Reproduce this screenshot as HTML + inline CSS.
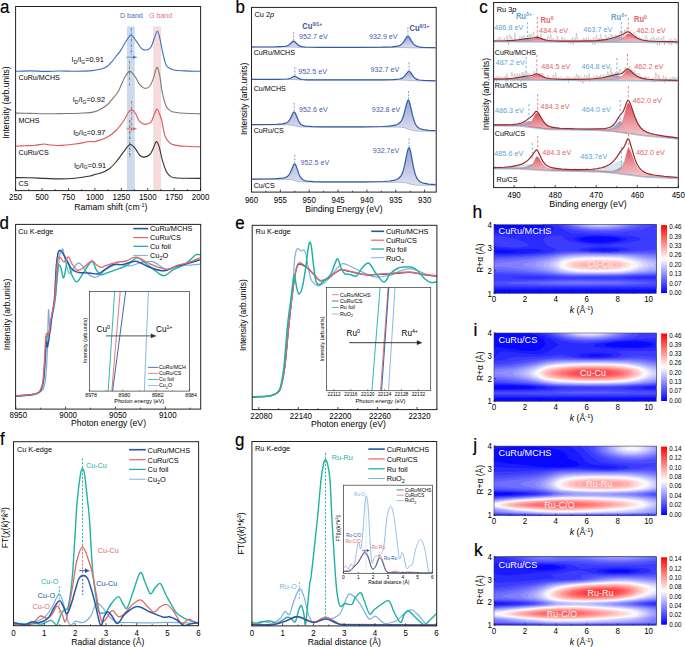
<!DOCTYPE html>
<html><head><meta charset="utf-8"><style>html,body{margin:0;padding:0;background:#fff;overflow:hidden;}svg{display:block;}text{font-family:"Liberation Sans",sans-serif;}</style></head><body><svg width="685" height="647" viewBox="0 0 685 647" font-family='"Liberation Sans", sans-serif'><defs><linearGradient id="gb" x1="0" y1="0" x2="0" y2="1"><stop offset="0" stop-color="#8f95cf"/><stop offset="1" stop-color="#dcdef0"/></linearGradient><linearGradient id="gr0" x1="0" y1="0" x2="0" y2="1"><stop offset="0" stop-color="#dc4854"/><stop offset="1" stop-color="#f7cdd0"/></linearGradient><linearGradient id="gbd" x1="0" y1="0" x2="0" y2="1"><stop offset="0" stop-color="#8a98bc"/><stop offset="1" stop-color="#c9cfe2"/></linearGradient><clipPath id="cd"><rect x="15.6" y="224.4" width="185.1" height="184.70000000000002"/></clipPath><clipPath id="ce"><rect x="252.2" y="225.3" width="184.7" height="184.3"/></clipPath><clipPath id="cf"><rect x="13.5" y="441.7" width="185.1" height="184.00000000000006"/></clipPath><clipPath id="cg"><rect x="251.9" y="441.5" width="184.79999999999998" height="184.39999999999998"/></clipPath><clipPath id="cgi"><rect x="343.4" y="485.2" width="89.0" height="88.09999999999997"/></clipPath><clipPath id="cliph"><rect x="494" y="224.6" width="162.3" height="69"/></clipPath><linearGradient id="cbh" x1="0" y1="1" x2="0" y2="0"><stop offset="0" stop-color="#0000ff"/><stop offset="0.5" stop-color="#ffffff"/><stop offset="1" stop-color="#ff0000"/></linearGradient><clipPath id="clipi"><rect x="494" y="333" width="162.3" height="68.5"/></clipPath><linearGradient id="cbi" x1="0" y1="1" x2="0" y2="0"><stop offset="0" stop-color="#0000ff"/><stop offset="0.5" stop-color="#ffffff"/><stop offset="1" stop-color="#ff0000"/></linearGradient><clipPath id="clipj"><rect x="494" y="446.1" width="162.3" height="69.4"/></clipPath><linearGradient id="cbj" x1="0" y1="1" x2="0" y2="0"><stop offset="0" stop-color="#0000ff"/><stop offset="0.5" stop-color="#ffffff"/><stop offset="1" stop-color="#ff0000"/></linearGradient><clipPath id="clipk"><rect x="494" y="556.8" width="162.3" height="68.4"/></clipPath><linearGradient id="cbk" x1="0" y1="1" x2="0" y2="0"><stop offset="0" stop-color="#0000ff"/><stop offset="0.5" stop-color="#ffffff"/><stop offset="1" stop-color="#ff0000"/></linearGradient></defs><rect width="685" height="647" fill="#fff"/><rect x="126.9" y="26.4" width="7.9" height="164.2" fill="#cbdbec"/>
<rect x="153.2" y="26.4" width="7.8" height="164.2" fill="#f7dadc"/>
<text x="0" y="0" font-size="7.6" fill="#3d74bd" text-anchor="middle" transform="translate(131.4 18.4) scale(0.93 1)">D band</text>
<text x="0" y="0" font-size="7.6" fill="#e27476" text-anchor="middle" transform="translate(160.6 18.4) scale(0.93 1)">G band</text>
<path d="M15.6,71.3C18,71.23 25.1,70.88 30,70.9C34.9,70.92 40,71.38 45,71.4C50,71.42 55,71.02 60,71C65,70.98 69.62,71.37 75,71.3C80.38,71.23 88.13,70.93 92.3,70.6C96.47,70.27 97.6,69.95 100,69.3C102.4,68.65 104.62,68.12 106.7,66.7C108.78,65.28 110.87,62.65 112.5,60.8C114.13,58.95 115.25,57.17 116.5,55.6C117.75,54.03 118.2,54.12 120,51.4C121.8,48.68 125.42,42 127.3,39.3C129.18,36.6 129.72,34.77 131.3,35.2C132.88,35.63 135.15,39.75 136.8,41.9C138.45,44.05 139.98,46.77 141.2,48.1C142.42,49.43 142.88,49.7 144.1,49.9C145.32,50.1 147.28,49.9 148.5,49.3C149.72,48.7 150.43,48.15 151.4,46.3C152.37,44.45 153.3,40.7 154.3,38.2C155.3,35.7 156.48,31.3 157.4,31.3C158.32,31.3 158.98,34.97 159.8,38.2C160.62,41.43 161.52,47.07 162.3,50.7C163.08,54.33 163.83,57.53 164.5,60C165.17,62.47 165.38,64.08 166.3,65.5C167.22,66.92 168.55,67.72 170,68.5C171.45,69.28 172.5,69.8 175,70.2C177.5,70.6 180.73,70.72 185,70.9C189.27,71.08 198,71.23 200.6,71.3" stroke="#3a72bd" stroke-width="1.1" fill="none" stroke-linejoin="round" stroke-linecap="round"/>
<path d="M15.6,113.1C18,113.15 25.1,113.28 30,113.4C34.9,113.52 40,113.77 45,113.8C50,113.83 54.17,113.7 60,113.6C65.83,113.5 74.17,113.53 80,113.2C85.83,112.87 90.55,112.93 95,111.6C99.45,110.27 103.78,107.33 106.7,105.2C109.62,103.07 110.55,101.13 112.5,98.8C114.45,96.47 116.45,94.6 118.4,91.2C120.35,87.8 122.35,81.7 124.2,78.4C126.05,75.1 127.75,71.8 129.5,71.4C131.25,71 133.05,73.87 134.7,76C136.35,78.13 137.75,82.15 139.4,84.2C141.05,86.25 142.85,88 144.6,88.3C146.35,88.6 148.43,87.65 149.9,86C151.37,84.35 152.23,81.52 153.4,78.4C154.57,75.28 155.83,67.7 156.9,67.3C157.97,66.9 158.92,71.82 159.8,76C160.68,80.18 161.12,87.33 162.2,92.4C163.28,97.47 164.85,103.28 166.3,106.4C167.75,109.52 169.45,110.13 170.9,111.1C172.35,112.07 172.65,111.83 175,112.2C177.35,112.57 180.73,113.02 185,113.3C189.27,113.58 198,113.8 200.6,113.9" stroke="#7a7a7a" stroke-width="1.1" fill="none" stroke-linejoin="round" stroke-linecap="round"/>
<path d="M15.6,146.2C17.17,146.12 21.77,145.85 25,145.7C28.23,145.55 31.82,145.58 35,145.3C38.18,145.02 41.6,144.05 44.1,144C46.6,143.95 47.28,144.77 50,145C52.72,145.23 56.23,145.57 60.4,145.4C64.57,145.23 70.07,144.65 75,144C79.93,143.35 86.67,141.9 90,141.5C93.33,141.1 92.22,142.27 95,141.6C97.78,140.93 103.2,139.35 106.7,137.5C110.2,135.65 113.08,133.42 116,130.5C118.92,127.58 122.2,122.92 124.2,120C126.2,117.08 126.73,114.68 128,113C129.27,111.32 130.55,109.82 131.8,109.9C133.05,109.98 134.23,111.62 135.5,113.5C136.77,115.38 137.78,119.38 139.4,121.2C141.02,123.02 143.25,124.3 145.2,124.4C147.15,124.5 149.63,123.37 151.1,121.8C152.57,120.23 153.03,117.13 154,115C154.97,112.87 155.98,109.17 156.9,109C157.82,108.83 158.72,112.17 159.5,114C160.28,115.83 160.67,116.27 161.6,120C162.53,123.73 163.73,132.6 165.1,136.4C166.47,140.2 168.15,141.35 169.8,142.8C171.45,144.25 172.47,144.52 175,145.1C177.53,145.68 180.73,146 185,146.3C189.27,146.6 198,146.8 200.6,146.9" stroke="#e25656" stroke-width="1.1" fill="none" stroke-linejoin="round" stroke-linecap="round"/>
<path d="M15.6,177.6C18,177.63 25.1,177.67 30,177.8C34.9,177.93 39.93,178.22 45,178.4C50.07,178.58 55.4,178.93 60.4,178.9C65.4,178.87 70.07,178.68 75,178.2C79.93,177.72 86.67,176.65 90,176C93.33,175.35 93.2,174.78 95,174.3C96.8,173.82 98.47,173.98 100.8,173.1C103.13,172.22 106.47,170.85 109,169C111.53,167.15 113.67,164.72 116,162C118.33,159.28 120.67,155.62 123,152.7C125.33,149.78 127.95,145.18 130,144.5C132.05,143.82 133.73,146.85 135.3,148.6C136.87,150.35 137.93,153.58 139.4,155C140.87,156.42 142.35,157.18 144.1,157.1C145.85,157.02 148.35,156.02 149.9,154.5C151.45,152.98 152.33,150.15 153.4,148C154.47,145.85 155.33,141.78 156.3,141.6C157.27,141.42 158.22,143.88 159.2,146.9C160.18,149.92 161.02,155.62 162.2,159.7C163.38,163.78 164.85,168.58 166.3,171.4C167.75,174.22 169.45,175.53 170.9,176.6C172.35,177.67 172.65,177.52 175,177.8C177.35,178.08 180.73,178.2 185,178.3C189.27,178.4 198,178.38 200.6,178.4" stroke="#333333" stroke-width="1.1" fill="none" stroke-linejoin="round" stroke-linecap="round"/>
<line x1="131.3" y1="28" x2="131.3" y2="54.5" stroke="#3a72bd" stroke-width="0.9" stroke-dasharray="2.5,1.2,0.6,1.2"/>
<line x1="129.5" y1="61" x2="129.5" y2="86" stroke="#7a7a7a" stroke-width="0.9" stroke-dasharray="2.5,1.2,0.6,1.2"/>
<line x1="131.6" y1="101" x2="131.6" y2="132" stroke="#e25656" stroke-width="0.9" stroke-dasharray="2.5,1.2,0.6,1.2"/>
<line x1="129.8" y1="120" x2="129.8" y2="157.4" stroke="#555" stroke-width="0.9" stroke-dasharray="2.5,1.2,0.6,1.2"/>
<line x1="126.3" y1="57.2" x2="134.5" y2="57.2" stroke="#3a72bd" stroke-width="0.7"/>
<path d="M133,55.9L137.2,57.2L133,58.5Z" stroke="#3a72bd" stroke-width="0.2" fill="#3a72bd"/>
<line x1="126.3" y1="128.8" x2="134.3" y2="128.8" stroke="#e25656" stroke-width="0.7"/>
<path d="M133,127.5L136.8,128.8L133,130.1Z" stroke="#e25656" stroke-width="0.2" fill="#e25656"/>
<text x="0" y="0" font-size="7.92" fill="#000" transform="translate(71.6 62.3) scale(0.93 1)">I<tspan font-size="5.35" dy="1.6">D</tspan><tspan dy="-1.6">/I</tspan><tspan font-size="5.35" dy="1.6">G</tspan><tspan dy="-1.6">=0.91</tspan></text>
<text x="0" y="0" font-size="7.92" fill="#000" transform="translate(72.8 102.2) scale(0.93 1)">I<tspan font-size="5.35" dy="1.6">D</tspan><tspan dy="-1.6">/I</tspan><tspan font-size="5.35" dy="1.6">G</tspan><tspan dy="-1.6">=0.92</tspan></text>
<text x="0" y="0" font-size="7.92" fill="#000" transform="translate(73.2 134.6) scale(0.93 1)">I<tspan font-size="5.35" dy="1.6">D</tspan><tspan dy="-1.6">/I</tspan><tspan font-size="5.35" dy="1.6">G</tspan><tspan dy="-1.6">=0.97</tspan></text>
<text x="0" y="0" font-size="7.92" fill="#000" transform="translate(74 167.8) scale(0.93 1)">I<tspan font-size="5.35" dy="1.6">D</tspan><tspan dy="-1.6">/I</tspan><tspan font-size="5.35" dy="1.6">G</tspan><tspan dy="-1.6">=0.91</tspan></text>
<text x="0" y="0" font-size="7.7" fill="#000" transform="translate(18.5 79.8) scale(0.93 1)">CuRu/MCHS</text>
<text x="0" y="0" font-size="7.7" fill="#000" transform="translate(18.5 122.8) scale(0.93 1)">MCHS</text>
<text x="0" y="0" font-size="7.7" fill="#000" transform="translate(18.5 155.3) scale(0.93 1)">CuRu/CS</text>
<text x="0" y="0" font-size="7.7" fill="#000" transform="translate(18.5 185.8) scale(0.93 1)">CS</text>
<rect x="15.6" y="6.5" width="185" height="184.1" fill="none" stroke="#222" stroke-width="1"/>
<line x1="15.6" y1="190.6" x2="15.6" y2="188" stroke="#222" stroke-width="0.8"/>
<text x="0" y="0" font-size="8.56" fill="#000" text-anchor="middle" transform="translate(15.6 200.4) scale(0.93 1)">250</text>
<line x1="28.81" y1="190.6" x2="28.81" y2="189.2" stroke="#222" stroke-width="0.8"/>
<line x1="42.03" y1="190.6" x2="42.03" y2="188" stroke="#222" stroke-width="0.8"/>
<text x="0" y="0" font-size="8.56" fill="#000" text-anchor="middle" transform="translate(42.03 200.4) scale(0.93 1)">500</text>
<line x1="55.24" y1="190.6" x2="55.24" y2="189.2" stroke="#222" stroke-width="0.8"/>
<line x1="68.46" y1="190.6" x2="68.46" y2="188" stroke="#222" stroke-width="0.8"/>
<text x="0" y="0" font-size="8.56" fill="#000" text-anchor="middle" transform="translate(68.46 200.4) scale(0.93 1)">750</text>
<line x1="81.67" y1="190.6" x2="81.67" y2="189.2" stroke="#222" stroke-width="0.8"/>
<line x1="94.89" y1="190.6" x2="94.89" y2="188" stroke="#222" stroke-width="0.8"/>
<text x="0" y="0" font-size="8.56" fill="#000" text-anchor="middle" transform="translate(94.89 200.4) scale(0.93 1)">1000</text>
<line x1="108.1" y1="190.6" x2="108.1" y2="189.2" stroke="#222" stroke-width="0.8"/>
<line x1="121.31" y1="190.6" x2="121.31" y2="188" stroke="#222" stroke-width="0.8"/>
<text x="0" y="0" font-size="8.56" fill="#000" text-anchor="middle" transform="translate(121.31 200.4) scale(0.93 1)">1250</text>
<line x1="134.53" y1="190.6" x2="134.53" y2="189.2" stroke="#222" stroke-width="0.8"/>
<line x1="147.74" y1="190.6" x2="147.74" y2="188" stroke="#222" stroke-width="0.8"/>
<text x="0" y="0" font-size="8.56" fill="#000" text-anchor="middle" transform="translate(147.74 200.4) scale(0.93 1)">1500</text>
<line x1="160.96" y1="190.6" x2="160.96" y2="189.2" stroke="#222" stroke-width="0.8"/>
<line x1="174.17" y1="190.6" x2="174.17" y2="188" stroke="#222" stroke-width="0.8"/>
<text x="0" y="0" font-size="8.56" fill="#000" text-anchor="middle" transform="translate(174.17 200.4) scale(0.93 1)">1750</text>
<line x1="187.39" y1="190.6" x2="187.39" y2="189.2" stroke="#222" stroke-width="0.8"/>
<line x1="200.6" y1="190.6" x2="200.6" y2="188" stroke="#222" stroke-width="0.8"/>
<text x="0" y="0" font-size="8.56" fill="#000" text-anchor="middle" transform="translate(200.6 200.4) scale(0.93 1)">2000</text>
<text x="0" y="0" font-size="9.31" fill="#000" text-anchor="middle" transform="translate(110.8 209.9) scale(0.93 1)">Ramam shift (cm<tspan font-size="5.89" dy="-3">-1</tspan><tspan dy="3">)</tspan></text>
<text x="0" y="0" font-size="9.15" fill="#000" text-anchor="middle" transform="translate(9.1 102.5) rotate(-90) scale(0.93 1)">Intensity (arb.units)</text>
<text x="0" y="0" font-size="18.19" fill="#000" stroke="#000" stroke-width="0.2" transform="translate(0 12.9) scale(0.93 1)">a</text>
<path d="M257.5,47L277.5,46.8 285.5,46.3 288.5,45.2 289.5,44.5 292.5,41.6 293.5,41.1 294.5,41.4 297.5,44.5 299.5,45.9 301.5,46.6 305.5,47 319.5,47.3 359.5,47.3 381.5,47.2 392.5,46.8 397.5,46.2 400.5,45.1 402.5,43.4 406.5,37.2 407.5,36.3 408.5,36.4 409.5,37.6 411.5,41.1 413.5,43.9 414.5,44.9 416.5,46.1 418.5,46.8 422.5,47.3 435.5,47.7 435.5,47.9 414.5,47.9 398.5,47.4 303.5,47.4 286.5,47 257.5,47Z" fill="url(#gb)" stroke="none" opacity="0.9"/>
<path d="M251.5,47L286.5,47 303.5,47.4 398.5,47.4 414.5,47.9 435.5,47.9" stroke="#8088a8" stroke-width="0.5" fill="none"/>
<path d="M251.5,47L275.5,46.8 284.5,46.4 286.5,46 288.5,45.2 289.5,44.5 292.5,41.6 293.5,41.1 294.5,41.4 297.5,44.5 299.5,45.9 301.5,46.6 305.5,47 319.5,47.3 359.5,47.3 381.5,47.2 392.5,46.8 397.5,46.2 399.5,45.6 400.5,45.1 402.5,43.4 403.5,42.1 406.5,37.2 407.5,36.3 408.5,36.4 409.5,37.6 411.5,41.1 413.5,43.9 414.5,44.9 416.5,46.1 418.5,46.8 422.5,47.3 435.5,47.7" stroke="#2f5ca6" stroke-width="1.2" fill="none" stroke-linejoin="round"/>
<line x1="293.63" y1="32.1" x2="293.63" y2="40.1" stroke="#5a70b8" stroke-width="0.7" stroke-dasharray="2,1.3"/>
<line x1="407.92" y1="27.2" x2="407.92" y2="35.2" stroke="#5a70b8" stroke-width="0.7" stroke-dasharray="2,1.3"/>
<path d="M269.5,79.4L282.5,79.2 287.5,78.9 290.5,78.2 293.5,76.5 294.5,76.2 295.5,76.4 298.5,78.3 300.5,79.1 302.5,79.5 306.5,79.8 368.5,79.9 394.5,79.6 399.5,79 402.5,77.9 404.5,76.2 407.5,72.3 408.5,71.4 409.5,71.4 410.5,72.4 412.5,75.4 414.5,77.8 415.5,78.6 417.5,79.6 419.5,80 423.5,80.4 435.5,80.8 435.5,80.9 415.5,80.8 405.5,80.2 399.5,80 304.5,80 288.5,79.4 269.5,79.4Z" fill="url(#gb)" stroke="none" opacity="0.9"/>
<path d="M251.5,79.4L287.5,79.4 304.5,80 399.5,80 405.5,80.2 415.5,80.8 435.5,80.9" stroke="#8088a8" stroke-width="0.5" fill="none"/>
<path d="M251.5,79.4L277.5,79.3 286.5,79 288.5,78.8 290.5,78.2 293.5,76.5 294.5,76.2 295.5,76.4 298.5,78.3 300.5,79.1 302.5,79.5 306.5,79.8 365.5,79.9 383.5,79.8 393.5,79.6 399.5,79 401.5,78.4 402.5,77.9 404.5,76.2 407.5,72.3 408.5,71.4 409.5,71.4 410.5,72.4 412.5,75.4 414.5,77.8 415.5,78.6 417.5,79.6 419.5,80 423.5,80.4 435.5,80.8" stroke="#2f5ca6" stroke-width="1.2" fill="none" stroke-linejoin="round"/>
<line x1="294.79" y1="67.2" x2="294.79" y2="75.2" stroke="#5a70b8" stroke-width="0.7" stroke-dasharray="2,1.3"/>
<line x1="409.07" y1="62.3" x2="409.07" y2="70.3" stroke="#5a70b8" stroke-width="0.7" stroke-dasharray="2,1.3"/>
<path d="M251.5,124.6L276.5,124.3 282.5,123.9 285.5,123.2 287.5,122.3 288.5,121.4 290.5,118.4 292.5,113.9 293.5,112.2 294.5,112 295.5,113.6 298.5,121 300.5,123.9 302.5,125.2 306.5,126.2 312.5,126.6 321.5,126.8 361.5,126.8 382.5,126.5 392.5,125.7 396.5,124.8 398.5,123.8 400.5,122 401.5,120.6 403.5,115.8 407.5,101 408.5,100 409.5,101.8 412.5,115.2 414.5,122 415.5,124.3 417.5,127.1 419.5,128.5 423.5,129.7 428.5,130.3 435.5,130.7 435.5,131.2 420.5,131.2 414.5,130.9 411.5,130.2 404.5,127.7 398.5,127.1 304.5,127 298.5,126.6 290.5,125.1 286.5,124.8 251.5,124.7Z" fill="url(#gb)" stroke="none" opacity="0.9"/>
<path d="M251.5,124.7L286.5,124.8 290.5,125.1 298.5,126.6 304.5,127 398.5,127.1 401.5,127.2 404.5,127.7 411.5,130.2 414.5,130.9 420.5,131.2 435.5,131.2" stroke="#8088a8" stroke-width="0.5" fill="none"/>
<path d="M251.5,124.6L276.5,124.3 282.5,123.9 285.5,123.2 287.5,122.3 288.5,121.4 289.5,120.1 290.5,118.4 292.5,113.9 293.5,112.2 294.5,112 295.5,113.6 298.5,121 299.5,122.7 300.5,123.9 302.5,125.2 304.5,125.9 306.5,126.2 312.5,126.6 321.5,126.8 361.5,126.8 382.5,126.5 388.5,126.1 392.5,125.7 396.5,124.8 398.5,123.8 400.5,122 401.5,120.6 402.5,118.5 403.5,115.8 406.5,104.2 407.5,101 408.5,100 409.5,101.8 412.5,115.2 414.5,122 415.5,124.3 416.5,125.9 417.5,127.1 419.5,128.5 421.5,129.2 423.5,129.7 428.5,130.3 435.5,130.7" stroke="#2f5ca6" stroke-width="1.2" fill="none" stroke-linejoin="round"/>
<line x1="294.21" y1="102.9" x2="294.21" y2="110.9" stroke="#5a70b8" stroke-width="0.7" stroke-dasharray="2,1.3"/>
<line x1="408.5" y1="91" x2="408.5" y2="99" stroke="#5a70b8" stroke-width="0.7" stroke-dasharray="2,1.3"/>
<path d="M251.5,179.1L276.5,178.7 282.5,178.2 285.5,177.5 287.5,176.4 289.5,174.1 290.5,172.3 293.5,165 294.5,163.8 295.5,164.5 298.5,172.9 300.5,177.2 301.5,178.5 303.5,180 305.5,180.8 307.5,181.2 313.5,181.7 322.5,181.9 363.5,181.9 383.5,181.5 389.5,181 393.5,180.4 396.5,179.5 398.5,178.5 400.5,176.5 401.5,174.9 403.5,169.6 404.5,165.7 407.5,151 408.5,147.9 409.5,147.9 410.5,151.2 413.5,167.3 414.5,171.6 415.5,174.9 417.5,179.2 419.5,181.4 421.5,182.5 423.5,183.2 428.5,184.1 435.5,184.6 435.5,185.3 415.5,185.1 411.5,184.4 405.5,182.8 400.5,182.3 304.5,182.1 298.5,181.6 291.5,179.8 287.5,179.4 251.5,179.2Z" fill="url(#gb)" stroke="none" opacity="0.9"/>
<path d="M251.5,179.2L287.5,179.4 291.5,179.8 298.5,181.6 304.5,182.1 400.5,182.3 405.5,182.8 411.5,184.4 415.5,185.1 420.5,185.3 435.5,185.3" stroke="#8088a8" stroke-width="0.5" fill="none"/>
<path d="M251.5,179.1L267.5,179 276.5,178.7 282.5,178.2 285.5,177.5 287.5,176.4 288.5,175.5 289.5,174.1 290.5,172.3 293.5,165 294.5,163.8 295.5,164.5 296.5,166.9 298.5,172.9 299.5,175.4 300.5,177.2 301.5,178.5 303.5,180 305.5,180.8 307.5,181.2 313.5,181.7 322.5,181.9 363.5,181.9 383.5,181.5 389.5,181 393.5,180.4 396.5,179.5 398.5,178.5 400.5,176.5 401.5,174.9 402.5,172.6 403.5,169.6 404.5,165.7 407.5,151 408.5,147.9 409.5,147.9 410.5,151.2 413.5,167.3 414.5,171.6 415.5,174.9 416.5,177.4 417.5,179.2 418.5,180.5 419.5,181.4 421.5,182.5 423.5,183.2 428.5,184.1 435.5,184.6" stroke="#2f5ca6" stroke-width="1.2" fill="none" stroke-linejoin="round"/>
<line x1="294.79" y1="154.8" x2="294.79" y2="162.8" stroke="#5a70b8" stroke-width="0.7" stroke-dasharray="2,1.3"/>
<line x1="409.07" y1="138.5" x2="409.07" y2="146.5" stroke="#5a70b8" stroke-width="0.7" stroke-dasharray="2,1.3"/>
<text x="0" y="0" font-size="8.13" fill="#3b4f9e" font-weight="bold" transform="translate(302.3 28.6) scale(0.93 1)">Cu<tspan font-size="5.35" dy="-2.8">0/1+</tspan></text>
<text x="0" y="0" font-size="8.13" fill="#3b4f9e" font-weight="bold" transform="translate(409.5 30.8) scale(0.93 1)">Cu<tspan font-size="5.35" dy="-2.8">0/1+</tspan></text>
<text x="0" y="0" font-size="7.7" fill="#4a5daa" transform="translate(299.1 39) scale(0.93 1)">952.7 eV</text>
<text x="0" y="0" font-size="7.7" fill="#4a5daa" transform="translate(369 39) scale(0.93 1)">932.9 eV</text>
<text x="0" y="0" font-size="7.7" fill="#4a5daa" transform="translate(298.3 73.6) scale(0.93 1)">952.5 eV</text>
<text x="0" y="0" font-size="7.7" fill="#4a5daa" transform="translate(370.6 71.9) scale(0.93 1)">932.7 eV</text>
<text x="0" y="0" font-size="7.7" fill="#4a5daa" transform="translate(299.1 111.6) scale(0.93 1)">952.6 eV</text>
<text x="0" y="0" font-size="7.7" fill="#4a5daa" transform="translate(371.7 111.6) scale(0.93 1)">932.8 eV</text>
<text x="0" y="0" font-size="7.7" fill="#4a5daa" transform="translate(300.6 164.5) scale(0.93 1)">952.5 eV</text>
<text x="0" y="0" font-size="7.7" fill="#4a5daa" transform="translate(372.7 152.7) scale(0.93 1)">932.7eV</text>
<text x="0" y="0" font-size="7.7" fill="#000" transform="translate(253.7 54.6) scale(0.93 1)">CuRu/MCHS</text>
<text x="0" y="0" font-size="7.7" fill="#000" transform="translate(253.7 91.2) scale(0.93 1)">Cu/MCHS</text>
<text x="0" y="0" font-size="7.7" fill="#000" transform="translate(253.7 132.5) scale(0.93 1)">CuRu/CS</text>
<text x="0" y="0" font-size="7.7" fill="#000" transform="translate(253.7 187.6) scale(0.93 1)">Cu/CS</text>
<text x="0" y="0" font-size="7.92" transform="translate(254.5 17.2) scale(0.93 1)">Cu 2<tspan font-style="italic">p</tspan></text>
<rect x="251.5" y="7.4" width="184.7" height="184.7" fill="none" stroke="#222" stroke-width="1"/>
<line x1="424.66" y1="192.1" x2="424.66" y2="189.5" stroke="#222" stroke-width="0.8"/>
<text x="0" y="0" font-size="8.56" fill="#000" text-anchor="middle" transform="translate(424.66 202.5) scale(0.93 1)">930</text>
<line x1="410.23" y1="192.1" x2="410.23" y2="190.7" stroke="#222" stroke-width="0.8"/>
<line x1="395.8" y1="192.1" x2="395.8" y2="189.5" stroke="#222" stroke-width="0.8"/>
<text x="0" y="0" font-size="8.56" fill="#000" text-anchor="middle" transform="translate(395.8 202.5) scale(0.93 1)">935</text>
<line x1="381.37" y1="192.1" x2="381.37" y2="190.7" stroke="#222" stroke-width="0.8"/>
<line x1="366.94" y1="192.1" x2="366.94" y2="189.5" stroke="#222" stroke-width="0.8"/>
<text x="0" y="0" font-size="8.56" fill="#000" text-anchor="middle" transform="translate(366.94 202.5) scale(0.93 1)">940</text>
<line x1="352.51" y1="192.1" x2="352.51" y2="190.7" stroke="#222" stroke-width="0.8"/>
<line x1="338.08" y1="192.1" x2="338.08" y2="189.5" stroke="#222" stroke-width="0.8"/>
<text x="0" y="0" font-size="8.56" fill="#000" text-anchor="middle" transform="translate(338.08 202.5) scale(0.93 1)">945</text>
<line x1="323.65" y1="192.1" x2="323.65" y2="190.7" stroke="#222" stroke-width="0.8"/>
<line x1="309.22" y1="192.1" x2="309.22" y2="189.5" stroke="#222" stroke-width="0.8"/>
<text x="0" y="0" font-size="8.56" fill="#000" text-anchor="middle" transform="translate(309.22 202.5) scale(0.93 1)">950</text>
<line x1="294.79" y1="192.1" x2="294.79" y2="190.7" stroke="#222" stroke-width="0.8"/>
<line x1="280.36" y1="192.1" x2="280.36" y2="189.5" stroke="#222" stroke-width="0.8"/>
<text x="0" y="0" font-size="8.56" fill="#000" text-anchor="middle" transform="translate(280.36 202.5) scale(0.93 1)">955</text>
<line x1="265.93" y1="192.1" x2="265.93" y2="190.7" stroke="#222" stroke-width="0.8"/>
<line x1="251.5" y1="192.1" x2="251.5" y2="189.5" stroke="#222" stroke-width="0.8"/>
<text x="0" y="0" font-size="8.56" fill="#000" text-anchor="middle" transform="translate(251.5 202.5) scale(0.93 1)">960</text>
<text x="0" y="0" font-size="9.31" fill="#000" text-anchor="middle" transform="translate(344 211.8) scale(0.93 1)">Binding Energy (eV)</text>
<text x="0" y="0" font-size="9.15" fill="#000" text-anchor="middle" transform="translate(247.2 98.9) rotate(-90) scale(0.93 1)">Intensity (arb.units)</text>
<text x="0" y="0" font-size="18.19" fill="#000" stroke="#000" stroke-width="0.2" transform="translate(235.5 12.5) scale(0.93 1)">b</text>
<path d="M493.6,41.1L511.6,40.7 527.6,39.1 529.6,39.3 536.6,40.6 541.6,41 568.6,41.4 568.6,41.5 493.6,41.2Z" fill="url(#gbd)" stroke="#7ea2c8" stroke-width="0.4" opacity="0.93"/>
<path d="M511.6,41.2L567.6,41.3 591.6,41 603.6,40.1 608.6,39.4 617.6,37.5 621.6,37.2 623.6,37.8 629.6,40.3 634.6,41.2 645.6,41.7 672.6,42 672.6,42.1 511.6,41.3Z" fill="url(#gbd)" stroke="#7ea2c8" stroke-width="0.4" opacity="0.93"/>
<path d="M500.6,41.2L518.6,41.1 526.6,40.8 530.6,40.2 535.6,38.4 537.6,38.1 539.6,38.5 544.6,40.1 549.6,40.9 559.6,41.3 580.6,41.5 580.6,41.5 500.6,41.2Z" fill="url(#gr0)" stroke="#d25a64" stroke-width="0.4" opacity="0.93"/>
<path d="M576.6,41.5L605.6,41.4 616.6,40.9 619.6,40.3 621.6,39.4 623.6,37.9 626.6,34.7 627.6,34 628.6,33.8 630.6,34.4 635.6,37.7 637.6,38.8 640.6,39.9 643.6,40.6 648.6,41.1 654.6,41.5 677.6,42 677.6,42.1 576.6,41.5Z" fill="url(#gr0)" stroke="#d25a64" stroke-width="0.4" opacity="0.93"/>
<path d="M493.6,41.9L677.6,42.8" stroke="#98bedf" stroke-width="0.9" fill="none"/>
<path d="M494.1,41.3L494.9,40.3 495.7,40.3 496.5,41.9 497.3,38.7 498.1,38.4 498.9,41.1 499.7,36.7 500.5,38.5 501.3,42.2 502.1,39.8 502.9,39.7 503.7,41 504.5,37.8 505.3,41.4 506.1,42.1 506.9,35.3 507.7,38.9 508.5,45 509.3,34.7 510.1,34.6 510.9,40.6 511.7,36.6 513.3,41 514.1,40.4 514.9,32.5 515.7,41.2 516.5,39.9 517.3,39.7 518.1,42.5 518.9,38.6 519.7,36.7 520.5,41.4 521.3,36.4 522.1,36.3 522.9,39.5 523.7,35.5 524.5,37 525.3,39 526.1,37.5 526.9,39.4 527.7,40.2 528.5,37.8 529.3,34.5 530.1,41 530.9,34 531.7,37.9 532.5,39.3 533.3,31.7 534.1,34.7 534.9,39.8 535.7,37 536.5,36.1 537.3,37.5 538.1,35.3 538.9,38.3 539.7,39.4 540.5,33.5 541.3,35.4 542.1,39.1 542.9,38.3 543.7,39.6 544.5,41.7 545.3,38.1 546.1,39.6 546.9,42 547.7,36.6 548.5,36.4 549.3,41.5 550.1,38.9 550.9,34.4 551.7,41.8 552.5,40.1 553.3,37.9 554.1,42 554.9,39.9 555.7,39.6 556.5,41.8 557.3,36.2 558.1,40.2 558.9,41.7 559.7,39.8 561.3,41.4 562.1,36.6 562.9,40.9 563.7,42.2 564.5,38 565.3,38.6 566.1,41.2 566.9,39.9 567.7,39.8 568.5,43.3 570.1,39.3 570.9,43.9 572.5,37 573.3,45 574.1,40 574.9,37.7 575.7,41.3 576.5,33.3 578.1,41.8 578.9,39.9 579.7,40.2 580.5,41.3 581.3,40.6 582.1,39.2 582.9,41.3 583.7,37.7 584.5,40.4 585.3,41.5 586.1,37.7 586.9,41 587.7,42.2 588.5,37.3 589.3,39.8 590.1,41.2 590.9,39.2 591.7,40.3 592.5,44.4 593.3,37.4 594.1,39.4 594.9,44.7 595.7,38.1 596.5,35.1 597.3,41.8 598.1,38.9 598.9,38.3 599.7,40.5 600.5,34.4 601.3,36.5 602.1,43.5 602.9,38.9 603.7,39.5 604.5,39.8 605.3,36.5 606.1,35 606.9,40.5 608.5,36.9 609.3,39.2 610.1,34.8 610.9,34.1 611.7,39 612.5,35 613.3,37.7 614.1,39.3 614.9,36.4 615.7,34.7 616.5,37.3 617.3,36.1 618.1,36.1 618.9,38.8 619.7,33.6 620.5,30.2 621.3,36.4 622.1,31.2 622.9,32.4 623.7,37 624.5,29.4 625.3,32.2 626.1,33.5 626.9,27.1 627.7,28.5 628.5,32.3 629.3,32.2 630.1,30.7 630.9,34.4 631.7,33 632.5,34.4 633.3,37.9 634.1,31.7 634.9,33 635.7,38 636.5,35.6 637.3,38.8 638.1,39.2 639.7,37 640.5,40.2 641.3,38.6 642.1,41.4 642.9,42.4 643.7,39.1 644.5,38.9 645.3,41.6 646.1,35.4 646.9,37.6 647.7,42.3 648.5,39.8 649.3,40 650.1,42.4 650.9,37.9 651.7,38 652.5,42.3 653.3,36.5 654.1,37.1 654.9,43.3 655.7,39.7 656.5,38.1 657.3,45.4 658.1,36.8 658.9,38.5 659.7,45.3 660.5,39 661.3,38 662.1,42 662.9,39.5 663.7,36.2 664.5,45.1 665.3,40.4 666.1,41.8 666.9,42.3 667.7,41.2 668.5,39.4 669.3,44.7 670.9,38.7 671.7,45.3 672.5,40.2 673.3,41.7 674.1,42.3 674.9,38.2 675.7,39.8 676.5,44.4 677.3,39.5 678.1,40.6" stroke="#ababab" stroke-width="0.5" fill="none"/>
<path d="M493.6,41L505.6,40.8 513.6,40.4 518.6,39.8 526.6,38.6 531.6,38.2 536.6,37.2 538.6,37.5 542.6,39.1 545.6,40 548.6,40.5 552.6,40.8 562.6,41.1 576.6,41.1 588.6,40.9 596.6,40.6 605.6,39.6 609.6,38.8 613.6,37.8 620.6,35.4 623.6,33.9 626.6,32.1 627.6,31.8 628.6,32 629.6,32.5 634.6,36.4 637.6,38.3 640.6,39.5 643.6,40.3 648.6,41 654.6,41.3 677.6,41.9" stroke="#9e2626" stroke-width="1.15" fill="none" stroke-linejoin="round"/>
<path d="M493.6,79.2L510.6,78.8 525.6,77 527.6,77.1 535.6,78.8 540.6,79.2 571.6,79.8 571.6,79.8 493.6,79.4Z" fill="url(#gbd)" stroke="#7ea2c8" stroke-width="0.4" opacity="0.93"/>
<path d="M506.6,79.4L563.6,79.6 587.6,79.3 599.6,78.4 612.6,76 616.6,75.6 618.6,75.9 623.6,77.8 626.6,78.7 632.6,79.6 645.6,80.1 676.6,80.5 676.6,80.6 506.6,79.5Z" fill="url(#gbd)" stroke="#7ea2c8" stroke-width="0.4" opacity="0.93"/>
<path d="M493.6,79.3L515.6,79.3 525.6,78.9 528.6,78.4 530.6,77.7 535.6,74.9 536.6,74.7 538.6,75 542.6,77 545.6,78.2 550.6,79 562.6,79.6 590.6,79.9 590.6,79.9 493.6,79.4Z" fill="url(#gr0)" stroke="#d25a64" stroke-width="0.4" opacity="0.93"/>
<path d="M570.6,79.8L603.6,79.8 610.6,79.6 615.6,79.1 618.6,78.4 620.6,77.4 622.6,75.6 626.6,70.6 627.6,70.2 629.6,70.9 634.6,75 636.6,76.3 639.6,77.8 642.6,78.6 647.6,79.4 653.6,79.8 677.6,80.4 677.6,80.6 570.6,79.8Z" fill="url(#gr0)" stroke="#d25a64" stroke-width="0.4" opacity="0.93"/>
<path d="M493.6,80.1L677.6,81.3" stroke="#98bedf" stroke-width="0.9" fill="none"/>
<path d="M494.1,82.9L494.9,78.7 495.7,77.2 496.5,81.6 497.3,75.6 498.1,77.2 498.9,80.4 499.7,77.7 500.5,76.3 501.3,79.9 502.1,77.5 502.9,77 503.7,79.9 504.5,77 505.3,76.1 506.1,82.1 506.9,73.4 507.7,76.6 508.5,79 509.3,78.5 510.1,78.4 510.9,78.7 511.7,72.3 512.5,74.1 513.3,81.1 514.1,74.6 514.9,73.7 515.7,79.6 516.5,75.1 517.3,73.3 518.1,79.7 519.7,73.6 520.5,81.7 521.3,75.3 522.1,72.4 522.9,78.9 523.7,72.4 524.5,75.2 525.3,79 526.1,71.9 526.9,72 527.7,78.1 528.5,74.9 529.3,73.2 530.1,79.5 530.9,74.5 531.7,75.1 532.5,75.6 533.3,73.6 534.1,71.1 534.9,74.8 535.7,75 536.5,70.6 537.3,77.2 538.1,73.3 538.9,73 539.7,75.1 540.5,73.5 541.3,73.4 542.1,76.4 542.9,73.2 543.7,75.2 544.5,78 545.3,76.7 546.1,78.7 546.9,79.5 547.7,75.2 548.5,78 549.3,79.3 550.1,77.3 550.9,78.6 551.7,81.1 552.5,78.9 553.3,74.8 554.1,79.6 554.9,77.7 555.7,72.7 556.5,79.5 557.3,79.6 558.1,77.5 558.9,80.2 559.7,77.7 560.5,76.6 561.3,79.5 562.1,78.4 562.9,78 563.7,81.3 564.5,78.4 565.3,78.5 566.1,79.4 566.9,77.4 567.7,76.4 568.5,82.6 569.3,77 570.1,78.2 570.9,79.7 571.7,78.3 572.5,78.3 573.3,79.9 574.1,76.4 574.9,77.5 575.7,80.1 576.5,73.9 578.1,81.7 578.9,75 579.7,79 580.5,82.3 581.3,76.6 582.1,78.9 582.9,83.8 583.7,78.1 584.5,75.3 585.3,81.5 586.1,77.4 586.9,75.4 587.7,80.3 588.5,78.1 589.3,73.4 590.1,81.9 590.9,77.8 591.7,79.2 592.5,81.2 593.3,75.9 594.1,76.4 594.9,79.5 595.7,78.2 596.5,75 597.3,79.9 598.1,77.8 598.9,76.3 599.7,79.5 600.5,74.7 601.3,77.3 602.1,78.1 602.9,75.9 603.7,74.1 604.5,80.7 605.3,75.8 606.1,76.1 606.9,77.5 607.7,71.3 609.3,77.6 610.1,73 610.9,67.5 611.7,76.7 612.5,72.3 613.3,74 614.1,76.1 614.9,73.7 615.7,71.9 616.5,79.3 617.3,74.2 618.1,72.4 618.9,75.6 619.7,69 620.5,69.9 621.3,74.6 622.1,71.7 622.9,71 623.7,72.9 624.5,71.7 625.3,67.1 626.1,72.8 626.9,68.2 627.7,68.7 628.5,69.8 629.3,66 630.9,73.9 631.7,69 632.5,72.7 633.3,73.9 634.1,70.5 634.9,71.3 635.7,78.1 636.5,73 637.3,76 638.1,77.9 638.9,72.9 639.7,73.6 640.5,78.4 641.3,77.7 642.1,77.2 642.9,80.3 643.7,77.9 644.5,76.4 645.3,80.9 646.1,76.3 646.9,78.7 647.7,80.2 648.5,76.9 649.3,78.7 650.1,81.2 650.9,79.3 651.7,78.4 652.5,81.7 653.3,77.7 654.1,78.8 654.9,82.3 655.7,72.6 656.5,74 657.3,80.3 658.1,79.3 658.9,74.5 659.7,80.1 660.5,78.3 661.3,80.8 662.1,80.9 663.7,75 664.5,82.7 665.3,79 666.1,77 666.9,80.3 667.7,79.5 668.5,79.1 669.3,80.8 670.1,78.3 670.9,77.6 671.7,80.7 672.5,77.1 673.3,77 674.1,80.5 674.9,76.7 675.7,79.8 676.5,80.5 677.3,78.3 678.1,75.4" stroke="#ababab" stroke-width="0.5" fill="none"/>
<path d="M493.6,79.1L505.6,78.9 513.6,78.3 524.6,76.4 530.6,75.8 532.6,75.2 535.6,74 536.6,73.8 538.6,74.3 542.6,76.6 545.6,77.8 548.6,78.5 551.6,78.8 559.6,79.2 572.6,79.4 584.6,79.2 593.6,78.8 602.6,77.7 615.6,74.6 620.6,73.8 622.6,72.9 626.6,69.1 627.6,68.9 629.6,70 634.6,74.5 636.6,75.9 639.6,77.4 642.6,78.4 647.6,79.2 653.6,79.7 677.6,80.4" stroke="#9e2626" stroke-width="1.15" fill="none" stroke-linejoin="round"/>
<path d="M493.6,125.1L508.6,125.1 516.6,124.7 522.6,123.6 527.6,121.6 529.6,121.3 530.6,121.6 534.6,124.6 537.6,126.3 540.6,127.3 544.6,128.2 547.6,128.7 550.6,128.8 576.6,129.4 576.6,129.5 547.6,129 519.6,125.6 493.6,125.2Z" fill="url(#gbd)" stroke="#7ea2c8" stroke-width="0.4" opacity="0.93"/>
<path d="M548.6,129L601.6,129.5 606.6,129.4 609.6,128.9 612.6,127.6 614.6,126.1 618.6,122.1 619.6,121.5 620.6,121.5 621.6,122.2 625.6,127.8 627.6,129.8 630.6,131.7 633.6,132.7 644.6,135 677.6,138.4 677.6,138.5 644.6,135.3 614.6,131.2 596.6,129.8 548.6,129Z" fill="url(#gbd)" stroke="#7ea2c8" stroke-width="0.4" opacity="0.93"/>
<path d="M493.6,125.1L523.6,125 527.6,124.4 529.6,123.4 531.6,121.3 535.6,113.9 536.6,113.1 537.6,113.6 538.6,114.6 542.6,121 545.6,124.5 547.6,126 551.6,127.4 556.6,128.2 564.6,128.8 596.6,129.7 614.6,131.1 628.6,133 628.6,133.1 614.6,131.2 596.6,129.8 547.6,129 519.6,125.6 493.6,125.2Z" fill="url(#gr0)" stroke="#d25a64" stroke-width="0.4" opacity="0.93"/>
<path d="M529.6,126.7L548.6,128.9 605.6,129.6 610.6,129.4 614.6,128.8 616.6,128.3 618.6,127.2 620.6,125.1 621.6,123.4 623.6,118.1 626.6,106.4 627.6,103.6 628.6,103.1 629.6,104.2 630.6,106.1 634.6,117.3 637.6,123.9 640.6,128.2 643.6,130.8 647.6,132.8 654.6,134.7 663.6,136.2 677.6,138 677.6,138.5 644.6,135.3 614.6,131.2 595.6,129.8 547.6,129 529.6,126.8Z" fill="url(#gr0)" stroke="#d25a64" stroke-width="0.4" opacity="0.93"/>
<path d="M493.6,125.9L519.6,126.3 547.6,129.7 596.6,130.5 614.6,131.9 644.6,136 677.6,139.2" stroke="#98bedf" stroke-width="0.9" fill="none"/>
<path d="M494.1,124.6L494.9,124.8 495.7,124.7 496.5,124.9 497.3,124.5 498.1,124.4 498.9,124.5 499.7,124.7 500.5,124.5 501.3,124.5 502.1,124.9 502.9,124.4 503.7,124.8 504.5,124.6 505.3,124.4 506.1,124.7 508.5,124.6 510.1,124.7 510.9,124.5 511.7,124.5 512.5,124.6 513.3,124.5 514.1,124.3 514.9,124.2 515.7,123.9 516.5,124.1 518.1,123.5 518.9,123.5 519.7,122.7 520.5,123 521.3,122.8 522.1,122.7 522.9,121.8 523.7,121.5 524.5,120.9 525.3,120.7 526.1,120.3 527.7,119 528.5,118.6 530.1,117.2 530.9,116.9 531.7,116 532.5,114.8 533.3,114.4 534.9,112.1 535.7,111.5 536.5,111 538.1,112.4 539.7,114.7 540.5,116.7 542.1,119.1 542.9,120.7 543.7,121.5 544.5,122.8 545.3,123.6 546.9,124.7 547.7,125.5 548.5,125.9 550.1,126.6 550.9,126.6 551.7,126.7 552.5,127.1 553.3,127.2 554.1,127.3 554.9,127.5 556.5,127.7 557.3,127.2 558.1,127.9 558.9,127.5 559.7,127.8 560.5,128 561.3,128.2 562.1,128.2 562.9,128.4 563.7,128.4 564.5,128.4 565.3,127.9 566.1,128.5 566.9,127.8 567.7,128.5 568.5,128.4 569.3,128.4 570.1,128.6 570.9,128.6 571.7,128.2 572.5,128.2 573.3,128.4 574.1,128.1 574.9,128.5 575.7,128.3 577.3,128.6 578.1,128.4 578.9,128.8 580.5,128.9 581.3,128.7 582.1,128.3 582.9,128.9 583.7,128.9 584.5,128.6 586.1,128.9 586.9,128.7 587.7,128.9 588.5,128.3 589.3,128.2 590.1,128.8 590.9,128.6 591.7,128.8 592.5,128.6 593.3,128.8 594.1,128.4 594.9,128.8 595.7,128 596.5,128.4 598.1,128.5 598.9,128.7 599.7,128.5 601.3,128.5 602.9,128.4 603.7,128.5 605.3,127.9 606.1,128.1 606.9,127.5 607.7,127.8 609.3,127.4 610.1,126.6 610.9,126.5 612.5,125.5 614.1,124 614.9,123 615.7,122.2 616.5,120.5 617.3,119.2 618.1,117.5 619.7,115.7 620.5,114.6 622.1,112.7 622.9,111.7 623.7,110 624.5,107.8 625.3,106.3 626.1,103.6 626.9,101.7 627.7,100.3 628.5,100.2 629.3,101.4 630.1,102.9 632.5,109.3 633.3,111.7 634.9,117 635.7,118.2 636.5,120.7 637.3,122.5 638.1,124 639.7,126.5 642.1,129 642.9,129.7 643.7,130 644.5,131 645.3,131.1 646.1,131.8 646.9,131.8 647.7,132.4 648.5,132.6 650.1,133.3 651.7,133.7 654.1,133.9 654.9,134.5 655.7,134.4 656.5,134.7 657.3,134.8 658.1,135.1 659.7,135.1 660.5,135.3 661.3,134.9 662.1,135.6 662.9,135.3 663.7,136.1 664.5,135.8 665.3,136.1 666.1,136 666.9,136.3 667.7,136 668.5,136.7 669.3,136.9 670.1,136.6 670.9,136.2 672.5,137.2 674.1,137.3 674.9,137.4 675.7,137.3 676.5,137.8 677.3,137.5 678.1,137.9" stroke="#ababab" stroke-width="0.5" fill="none"/>
<path d="M493.6,124.9L505.6,124.9 512.6,124.6 517.6,124 521.6,123 524.6,121.6 531.6,116.4 532.6,115.5 535.6,111.6 536.6,111.3 537.6,112 538.6,113.4 542.6,120.3 544.6,122.9 545.6,124 547.6,125.6 549.6,126.5 551.6,127.1 554.6,127.6 559.6,128.2 574.6,128.8 586.6,129 599.6,128.8 603.6,128.7 606.6,128.3 609.6,127.5 611.6,126.5 613.6,124.8 615.6,122.4 619.6,115.9 622.6,112.3 623.6,110.6 624.6,108.3 626.6,102.4 627.6,100.4 628.6,100.5 629.6,102 630.6,104.4 634.6,116.3 637.6,123.2 638.6,124.9 640.6,127.7 643.6,130.4 645.6,131.6 647.6,132.5 650.6,133.5 654.6,134.5 663.6,136.1 677.6,137.9" stroke="#9e2626" stroke-width="1.15" fill="none" stroke-linejoin="round"/>
<path d="M493.6,167.8L503.6,167.7 510.6,167.2 515.6,166.6 525.6,164.8 529.6,164.6 533.6,165.2 545.6,168.4 551.6,169.3 566.6,170.3 600.6,171.4 614.6,172.6 631.6,174.8 631.6,174.9 614.6,172.7 599.6,171.4 548.6,170.2 519.6,168.5 493.6,168.2Z" fill="#d4e5f1" stroke="#a8c8e0" stroke-width="0.4" opacity="0.93"/>
<path d="M493.6,168.1L519.6,168.4 548.6,170 575.6,170.2 590.6,169.9 597.6,169.3 604.6,168 609.6,166.2 617.6,162.2 619.6,161.6 621.6,161.6 622.6,161.8 624.6,163.1 630.6,168.7 633.6,171 637.6,173.1 641.6,174.5 645.6,175.4 651.6,176.1 677.6,177.8 677.6,178.1 644.6,176.5 615.6,172.8 599.6,171.4 548.6,170.2 519.6,168.5 493.6,168.2Z" fill="#d4e5f1" stroke="#a8c8e0" stroke-width="0.4" opacity="0.93"/>
<path d="M493.6,168.1L512.6,168.2 522.6,167.8 526.6,166.8 530.6,164.7 532.6,164.3 533.6,164.5 537.6,167.1 539.6,168.1 541.6,168.8 544.6,169.4 552.6,170.1 577.6,170.8 577.6,170.9 547.6,170.2 519.6,168.5 493.6,168.2Z" fill="url(#gbd)" stroke="#7ea2c8" stroke-width="0.4" opacity="0.93"/>
<path d="M572.6,170.7L610.6,171.4 614.6,170.6 616.6,169.8 619.6,168 620.6,167.6 621.6,167.6 622.6,168 626.6,171.3 628.6,172.6 631.6,173.9 635.6,174.8 645.6,176.4 670.6,177.7 670.6,177.8 644.6,176.5 615.6,172.8 600.6,171.5 572.6,170.8Z" fill="url(#gbd)" stroke="#7ea2c8" stroke-width="0.4" opacity="0.93"/>
<path d="M493.6,168.1L522.6,168.1 526.6,167.8 528.6,167.4 530.6,166.5 532.6,164.4 535.6,158.2 536.6,156.7 537.6,156.7 538.6,157.8 542.6,164.2 544.6,166.3 547.6,168.2 550.6,169 554.6,169.6 561.6,170.1 599.6,171.3 609.6,172.2 609.6,172.2 599.6,171.4 547.6,170.2 519.6,168.5 493.6,168.2Z" fill="url(#gr0)" stroke="#d25a64" stroke-width="0.4" opacity="0.93"/>
<path d="M550.6,170.2L599.6,171 609.6,171.4 613.6,171.3 617.6,170.8 619.6,170 620.6,169.3 621.6,168.2 622.6,166.6 624.6,161.3 627.6,149.6 628.6,148.5 629.6,149.4 630.6,151.4 634.6,162.5 636.6,166.7 637.6,168.3 639.6,170.7 642.6,173 644.6,174 646.6,174.6 652.6,175.7 662.6,176.8 677.6,177.8 677.6,178.1 644.6,176.5 615.6,172.8 600.6,171.5 550.6,170.3Z" fill="url(#gr0)" stroke="#d25a64" stroke-width="0.4" opacity="0.93"/>
<path d="M493.6,168.9L519.6,169.2 548.6,170.9 599.6,172.1 615.6,173.5 644.6,177.2 677.6,178.8" stroke="#98bedf" stroke-width="0.9" fill="none"/>
<path d="M494.1,167.6L494.9,166.5 495.7,167.2 496.5,167.5 497.3,167.5 498.1,167.3 498.9,167 499.7,167.2 500.5,167.1 501.3,166.7 502.1,167 503.7,167.3 504.5,166.8 505.3,167 506.1,167.1 506.9,166.9 507.7,166.8 508.5,166.8 509.3,166.1 510.1,166.3 511.7,165.6 512.5,166.3 513.3,166.2 514.1,166 514.9,165.7 515.7,165.8 517.3,165.4 518.1,164.4 518.9,165 519.7,164.4 521.3,164.1 522.9,163.2 523.7,163 526.1,161.3 526.9,160.5 527.7,160.4 528.5,159.7 530.1,157.4 530.9,156.9 531.7,155.8 532.5,154.8 533.3,153.1 534.9,151.5 535.7,150.1 536.5,149.5 538.1,151.6 538.9,152.8 540.5,156.7 541.3,158.2 542.1,159.2 542.9,161.4 543.7,161.9 544.5,163.2 545.3,163.7 546.1,164.5 546.9,165.1 547.7,166.1 548.5,165.9 549.3,166.6 550.1,166.6 550.9,167.3 551.7,167.4 552.5,167.7 553.3,167.9 554.9,167.8 556.5,168 557.3,168 558.1,168.4 558.9,168.1 559.7,168.8 561.3,168.9 562.1,168.7 562.9,169 564.5,168.6 565.3,169 566.1,169.2 566.9,168.9 567.7,168.9 568.5,169.3 569.3,168.4 570.1,169.2 570.9,169.3 571.7,169.1 572.5,169.5 573.3,169 574.1,169.4 574.9,169.1 575.7,168.7 576.5,169.4 577.3,169.1 578.1,169.5 580.5,169.3 581.3,169.4 582.1,169.2 582.9,169.5 583.7,169.2 586.1,169.5 586.9,168.2 587.7,169.2 588.5,168.8 589.3,169.4 590.1,169.3 590.9,169 592.5,168.6 593.3,169 594.1,168.8 595.7,168.6 596.5,168.5 597.3,168 598.1,168.3 599.7,167.5 600.5,167.9 601.3,167.2 602.1,167.1 603.7,166.5 604.5,166.6 605.3,166.1 606.1,166.1 606.9,165.2 608.5,165.1 610.1,164.1 610.9,163.5 611.7,162.7 612.5,162.2 613.3,160.7 614.1,159.8 614.9,159.5 615.7,158.2 616.5,157.5 617.3,156 618.1,155.1 619.7,152 622.1,149.2 622.9,148.5 623.7,146.4 624.5,145.9 625.3,144.3 626.1,141.6 627.7,138.7 628.5,138.3 629.3,139.8 630.1,141.8 630.9,145.2 631.7,148 632.5,150.3 633.3,153.5 634.1,155.3 634.9,158.6 635.7,160.5 636.5,162.7 637.3,164.2 638.9,166.7 639.7,168.2 640.5,169.1 641.3,169.6 642.1,170.5 642.9,171.1 643.7,171.5 644.5,171.8 645.3,172.7 646.9,172.8 647.7,173 648.5,173.6 649.3,173.2 650.1,173.7 650.9,173.7 651.7,174.5 652.5,174.6 653.3,174 654.1,174.4 654.9,174.9 655.7,174.9 656.5,175.4 657.3,175.4 658.1,174.9 658.9,175.6 659.7,175.4 660.5,175.4 661.3,175.9 662.1,176 662.9,175.6 664.5,176.2 667.7,176.4 668.5,176 669.3,176.7 670.1,176.7 670.9,176.7 671.7,176.1 672.5,177 673.3,176.8 674.9,176.3 675.7,176.1 676.5,176.9 677.3,177 678.1,176.9" stroke="#ababab" stroke-width="0.5" fill="none"/>
<path d="M493.6,167.6L504.6,167.3 511.6,166.6 517.6,165.4 522.6,163.7 525.6,162.1 528.6,159.6 532.6,154.8 535.6,150.5 536.6,149.9 537.6,150.8 538.6,152.5 541.6,159.1 542.6,160.9 544.6,163.7 545.6,164.7 547.6,166.1 549.6,167 551.6,167.6 555.6,168.4 561.6,169.1 569.6,169.5 578.6,169.6 586.6,169.5 592.6,169.2 596.6,168.7 601.6,167.8 605.6,166.6 608.6,165.1 611.6,163 613.6,161.1 616.6,157.4 620.6,151.4 623.6,147.7 624.6,146 627.6,138.8 628.6,139 629.6,141.1 634.6,158.1 636.6,163.2 637.6,165.2 639.6,168.2 640.6,169.4 642.6,171.1 644.6,172.4 646.6,173.2 649.6,174.1 653.6,175 663.6,176.3 677.6,177.5" stroke="#9e2626" stroke-width="1.15" fill="none" stroke-linejoin="round"/>
<line x1="527.6" y1="22" x2="527.6" y2="40" stroke="#5fa4d3" stroke-width="0.8" stroke-dasharray="2.4,2"/>
<line x1="537.3" y1="17" x2="537.3" y2="37" stroke="#e2646a" stroke-width="0.8" stroke-dasharray="2.4,2"/>
<line x1="621.4" y1="22" x2="621.4" y2="38" stroke="#5fa4d3" stroke-width="0.8" stroke-dasharray="2.4,2"/>
<line x1="628.3" y1="18" x2="628.3" y2="31" stroke="#e2646a" stroke-width="0.8" stroke-dasharray="2.4,2"/>
<line x1="526" y1="57" x2="526" y2="77" stroke="#5fa4d3" stroke-width="0.8" stroke-dasharray="2.4,2"/>
<line x1="536.9" y1="55" x2="536.9" y2="72" stroke="#e2646a" stroke-width="0.8" stroke-dasharray="2.4,2"/>
<line x1="616.9" y1="58" x2="616.9" y2="77" stroke="#5fa4d3" stroke-width="0.8" stroke-dasharray="2.4,2"/>
<line x1="627.5" y1="54" x2="627.5" y2="67" stroke="#e2646a" stroke-width="0.8" stroke-dasharray="2.4,2"/>
<line x1="529" y1="104" x2="529" y2="120" stroke="#5fa4d3" stroke-width="0.8" stroke-dasharray="2.4,2"/>
<line x1="537.7" y1="94" x2="537.7" y2="110" stroke="#e2646a" stroke-width="0.8" stroke-dasharray="2.4,2"/>
<line x1="620.2" y1="100" x2="620.2" y2="122" stroke="#5fa4d3" stroke-width="0.8" stroke-dasharray="2.4,2"/>
<line x1="628.3" y1="86" x2="628.3" y2="98" stroke="#e2646a" stroke-width="0.8" stroke-dasharray="2.4,2"/>
<line x1="532.3" y1="143" x2="532.3" y2="160" stroke="#5fa4d3" stroke-width="0.8" stroke-dasharray="2.4,2"/>
<line x1="537.7" y1="136" x2="537.7" y2="151" stroke="#e2646a" stroke-width="0.8" stroke-dasharray="2.4,2"/>
<line x1="621.4" y1="147" x2="621.4" y2="168" stroke="#5fa4d3" stroke-width="0.8" stroke-dasharray="2.4,2"/>
<line x1="628.6" y1="134" x2="628.6" y2="160" stroke="#e2646a" stroke-width="0.8" stroke-dasharray="2.4,2"/>
<text x="0" y="0" font-size="7.81" fill="#5fa4d3" transform="translate(494.3 30) scale(0.93 1)">486.8 eV</text>
<text x="0" y="0" font-size="7.81" fill="#e2646a" transform="translate(539.1 32.7) scale(0.93 1)">484.4 eV</text>
<text x="0" y="0" font-size="7.81" fill="#5fa4d3" transform="translate(583.3 32.1) scale(0.93 1)">463.7 eV</text>
<text x="0" y="0" font-size="7.81" fill="#e2646a" transform="translate(636.5 32.7) scale(0.93 1)">462.0 eV</text>
<text x="0" y="0" font-size="7.81" fill="#5fa4d3" transform="translate(495.8 64.5) scale(0.93 1)">487.2 eV</text>
<text x="0" y="0" font-size="7.81" fill="#e2646a" transform="translate(541.3 68.5) scale(0.93 1)">484.5 eV</text>
<text x="0" y="0" font-size="7.81" fill="#5fa4d3" transform="translate(581.4 69.2) scale(0.93 1)">464.8 eV</text>
<text x="0" y="0" font-size="7.81" fill="#e2646a" transform="translate(634.3 68.5) scale(0.93 1)">462.2 eV</text>
<text x="0" y="0" font-size="7.81" fill="#5fa4d3" transform="translate(494.9 113.4) scale(0.93 1)">486.3 eV</text>
<text x="0" y="0" font-size="7.81" fill="#e2646a" transform="translate(540.6 109.3) scale(0.93 1)">484.3 eV</text>
<text x="0" y="0" font-size="7.81" fill="#5fa4d3" transform="translate(581.8 111.5) scale(0.93 1)">464.0 eV</text>
<text x="0" y="0" font-size="7.81" fill="#e2646a" transform="translate(632.8 103.2) scale(0.93 1)">462.0 eV</text>
<text x="0" y="0" font-size="7.81" fill="#5fa4d3" transform="translate(494.3 156.3) scale(0.93 1)">485.6 eV</text>
<text x="0" y="0" font-size="7.81" fill="#e2646a" transform="translate(542.2 155.1) scale(0.93 1)">484.3 eV</text>
<text x="0" y="0" font-size="7.81" fill="#5fa4d3" transform="translate(580.2 159.4) scale(0.93 1)">463.7eV</text>
<text x="0" y="0" font-size="7.81" fill="#e2646a" transform="translate(635.9 155.1) scale(0.93 1)">462.0 eV</text>
<text x="0" y="0" font-size="8.13" fill="#5fa4d3" font-weight="bold" transform="translate(515.9 18.8) scale(0.93 1)">Ru<tspan font-size="5.35" dy="-2.8">&#948;+</tspan></text>
<text x="0" y="0" font-size="8.13" fill="#e2646a" font-weight="bold" transform="translate(540.6 22.8) scale(0.93 1)">Ru<tspan font-size="5.35" dy="-2.8">0</tspan></text>
<text x="0" y="0" font-size="8.13" fill="#5fa4d3" font-weight="bold" transform="translate(611.1 19.7) scale(0.93 1)">Ru<tspan font-size="5.35" dy="-2.8">&#948;+</tspan></text>
<text x="0" y="0" font-size="8.13" fill="#e2646a" font-weight="bold" transform="translate(634 21.9) scale(0.93 1)">Ru<tspan font-size="5.35" dy="-2.8">0</tspan></text>
<text x="0" y="0" font-size="7.7" fill="#000" transform="translate(494.8 54.6) scale(0.93 1)">CuRu/MCHS</text>
<text x="0" y="0" font-size="7.7" fill="#000" transform="translate(494.8 87.6) scale(0.93 1)">Ru/MCHS</text>
<text x="0" y="0" font-size="7.7" fill="#000" transform="translate(494.8 135.7) scale(0.93 1)">CuRu/CS</text>
<text x="0" y="0" font-size="7.7" fill="#000" transform="translate(496.5 182) scale(0.93 1)">Ru/CS</text>
<text x="0" y="0" font-size="7.92" transform="translate(496.7 12) scale(0.93 1)">Ru 3<tspan font-style="italic">p</tspan></text>
<rect x="493.6" y="2.5" width="184.7" height="185.1" fill="none" stroke="#222" stroke-width="1"/>
<line x1="678.3" y1="187.6" x2="678.3" y2="185" stroke="#222" stroke-width="0.8"/>
<text x="0" y="0" font-size="8.56" fill="#000" text-anchor="middle" transform="translate(678.3 197.9) scale(0.93 1)">450</text>
<line x1="657.78" y1="187.6" x2="657.78" y2="186.2" stroke="#222" stroke-width="0.8"/>
<line x1="637.26" y1="187.6" x2="637.26" y2="185" stroke="#222" stroke-width="0.8"/>
<text x="0" y="0" font-size="8.56" fill="#000" text-anchor="middle" transform="translate(637.26 197.9) scale(0.93 1)">460</text>
<line x1="616.73" y1="187.6" x2="616.73" y2="186.2" stroke="#222" stroke-width="0.8"/>
<line x1="596.21" y1="187.6" x2="596.21" y2="185" stroke="#222" stroke-width="0.8"/>
<text x="0" y="0" font-size="8.56" fill="#000" text-anchor="middle" transform="translate(596.21 197.9) scale(0.93 1)">470</text>
<line x1="575.69" y1="187.6" x2="575.69" y2="186.2" stroke="#222" stroke-width="0.8"/>
<line x1="555.17" y1="187.6" x2="555.17" y2="185" stroke="#222" stroke-width="0.8"/>
<text x="0" y="0" font-size="8.56" fill="#000" text-anchor="middle" transform="translate(555.17 197.9) scale(0.93 1)">480</text>
<line x1="534.64" y1="187.6" x2="534.64" y2="186.2" stroke="#222" stroke-width="0.8"/>
<line x1="514.12" y1="187.6" x2="514.12" y2="185" stroke="#222" stroke-width="0.8"/>
<text x="0" y="0" font-size="8.56" fill="#000" text-anchor="middle" transform="translate(514.12 197.9) scale(0.93 1)">490</text>
<line x1="493.6" y1="187.6" x2="493.6" y2="186.2" stroke="#222" stroke-width="0.8"/>
<text x="0" y="0" font-size="9.42" fill="#000" text-anchor="middle" transform="translate(588 207.1) scale(0.93 1)">Binding energy (eV)</text>
<text x="0" y="0" font-size="9.15" fill="#000" text-anchor="middle" transform="translate(489 94) rotate(-90) scale(0.93 1)">Intensity (arb.units)</text>
<text x="0" y="0" font-size="18.19" fill="#000" stroke="#000" stroke-width="0.2" transform="translate(479.3 12.5) scale(0.93 1)">c</text>
<g clip-path="url(#cd)">
<path d="M15.6,396.2C18.17,396.03 27.58,395.58 31,395.2C34.42,394.82 34.17,394.78 36.1,393.9C38.03,393.02 41.12,391.78 42.6,389.9C44.08,388.02 44.33,386.53 45,382.6C45.67,378.67 46.2,371.98 46.6,366.3C47,360.62 47.15,356.22 47.4,348.5C47.65,340.78 47.88,326.48 48.1,320C48.32,313.52 48.5,309.27 48.7,309.6C48.9,309.93 49.03,318.43 49.3,322C49.57,325.57 49.85,331.67 50.3,331C50.75,330.33 51.17,323.5 52,318C52.83,312.5 54.07,308.1 55.3,298C56.53,287.9 58.37,265.2 59.4,257.4C60.43,249.6 60.9,252.53 61.5,251.2C62.1,249.87 62.42,248.03 63,249.4C63.58,250.77 63.98,255.43 65,259.4C66.02,263.37 67.65,271.75 69.1,273.2C70.55,274.65 72.17,269.8 73.7,268.1C75.23,266.4 76.77,263.25 78.3,263C79.83,262.75 81.28,264.82 82.9,266.6C84.52,268.38 85.95,271.92 88,273.7C90.05,275.48 92.98,277.3 95.2,277.3C97.42,277.3 99.67,274.9 101.3,273.7C102.93,272.5 102.52,271.63 105,270.1C107.48,268.57 112,265.2 116.2,264.5C120.4,263.8 126,266.25 130.2,265.9C134.4,265.55 137.65,263.1 141.4,262.4C145.15,261.7 148.48,260.53 152.7,261.7C156.92,262.87 162.5,268.7 166.7,269.4C170.9,270.1 174.17,266.6 177.9,265.9C181.63,265.2 185.3,265.5 189.1,265.2C192.9,264.9 198.77,264.28 200.7,264.1" stroke="#7db0dc" stroke-width="1.3" fill="none" stroke-linejoin="round" stroke-linecap="round"/>
<path d="M15.6,395.9C18.17,395.7 27.32,395.17 31,394.7C34.68,394.23 36.03,393.88 37.7,393.1C39.37,392.32 40.05,392.02 41,390C41.95,387.98 42.73,386 43.4,381C44.07,376 44.52,367.17 45,360C45.48,352.83 45.83,342 46.3,338C46.77,334 47.27,337.17 47.8,336C48.33,334.83 48.8,334.33 49.5,331C50.2,327.67 51.03,321.5 52,316C52.97,310.5 54.32,306.07 55.3,298C56.28,289.93 57.22,273.02 57.9,267.6C58.58,262.18 58.88,265.43 59.4,265.5C59.92,265.57 60.28,265.95 61,268C61.72,270.05 62.6,278.8 63.7,277.8C64.8,276.8 66.27,262.52 67.6,262C68.93,261.48 70.17,271.38 71.7,274.7C73.23,278.02 74.93,282.07 76.8,281.9C78.67,281.73 80.43,277.1 82.9,273.7C85.37,270.3 89.38,262.18 91.6,261.5C93.82,260.82 94.75,267.4 96.2,269.6C97.65,271.8 98.83,274.03 100.3,274.7C101.77,275.37 101.88,274.6 105,273.6C108.12,272.6 115.27,270.1 119,268.7C122.73,267.3 124.37,267 127.4,265.2C130.43,263.4 133.93,258.02 137.2,257.9C140.47,257.78 143.95,262.35 147,264.5C150.05,266.65 152.68,268.93 155.5,270.8C158.32,272.67 160.87,275.93 163.9,275.7C166.93,275.47 170.43,271.15 173.7,269.4C176.97,267.65 180.47,267.07 183.5,265.2C186.53,263.33 189.8,259.95 191.9,258.2C194,256.45 194.63,255.28 196.1,254.7C197.57,254.12 199.93,254.7 200.7,254.7" stroke="#1db2a3" stroke-width="1.4" fill="none" stroke-linejoin="round" stroke-linecap="round"/>
<path d="M15.6,395.9C18.17,395.72 27.32,395.25 31,394.8C34.68,394.35 36.03,394 37.7,393.2C39.37,392.4 40.05,392.03 41,390C41.95,387.97 42.73,385.67 43.4,381C44.07,376.33 44.53,368.5 45,362C45.47,355.5 45.78,344.5 46.2,342C46.62,339.5 46.93,348.33 47.5,347C48.07,345.67 48.93,338.83 49.6,334C50.27,329.17 50.72,323.67 51.5,318C52.28,312.33 53.5,308.75 54.3,300C55.1,291.25 55.65,273.37 56.3,265.5C56.95,257.63 57.52,255.3 58.2,252.8C58.88,250.3 59.52,250.25 60.4,250.5C61.28,250.75 62.47,252.73 63.5,254.3C64.53,255.87 65.4,257.68 66.6,259.9C67.8,262.12 69.35,265.72 70.7,267.6C72.05,269.48 73.35,270.38 74.7,271.2C76.05,272.02 76.92,272.22 78.8,272.5C80.68,272.78 83.95,272.78 86,272.9C88.05,273.02 89.07,273.02 91.1,273.2C93.13,273.38 96.15,274.42 98.2,274C100.25,273.58 102.27,271.47 103.4,270.7C104.53,269.93 103.33,270.43 105,269.4C106.67,268.37 110.37,265.32 113.4,264.5C116.43,263.68 119.47,265.03 123.2,264.5C126.93,263.97 131.37,260.83 135.8,261.3C140.23,261.77 145.12,265.72 149.8,267.3C154.48,268.88 159.68,270.92 163.9,270.8C168.12,270.68 170.9,267.88 175.1,266.6C179.3,265.32 184.83,264.27 189.1,263.1C193.37,261.93 198.77,260.18 200.7,259.6" stroke="#2457a6" stroke-width="1.45" fill="none" stroke-linejoin="round" stroke-linecap="round"/>
<path d="M15.6,395.9C18.2,395.7 27.52,395.17 31.2,394.7C34.88,394.23 36.13,393.95 37.7,393.1C39.27,392.25 39.73,391.62 40.6,389.6C41.47,387.58 42.25,385.93 42.9,381C43.55,376.07 44.02,367.42 44.5,360C44.98,352.58 45.32,340.98 45.8,336.5C46.28,332.02 46.9,333.52 47.4,333.1C47.9,332.68 48.12,336.85 48.8,334C49.48,331.15 50.5,322 51.5,316C52.5,310 53.82,306.92 54.8,298C55.78,289.08 56.55,269.27 57.4,262.5C58.25,255.73 58.8,257.48 59.9,257.4C61,257.32 62.58,262.08 64,262C65.42,261.92 67.12,256.65 68.4,256.9C69.68,257.15 70.22,261.3 71.7,263.5C73.18,265.7 75.43,269.33 77.3,270.1C79.17,270.87 80.52,269.63 82.9,268.1C85.28,266.57 89.38,261.5 91.6,260.9C93.82,260.3 94.58,263.42 96.2,264.5C97.82,265.58 99.83,267.17 101.3,267.4C102.77,267.63 102.52,266.73 105,265.9C107.48,265.07 112.7,263.22 116.2,262.4C119.7,261.58 122.62,261.88 126,261C129.38,260.12 132.53,256.63 136.5,257.1C140.47,257.57 144.77,261.75 149.8,263.8C154.83,265.85 162.02,269.2 166.7,269.4C171.38,269.6 174.17,266.17 177.9,265C181.63,263.83 185.3,263.65 189.1,262.4C192.9,261.15 198.77,258.32 200.7,257.5" stroke="#e46767" stroke-width="1.3" fill="none" stroke-linejoin="round" stroke-linecap="round"/>
</g>
<line x1="133.3" y1="228.6" x2="148.2" y2="228.6" stroke="#2457a6" stroke-width="1.6"/>
<text x="0" y="0" font-size="7.92" fill="#000" transform="translate(150 231.4) scale(0.93 1)">CuRu/MCHS</text>
<line x1="133.3" y1="237.6" x2="148.2" y2="237.6" stroke="#e46767" stroke-width="1.2"/>
<text x="0" y="0" font-size="7.92" fill="#000" transform="translate(150 240.4) scale(0.93 1)">CuRu/CS</text>
<line x1="133.3" y1="246.3" x2="148.2" y2="246.3" stroke="#1db2a3" stroke-width="1.3"/>
<text x="0" y="0" font-size="7.92" fill="#000" transform="translate(150 249.1) scale(0.93 1)">Cu foil</text>
<line x1="133.3" y1="255.4" x2="148.2" y2="255.4" stroke="#7db0dc" stroke-width="1"/>
<text x="0" y="0" font-size="7.92" fill="#000" transform="translate(150 258.2) scale(0.93 1)">Cu<tspan font-size="5.89" dy="2">2</tspan><tspan dy="-2">O</tspan></text>
<text x="0" y="0" font-size="7.92" fill="#000" transform="translate(18.2 233.6) scale(0.93 1)">Cu K-edge</text>
<rect x="89.5" y="291.5" width="100" height="99.6" fill="#fff"/>
<line x1="114.6" y1="291.5" x2="108.2" y2="391.1" stroke="#1db2a3" stroke-width="0.9"/>
<line x1="120.2" y1="291.5" x2="111.8" y2="391.1" stroke="#e46767" stroke-width="0.9"/>
<line x1="125.7" y1="291.5" x2="112.6" y2="391.1" stroke="#2457a6" stroke-width="0.9"/>
<line x1="148.4" y1="291.5" x2="144.3" y2="391.1" stroke="#7db0dc" stroke-width="0.9"/>
<line x1="105.8" y1="335.9" x2="152" y2="335.9" stroke="#555" stroke-width="1"/>
<path d="M151,333.8L156.2,335.9L151,338Z" stroke="#333" stroke-width="0.3" fill="#333"/>
<text x="0" y="0" font-size="8.77" fill="#000" transform="translate(96.5 331.5) scale(0.93 1)">Cu<tspan font-size="5.7" dy="-3">0</tspan></text>
<text x="0" y="0" font-size="8.77" fill="#000" transform="translate(156 331.5) scale(0.93 1)">Cu<tspan font-size="5.7" dy="-3">1+</tspan></text>
<line x1="148" y1="367.4" x2="158.4" y2="367.4" stroke="#2457a6" stroke-width="0.8"/>
<text x="0" y="0" font-size="5.67" fill="#000" transform="translate(159 369.3) scale(0.93 1)">CuRu/MCH</text>
<line x1="148" y1="373.4" x2="158.4" y2="373.4" stroke="#e46767" stroke-width="0.8"/>
<text x="0" y="0" font-size="5.67" fill="#000" transform="translate(159 375.3) scale(0.93 1)">CuRu/CS</text>
<line x1="148" y1="379.5" x2="158.4" y2="379.5" stroke="#1db2a3" stroke-width="0.8"/>
<text x="0" y="0" font-size="5.67" fill="#000" transform="translate(159 381.4) scale(0.93 1)">Cu foil</text>
<line x1="148" y1="385.5" x2="158.4" y2="385.5" stroke="#7db0dc" stroke-width="0.8"/>
<text x="0" y="0" font-size="5.67" fill="#000" transform="translate(159 387.4) scale(0.93 1)">Cu<tspan font-size="4.28" dy="1.3">2</tspan><tspan dy="-1.3">O</tspan></text>
<rect x="89.5" y="291.5" width="100" height="99.6" fill="none" stroke="#333" stroke-width="0.7"/>
<line x1="89.5" y1="391.1" x2="89.5" y2="389.6" stroke="#333" stroke-width="0.6"/>
<text x="0" y="0" font-size="5.67" fill="#000" text-anchor="middle" transform="translate(91.1 396.9) scale(0.93 1)">8978</text>
<line x1="122.83" y1="391.1" x2="122.83" y2="389.6" stroke="#333" stroke-width="0.6"/>
<text x="0" y="0" font-size="5.67" fill="#000" text-anchor="middle" transform="translate(124.43 396.9) scale(0.93 1)">8980</text>
<line x1="156.17" y1="391.1" x2="156.17" y2="389.6" stroke="#333" stroke-width="0.6"/>
<text x="0" y="0" font-size="5.67" fill="#000" text-anchor="middle" transform="translate(157.77 396.9) scale(0.93 1)">8982</text>
<line x1="189.5" y1="391.1" x2="189.5" y2="389.6" stroke="#333" stroke-width="0.6"/>
<text x="0" y="0" font-size="5.67" fill="#000" text-anchor="middle" transform="translate(191.1 396.9) scale(0.93 1)">8984</text>
<line x1="106.17" y1="391.1" x2="106.17" y2="390.1" stroke="#333" stroke-width="0.5"/>
<line x1="139.5" y1="391.1" x2="139.5" y2="390.1" stroke="#333" stroke-width="0.5"/>
<line x1="172.83" y1="391.1" x2="172.83" y2="390.1" stroke="#333" stroke-width="0.5"/>
<text x="0" y="0" font-size="6.21" fill="#000" text-anchor="middle" transform="translate(139.3 403.1) scale(0.93 1)">Photon energy (eV)</text>
<text x="0" y="0" font-size="5.67" fill="#000" text-anchor="middle" transform="translate(86.8 340.5) rotate(-90) scale(0.93 1)">Intensity (arb.units)</text>
<rect x="15.6" y="224.4" width="185.1" height="184.7" fill="none" stroke="#222" stroke-width="1"/>
<line x1="15.8" y1="409.1" x2="15.8" y2="406.5" stroke="#222" stroke-width="0.8"/>
<text x="0" y="0" font-size="8.56" fill="#000" text-anchor="middle" transform="translate(18.3 418.1) scale(0.93 1)">8950</text>
<line x1="40.71" y1="409.1" x2="40.71" y2="407.7" stroke="#222" stroke-width="0.8"/>
<line x1="65.63" y1="409.1" x2="65.63" y2="406.5" stroke="#222" stroke-width="0.8"/>
<text x="0" y="0" font-size="8.56" fill="#000" text-anchor="middle" transform="translate(68.13 418.1) scale(0.93 1)">9000</text>
<line x1="90.54" y1="409.1" x2="90.54" y2="407.7" stroke="#222" stroke-width="0.8"/>
<line x1="115.45" y1="409.1" x2="115.45" y2="406.5" stroke="#222" stroke-width="0.8"/>
<text x="0" y="0" font-size="8.56" fill="#000" text-anchor="middle" transform="translate(117.95 418.1) scale(0.93 1)">9050</text>
<line x1="140.36" y1="409.1" x2="140.36" y2="407.7" stroke="#222" stroke-width="0.8"/>
<line x1="165.27" y1="409.1" x2="165.27" y2="406.5" stroke="#222" stroke-width="0.8"/>
<text x="0" y="0" font-size="8.56" fill="#000" text-anchor="middle" transform="translate(167.77 418.1) scale(0.93 1)">9100</text>
<line x1="190.19" y1="409.1" x2="190.19" y2="407.7" stroke="#222" stroke-width="0.8"/>
<text x="0" y="0" font-size="9.31" fill="#000" text-anchor="middle" transform="translate(108.5 426) scale(0.93 1)">Photon energy (eV)</text>
<text x="0" y="0" font-size="9.04" fill="#000" text-anchor="middle" transform="translate(9.7 314.5) rotate(-90) scale(0.93 1)">Intensity (arb.units)</text>
<text x="0" y="0" font-size="18.19" fill="#000" stroke="#000" stroke-width="0.2" transform="translate(-0.5 228.6) scale(0.93 1)">d</text>
<g clip-path="url(#ce)">
<path d="M252.2,396.9C253.83,396.85 259.07,396.75 262,396.6C264.93,396.45 267.32,396.6 269.8,396C272.28,395.4 275.1,394.33 276.9,393C278.7,391.67 279.28,392.33 280.6,388C281.92,383.67 283.5,376.67 284.8,367C286.1,357.33 287.33,340.33 288.4,330C289.47,319.67 290.47,311.67 291.2,305C291.93,298.33 292.25,297.43 292.8,290C293.35,282.57 293.92,267 294.5,260.4C295.08,253.8 295.72,252.35 296.3,250.4C296.88,248.45 297.22,248.63 298,248.7C298.78,248.77 300.02,250.57 301,250.8C301.98,251.03 303.13,249.67 303.9,250.1C304.67,250.53 304.92,250.72 305.6,253.4C306.28,256.08 307.12,261.92 308,266.2C308.88,270.48 309.83,276.18 310.9,279.1C311.97,282.02 313.03,282.58 314.4,283.7C315.77,284.82 317.15,286.18 319.1,285.8C321.05,285.42 323.77,283.5 326.1,281.4C328.43,279.3 330.77,275.93 333.1,273.2C335.43,270.47 338.37,266.58 340.1,265C341.83,263.42 341.85,263.53 343.5,263.7C345.15,263.87 347.25,264.78 350,266C352.75,267.22 355.83,269.17 360,271C364.17,272.83 370.83,276.17 375,277C379.17,277.83 382.07,276.38 385,276C387.93,275.62 390.1,275.53 392.6,274.7C395.1,273.87 397.1,272.02 400,271C402.9,269.98 406.67,268.52 410,268.6C413.33,268.68 417,270.43 420,271.5C423,272.57 425.18,274.17 428,275C430.82,275.83 435.42,276.25 436.9,276.5" stroke="#7db0dc" stroke-width="1.2" fill="none" stroke-linejoin="round" stroke-linecap="round"/>
<path d="M252.2,396.9C253.83,396.85 259.07,396.75 262,396.6C264.93,396.45 267.32,396.6 269.8,396C272.28,395.4 275.1,394.33 276.9,393C278.7,391.67 279.28,392.33 280.6,388C281.92,383.67 283.5,376.67 284.8,367C286.1,357.33 287.37,340.33 288.4,330C289.43,319.67 290.37,310.83 291,305C291.63,299.17 291.52,300 292.2,295C292.88,290 294.23,279.83 295.1,275C295.97,270.17 296.62,267.82 297.4,266C298.18,264.18 298.53,264.03 299.8,264.1C301.07,264.17 303.55,265.58 305,266.4C306.45,267.22 306.93,267.57 308.5,269C310.07,270.43 312.45,273.03 314.4,275C316.35,276.97 317.87,280.27 320.2,280.8C322.53,281.33 325.87,279.53 328.4,278.2C330.93,276.87 333.35,274.2 335.4,272.8C337.45,271.4 339.1,270.22 340.7,269.8C342.3,269.38 342.62,269.8 345,270.3C347.38,270.8 351.45,272.02 355,272.8C358.55,273.58 362.13,274.72 366.3,275C370.47,275.28 375.22,274.75 380,274.5C384.78,274.25 390,273.83 395,273.5C400,273.17 405,272.28 410,272.5C415,272.72 420.52,274.22 425,274.8C429.48,275.38 434.92,275.8 436.9,276" stroke="#2457a6" stroke-width="1.2" fill="none" stroke-linejoin="round" stroke-linecap="round"/>
<path d="M252.2,396.9C253.83,396.85 259.07,396.75 262,396.6C264.93,396.45 267.32,396.6 269.8,396C272.28,395.4 275.1,394.33 276.9,393C278.7,391.67 279.28,392.33 280.6,388C281.92,383.67 283.5,376.67 284.8,367C286.1,357.33 287.37,340.33 288.4,330C289.43,319.67 290.37,310.83 291,305C291.63,299.17 291.52,300.1 292.2,295C292.88,289.9 294.23,279.4 295.1,274.4C295.97,269.4 296.62,266.95 297.4,265C298.18,263.05 298.72,262.7 299.8,262.7C300.88,262.7 302.45,264.03 303.9,265C305.35,265.97 306.75,266.83 308.5,268.5C310.25,270.17 312.45,273 314.4,275C316.35,277 317.87,280.02 320.2,280.5C322.53,280.98 325.87,279.22 328.4,277.9C330.93,276.58 333.35,274 335.4,272.6C337.45,271.2 339.1,269.93 340.7,269.5C342.3,269.07 342.62,269.5 345,270C347.38,270.5 351.45,271.72 355,272.5C358.55,273.28 362.13,274.45 366.3,274.7C370.47,274.95 375.22,274.28 380,274C384.78,273.72 390,273.33 395,273C400,272.67 405,271.75 410,272C415,272.25 420.52,273.9 425,274.5C429.48,275.1 434.92,275.42 436.9,275.6" stroke="#e46767" stroke-width="1.4" fill="none" stroke-linejoin="round" stroke-linecap="round"/>
<path d="M252.2,396.9C253.83,396.85 259.07,396.75 262,396.6C264.93,396.45 267.32,396.6 269.8,396C272.28,395.4 275.13,394.45 276.9,393C278.67,391.55 279.22,391.75 280.4,387.3C281.58,382.85 282.82,376.6 284,366.3C285.18,356 286.37,336.55 287.5,325.5C288.63,314.45 289.82,307.75 290.8,300C291.78,292.25 292.78,282.98 293.4,279C294.02,275.02 293.92,274.53 294.5,276.1C295.08,277.67 296.15,285.42 296.9,288.4C297.65,291.38 298.13,294 299,294C299.87,294 301,292.65 302.1,288.4C303.2,284.15 304.53,275.5 305.6,268.5C306.67,261.5 307.75,250.77 308.5,246.4C309.25,242.03 309.6,242.12 310.1,242.3C310.6,242.48 310.88,243.32 311.5,247.5C312.12,251.68 313.03,261.75 313.8,267.4C314.57,273.05 315.22,278.52 316.1,281.4C316.98,284.28 317.63,284.9 319.1,284.7C320.57,284.5 322.97,281.92 324.9,280.2C326.83,278.48 329.05,277.12 330.7,274.4C332.35,271.68 333.62,266.47 334.8,263.9C335.98,261.33 336.72,258.23 337.8,259C338.88,259.77 340.13,266.03 341.3,268.5C342.47,270.97 343.35,272.82 344.8,273.8C346.25,274.78 348.03,274.05 350,274.4C351.97,274.75 354.6,276.97 356.6,275.9C358.6,274.83 360,270.15 362,268C364,265.85 366.43,262.33 368.6,263C370.77,263.67 372.47,268.82 375,272C377.53,275.18 381.3,281.77 383.8,282.1C386.3,282.43 387.67,276.32 390,274C392.33,271.68 395.3,269.37 397.8,268.2C400.3,267.03 402.67,267.17 405,267C407.33,266.83 409.63,266.53 411.8,267.2C413.97,267.87 415.8,269.03 418,271C420.2,272.97 422.82,277.07 425,279C427.18,280.93 429.12,282.15 431.1,282.6C433.08,283.05 435.93,281.85 436.9,281.7" stroke="#1db2a3" stroke-width="1.5" fill="none" stroke-linejoin="round" stroke-linecap="round"/>
</g>
<line x1="371.2" y1="231.3" x2="384.1" y2="231.3" stroke="#2457a6" stroke-width="1.6"/>
<text x="0" y="0" font-size="7.92" fill="#000" transform="translate(385.9 234.1) scale(0.93 1)">CuRu/MCHS</text>
<line x1="371.2" y1="240.2" x2="384.1" y2="240.2" stroke="#e46767" stroke-width="1.2"/>
<text x="0" y="0" font-size="7.92" fill="#000" transform="translate(385.9 243) scale(0.93 1)">CuRu/CS</text>
<line x1="371.2" y1="249" x2="384.1" y2="249" stroke="#1db2a3" stroke-width="1.3"/>
<text x="0" y="0" font-size="7.92" fill="#000" transform="translate(385.9 251.8) scale(0.93 1)">Ru foil</text>
<line x1="371.2" y1="257.7" x2="384.1" y2="257.7" stroke="#7db0dc" stroke-width="1"/>
<text x="0" y="0" font-size="7.92" fill="#000" transform="translate(385.9 260.5) scale(0.93 1)">RuO<tspan font-size="5.89" dy="2">2</tspan></text>
<text x="0" y="0" font-size="7.92" fill="#000" transform="translate(255.6 234.3) scale(0.93 1)">Ru K-edge</text>
<rect x="326.5" y="287.6" width="104.2" height="103.1" fill="#fff"/>
<line x1="380.1" y1="287.6" x2="371.9" y2="390.7" stroke="#1db2a3" stroke-width="0.9"/>
<line x1="388.1" y1="287.6" x2="380.5" y2="390.7" stroke="#e46767" stroke-width="0.9"/>
<line x1="388.8" y1="287.6" x2="381.6" y2="390.7" stroke="#2457a6" stroke-width="0.9"/>
<line x1="395" y1="287.6" x2="388.5" y2="390.7" stroke="#7db0dc" stroke-width="0.9"/>
<line x1="349.2" y1="342.7" x2="418" y2="342.7" stroke="#222" stroke-width="0.9"/>
<path d="M417,340.6L422,342.7L417,344.8Z" stroke="#222" stroke-width="0.3" fill="#222"/>
<text x="0" y="0" font-size="8.77" fill="#000" transform="translate(346.5 336.2) scale(0.93 1)">Ru<tspan font-size="5.7" dy="-3">0</tspan></text>
<text x="0" y="0" font-size="8.77" fill="#000" transform="translate(401.5 336.2) scale(0.93 1)">Ru<tspan font-size="5.7" dy="-3">4+</tspan></text>
<line x1="332" y1="294.7" x2="338.5" y2="294.7" stroke="#e46767" stroke-width="0.8"/>
<text x="0" y="0" font-size="5.67" fill="#000" transform="translate(340 296.6) scale(0.93 1)">CuRu/MCHS</text>
<line x1="332" y1="301" x2="338.5" y2="301" stroke="#2457a6" stroke-width="0.8"/>
<text x="0" y="0" font-size="5.67" fill="#000" transform="translate(340 302.9) scale(0.93 1)">CuRu/CS</text>
<line x1="332" y1="307.5" x2="338.5" y2="307.5" stroke="#1db2a3" stroke-width="0.8"/>
<text x="0" y="0" font-size="5.67" fill="#000" transform="translate(340 309.4) scale(0.93 1)">Ru foil</text>
<line x1="332" y1="314" x2="338.5" y2="314" stroke="#7db0dc" stroke-width="0.8"/>
<text x="0" y="0" font-size="5.67" fill="#000" transform="translate(340 315.9) scale(0.93 1)">RuO<tspan font-size="4.28" dy="1.3">2</tspan></text>
<rect x="326.5" y="287.6" width="104.2" height="103.1" fill="none" stroke="#333" stroke-width="0.7"/>
<line x1="334.05" y1="390.7" x2="334.05" y2="389.2" stroke="#333" stroke-width="0.6"/>
<text x="0" y="0" font-size="5.24" fill="#000" text-anchor="middle" transform="translate(334.05 396.2) scale(0.93 1)">22112</text>
<line x1="350.92" y1="390.7" x2="350.92" y2="389.2" stroke="#333" stroke-width="0.6"/>
<text x="0" y="0" font-size="5.24" fill="#000" text-anchor="middle" transform="translate(350.92 396.2) scale(0.93 1)">22116</text>
<line x1="367.79" y1="390.7" x2="367.79" y2="389.2" stroke="#333" stroke-width="0.6"/>
<text x="0" y="0" font-size="5.24" fill="#000" text-anchor="middle" transform="translate(367.79 396.2) scale(0.93 1)">22120</text>
<line x1="384.66" y1="390.7" x2="384.66" y2="389.2" stroke="#333" stroke-width="0.6"/>
<text x="0" y="0" font-size="5.24" fill="#000" text-anchor="middle" transform="translate(384.66 396.2) scale(0.93 1)">22124</text>
<line x1="401.53" y1="390.7" x2="401.53" y2="389.2" stroke="#333" stroke-width="0.6"/>
<text x="0" y="0" font-size="5.24" fill="#000" text-anchor="middle" transform="translate(401.53 396.2) scale(0.93 1)">22128</text>
<line x1="418.4" y1="390.7" x2="418.4" y2="389.2" stroke="#333" stroke-width="0.6"/>
<text x="0" y="0" font-size="5.24" fill="#000" text-anchor="middle" transform="translate(418.4 396.2) scale(0.93 1)">22132</text>
<text x="0" y="0" font-size="6.21" fill="#000" text-anchor="middle" transform="translate(380.5 402.6) scale(0.93 1)">Photon energy (eV)</text>
<text x="0" y="0" font-size="5.67" fill="#000" text-anchor="middle" transform="translate(323.6 339) rotate(-90) scale(0.93 1)">Intensity (arb.units)</text>
<rect x="252.2" y="225.3" width="184.7" height="184.3" fill="none" stroke="#222" stroke-width="1"/>
<line x1="258.8" y1="409.6" x2="258.8" y2="407" stroke="#222" stroke-width="0.8"/>
<text x="0" y="0" font-size="8.56" fill="#000" text-anchor="middle" transform="translate(261.3 418.8) scale(0.93 1)">22080</text>
<line x1="278.58" y1="409.6" x2="278.58" y2="408.2" stroke="#222" stroke-width="0.8"/>
<line x1="298.35" y1="409.6" x2="298.35" y2="407" stroke="#222" stroke-width="0.8"/>
<text x="0" y="0" font-size="8.56" fill="#000" text-anchor="middle" transform="translate(300.85 418.8) scale(0.93 1)">22140</text>
<line x1="318.13" y1="409.6" x2="318.13" y2="408.2" stroke="#222" stroke-width="0.8"/>
<line x1="337.9" y1="409.6" x2="337.9" y2="407" stroke="#222" stroke-width="0.8"/>
<text x="0" y="0" font-size="8.56" fill="#000" text-anchor="middle" transform="translate(340.4 418.8) scale(0.93 1)">22200</text>
<line x1="357.68" y1="409.6" x2="357.68" y2="408.2" stroke="#222" stroke-width="0.8"/>
<line x1="377.45" y1="409.6" x2="377.45" y2="407" stroke="#222" stroke-width="0.8"/>
<text x="0" y="0" font-size="8.56" fill="#000" text-anchor="middle" transform="translate(379.95 418.8) scale(0.93 1)">22260</text>
<line x1="397.23" y1="409.6" x2="397.23" y2="408.2" stroke="#222" stroke-width="0.8"/>
<line x1="417" y1="409.6" x2="417" y2="407" stroke="#222" stroke-width="0.8"/>
<text x="0" y="0" font-size="8.56" fill="#000" text-anchor="middle" transform="translate(419.5 418.8) scale(0.93 1)">22320</text>
<line x1="436.78" y1="409.6" x2="436.78" y2="408.2" stroke="#222" stroke-width="0.8"/>
<text x="0" y="0" font-size="9.31" fill="#000" text-anchor="middle" transform="translate(348.4 427.4) scale(0.93 1)">Photon energy (eV)</text>
<text x="0" y="0" font-size="9.1" fill="#000" text-anchor="middle" transform="translate(245.8 315.2) rotate(-90) scale(0.93 1)">Intensity (arb.units)</text>
<text x="0" y="0" font-size="18.19" fill="#000" stroke="#000" stroke-width="0.2" transform="translate(235.2 229) scale(0.93 1)">e</text>
<g clip-path="url(#cf)">
<path d="M13.6,624.5C15.93,624.33 24.05,623.92 27.6,623.5C31.15,623.08 31.98,623.13 34.9,622C37.82,620.87 42.18,619.28 45.1,616.7C48.02,614.12 50.08,610.27 52.4,606.5C54.72,602.73 57.17,594.58 59,594.1C60.83,593.62 62.07,599.58 63.4,603.6C64.73,607.62 65.78,614.6 67,618.2C68.22,621.8 69.23,624.72 70.7,625.2C72.17,625.68 73.73,621.53 75.8,621.1C77.87,620.67 80.67,623.33 83.1,622.6C85.53,621.87 88.45,619.38 90.4,616.7C92.35,614.02 93.47,608.68 94.8,606.5C96.13,604.32 96.95,603.23 98.4,603.6C99.85,603.97 101.67,606.52 103.5,608.7C105.33,610.88 107.15,614.48 109.4,616.7C111.65,618.92 113.57,621.03 117,622C120.43,622.97 124.5,622.37 130,622.5C135.5,622.63 143.33,622.83 150,622.8C156.67,622.77 161.9,622.18 170,622.3C178.1,622.42 193.83,623.3 198.6,623.5" stroke="#7db0dc" stroke-width="1.2" fill="none" stroke-linejoin="round" stroke-linecap="round"/>
<path d="M13.6,624.5C14.97,624.33 19.47,623.5 21.8,623.5C24.13,623.5 25.42,624.5 27.6,624.5C29.78,624.5 32.47,623.58 34.9,623.5C37.33,623.42 39.52,624.52 42.2,624C44.88,623.48 48.57,620.28 51,620.4C53.43,620.52 55.1,625.8 56.8,624.7C58.5,623.6 59.87,616.35 61.2,613.8C62.53,611.25 63.72,610.37 64.8,609.4C65.88,608.43 66.72,610.92 67.7,608C68.68,605.08 69.83,598.23 70.7,591.9C71.57,585.57 72.03,581.98 72.9,570C73.77,558.02 75.17,531.67 75.9,520C76.63,508.33 76.53,507.67 77.3,500C78.07,492.33 79.63,479.23 80.5,474C81.37,468.77 81.83,468.6 82.5,468.6C83.17,468.6 83.67,468.77 84.5,474C85.33,479.23 86.67,492.33 87.5,500C88.33,507.67 88.65,508.33 89.5,520C90.35,531.67 91.37,556.07 92.6,570C93.83,583.93 95.82,596.55 96.9,603.6C97.98,610.65 98.25,610.72 99.1,612.3C99.95,613.88 100.78,613.15 102,613.1C103.22,613.05 104.9,613.52 106.4,612C107.9,610.48 109,606.57 111,604C113,601.43 116.4,596.6 118.4,596.6C120.4,596.6 121.55,602.1 123,604C124.45,605.9 125.43,610 127.1,608C128.77,606 130.82,597.87 133,592C135.18,586.13 138.2,574.47 140.2,572.8C142.2,571.13 143.32,578.52 145,582C146.68,585.48 148.63,592.7 150.3,593.7C151.97,594.7 153.32,589.67 155,588C156.68,586.33 158.57,582.53 160.4,583.7C162.23,584.87 163.42,590.27 166,595C168.58,599.73 172.98,608.3 175.9,612.1C178.82,615.9 181.15,616.4 183.5,617.8C185.85,619.2 187.48,619.55 190,620.5C192.52,621.45 197.17,623 198.6,623.5" stroke="#1db2a3" stroke-width="1.4" fill="none" stroke-linejoin="round" stroke-linecap="round"/>
<path d="M13.6,624C14.97,624.05 18.98,624.18 21.8,624.3C24.62,624.42 28.13,625.42 30.5,624.7C32.87,623.98 34.3,621.45 36,620C37.7,618.55 38.82,616.3 40.7,616C42.58,615.7 45.35,618.57 47.3,618.2C49.25,617.83 50.75,615.8 52.4,613.8C54.05,611.8 55.62,606.2 57.2,606.2C58.78,606.2 60.55,611.2 61.9,613.8C63.25,616.4 64.2,622.53 65.3,621.8C66.4,621.07 67.23,615.6 68.5,609.4C69.77,603.2 71.48,592.83 72.9,584.6C74.32,576.37 75.37,566.23 77,560C78.63,553.77 80.78,547.2 82.7,547.2C84.62,547.2 86.95,555.87 88.5,560C90.05,564.13 91,568 92,572C93,576 93.63,579.33 94.5,584C95.37,588.67 96.4,595.33 97.2,600C98,604.67 98.5,608.37 99.3,612C100.1,615.63 100.82,620.77 102,621.8C103.18,622.83 104.68,620.07 106.4,618.2C108.12,616.33 110.2,610.82 112.3,610.6C114.4,610.38 116.88,616.5 119,616.9C121.12,617.3 122.67,615.15 125,613C127.33,610.85 130.37,606.2 133,604C135.63,601.8 138.47,599.47 140.8,599.8C143.13,600.13 144.78,603.95 147,606C149.22,608.05 151.93,611.93 154.1,612.1C156.27,612.27 157.88,608.27 160,607C162.12,605.73 164.47,603.67 166.8,604.5C169.13,605.33 171.53,608.83 174,612C176.47,615.17 179.22,622.28 181.6,623.5C183.98,624.72 186.4,619.72 188.3,619.3C190.2,618.88 191.28,620.3 193,621C194.72,621.7 197.67,623.08 198.6,623.5" stroke="#e46767" stroke-width="1.3" fill="none" stroke-linejoin="round" stroke-linecap="round"/>
<path d="M13.6,622.5C14.47,622.7 16.95,623.33 18.8,623.7C20.65,624.07 22.5,625.02 24.7,624.7C26.9,624.38 29.57,622.15 32,621.8C34.43,621.45 36.63,623.2 39.3,622.6C41.97,622 45.57,620.63 48,618.2C50.43,615.77 52,610.92 53.9,608C55.8,605.08 57.82,600.95 59.4,600.7C60.98,600.45 62.13,604.32 63.4,606.5C64.67,608.68 65.67,614.28 67,613.8C68.33,613.32 70.02,607.57 71.4,603.6C72.78,599.63 74.03,594.18 75.3,590C76.57,585.82 77.65,580.92 79,578.5C80.35,576.08 81.97,575.5 83.4,575.5C84.83,575.5 86.25,576.08 87.6,578.5C88.95,580.92 90.3,586.07 91.5,590C92.7,593.93 93.28,596.22 94.8,602.1C96.32,607.98 99.07,622.82 100.6,625.3C102.13,627.78 102.83,619.27 104,617C105.17,614.73 106.27,611.87 107.6,611.7C108.93,611.53 110.35,614.03 112,616C113.65,617.97 115.33,623.83 117.5,623.5C119.67,623.17 121.75,616.85 125,614C128.25,611.15 132.83,606.73 137,606.4C141.17,606.07 145.73,610.25 150,612C154.27,613.75 159.23,616.08 162.6,616.9C165.97,617.72 167.8,616.38 170.2,616.9C172.6,617.42 174.78,618.57 177,620C179.22,621.43 181.33,624.83 183.5,625.5C185.67,626.17 187.48,624.48 190,624C192.52,623.52 197.17,622.83 198.6,622.6" stroke="#2457a6" stroke-width="1.5" fill="none" stroke-linejoin="round" stroke-linecap="round"/>
</g>
<line x1="82.5" y1="458.4" x2="82.5" y2="545" stroke="#1db2a3" stroke-width="0.9" stroke-dasharray="2.2,1.5"/>
<line x1="82.5" y1="545" x2="82.5" y2="575" stroke="#e46767" stroke-width="0.9" stroke-dasharray="2.2,1.5"/>
<line x1="82.7" y1="575" x2="82.7" y2="595" stroke="#2457a6" stroke-width="0.9" stroke-dasharray="2.2,1.5"/>
<line x1="59.3" y1="586.3" x2="59.3" y2="600" stroke="#1db2a3" stroke-width="0.9" stroke-dasharray="2.2,1.5"/>
<line x1="59.3" y1="600" x2="59.3" y2="613.5" stroke="#e46767" stroke-width="0.9" stroke-dasharray="2.2,1.5"/>
<line x1="79.3" y1="570.7" x2="86" y2="570.7" stroke="#2457a6" stroke-width="1"/>
<path d="M85,568.6L89.5,570.7L85,572.8Z" stroke="#2457a6" stroke-width="0.3" fill="#2457a6"/>
<text x="0" y="0" font-size="7.81" fill="#1db2a3" transform="translate(85.9 467.6) scale(0.93 1)">Cu-Cu</text>
<text x="0" y="0" font-size="7.81" fill="#e46767" transform="translate(97.7 552.9) scale(0.93 1)">Cu-Cu</text>
<text x="0" y="0" font-size="7.81" fill="#2457a6" transform="translate(96.3 585.9) scale(0.93 1)">Cu-Cu</text>
<text x="0" y="0" font-size="7.81" fill="#1db2a3" transform="translate(41 583.9) scale(0.93 1)">Cu-O</text>
<text x="0" y="0" font-size="7.81" fill="#2457a6" transform="translate(37.7 597.5) scale(0.93 1)">Cu-O</text>
<text x="0" y="0" font-size="7.81" fill="#e46767" transform="translate(32.6 608.6) scale(0.93 1)">Cu-O</text>
<line x1="129.1" y1="449.7" x2="145.8" y2="449.7" stroke="#2457a6" stroke-width="1.6"/>
<text x="0" y="0" font-size="7.92" fill="#000" transform="translate(147.6 452.5) scale(0.93 1)">CuRu/MCHS</text>
<line x1="129.1" y1="459.7" x2="145.8" y2="459.7" stroke="#e46767" stroke-width="1.2"/>
<text x="0" y="0" font-size="7.92" fill="#000" transform="translate(147.6 462.5) scale(0.93 1)">CuRu/CS</text>
<line x1="129.1" y1="469.4" x2="145.8" y2="469.4" stroke="#1db2a3" stroke-width="1.3"/>
<text x="0" y="0" font-size="7.92" fill="#000" transform="translate(147.6 472.2) scale(0.93 1)">Cu foil</text>
<line x1="129.1" y1="479.2" x2="145.8" y2="479.2" stroke="#7db0dc" stroke-width="1"/>
<text x="0" y="0" font-size="7.92" fill="#000" transform="translate(147.6 482) scale(0.93 1)">Cu<tspan font-size="5.89" dy="2">2</tspan><tspan dy="-2">O</tspan></text>
<text x="0" y="0" font-size="7.92" fill="#000" transform="translate(16.9 451.5) scale(0.93 1)">Cu K-edge</text>
<rect x="13.5" y="441.7" width="185.1" height="184" fill="none" stroke="#222" stroke-width="1"/>
<line x1="13.5" y1="625.7" x2="13.5" y2="623.1" stroke="#222" stroke-width="0.8"/>
<text x="0" y="0" font-size="8.56" fill="#000" text-anchor="middle" transform="translate(13.5 635.9) scale(0.93 1)">0</text>
<line x1="28.91" y1="625.7" x2="28.91" y2="624.3" stroke="#222" stroke-width="0.8"/>
<line x1="44.32" y1="625.7" x2="44.32" y2="623.1" stroke="#222" stroke-width="0.8"/>
<text x="0" y="0" font-size="8.56" fill="#000" text-anchor="middle" transform="translate(44.32 635.9) scale(0.93 1)">1</text>
<line x1="59.72" y1="625.7" x2="59.72" y2="624.3" stroke="#222" stroke-width="0.8"/>
<line x1="75.13" y1="625.7" x2="75.13" y2="623.1" stroke="#222" stroke-width="0.8"/>
<text x="0" y="0" font-size="8.56" fill="#000" text-anchor="middle" transform="translate(75.13 635.9) scale(0.93 1)">2</text>
<line x1="90.54" y1="625.7" x2="90.54" y2="624.3" stroke="#222" stroke-width="0.8"/>
<line x1="105.95" y1="625.7" x2="105.95" y2="623.1" stroke="#222" stroke-width="0.8"/>
<text x="0" y="0" font-size="8.56" fill="#000" text-anchor="middle" transform="translate(105.95 635.9) scale(0.93 1)">3</text>
<line x1="121.36" y1="625.7" x2="121.36" y2="624.3" stroke="#222" stroke-width="0.8"/>
<line x1="136.77" y1="625.7" x2="136.77" y2="623.1" stroke="#222" stroke-width="0.8"/>
<text x="0" y="0" font-size="8.56" fill="#000" text-anchor="middle" transform="translate(136.77 635.9) scale(0.93 1)">4</text>
<line x1="152.17" y1="625.7" x2="152.17" y2="624.3" stroke="#222" stroke-width="0.8"/>
<line x1="167.58" y1="625.7" x2="167.58" y2="623.1" stroke="#222" stroke-width="0.8"/>
<text x="0" y="0" font-size="8.56" fill="#000" text-anchor="middle" transform="translate(167.58 635.9) scale(0.93 1)">5</text>
<line x1="182.99" y1="625.7" x2="182.99" y2="624.3" stroke="#222" stroke-width="0.8"/>
<line x1="198.4" y1="625.7" x2="198.4" y2="623.1" stroke="#222" stroke-width="0.8"/>
<text x="0" y="0" font-size="8.56" fill="#000" text-anchor="middle" transform="translate(198.4 635.9) scale(0.93 1)">6</text>
<text x="0" y="0" font-size="9.31" fill="#000" text-anchor="middle" transform="translate(107.8 644.6) scale(0.93 1)">Radial distance (Å)</text>
<text x="0" y="0" font-size="9.1" text-anchor="middle" transform="translate(8.4 527.7) rotate(-90) scale(0.93 1)">FT(<tspan font-style="italic">χ</tspan>(<tspan font-style="italic">k</tspan>)*<tspan font-style="italic">k</tspan><tspan font-size="5.89" dy="-3">3</tspan><tspan dy="3">)</tspan></text>
<text x="0" y="0" font-size="18.19" fill="#000" stroke="#000" stroke-width="0.2" transform="translate(0 445) scale(0.93 1)">f</text>
<g clip-path="url(#cg)">
<path d="M251.9,621.7C252.8,622.07 255.18,623.9 257.3,623.9C259.42,623.9 262.17,621.82 264.6,621.7C267.03,621.58 269.35,623.68 271.9,623.2C274.45,622.72 277.72,620.75 279.9,618.8C282.08,616.85 283.42,612.23 285,611.5C286.58,610.77 287.93,616.1 289.4,614.4C290.87,612.7 292.1,605.55 293.8,601.3C295.5,597.05 297.9,589.63 299.6,588.9C301.3,588.17 302.53,592.65 304,596.9C305.47,601.15 306.93,610.27 308.4,614.4C309.87,618.53 310.85,620.72 312.8,621.7C314.75,622.68 317.92,620.78 320.1,620.3C322.28,619.82 323.72,619.17 325.9,618.8C328.08,618.43 330.77,619.07 333.2,618.1C335.63,617.13 338.18,616.53 340.5,613C342.82,609.47 345.35,600 347.1,596.9C348.85,593.8 348.95,593.42 351,594.4C353.05,595.38 357.23,600.03 359.4,602.8C361.57,605.57 362.33,608.28 364,611C365.67,613.72 367.52,618.23 369.4,619.1C371.28,619.97 373.53,616.05 375.3,616.2C377.07,616.35 378.32,618.78 380,620C381.68,621.22 382.68,623.37 385.4,623.5C388.12,623.63 393.03,622.55 396.3,620.8C399.57,619.05 402.33,614.8 405,613C407.67,611.2 409.8,609.33 412.3,610C414.8,610.67 417.48,614.48 420,617C422.52,619.52 424.62,623.97 427.4,625.1C430.18,626.23 435.15,624.02 436.7,623.8" stroke="#7db0dc" stroke-width="1.2" fill="none" stroke-linejoin="round" stroke-linecap="round"/>
<path d="M251.9,622.4C252.55,622.53 254.17,623.32 255.8,623.2C257.43,623.08 259.27,622.07 261.7,621.7C264.13,621.33 267.97,620.75 270.4,621C272.83,621.25 274.35,623.32 276.3,623.2C278.25,623.08 280.28,621.28 282.1,620.3C283.92,619.32 285.73,617.67 287.2,617.3C288.67,616.93 289.55,617.37 290.9,618.1C292.25,618.83 293.97,623.17 295.3,621.7C296.63,620.23 297.88,611.97 298.9,609.3C299.92,606.63 300.6,605.08 301.4,605.7C302.2,606.32 303.02,609.85 303.7,613C304.38,616.15 304.83,626.07 305.5,624.6C306.17,623.13 306.97,611.25 307.7,604.2C308.43,597.15 309.3,587.17 309.9,582.3C310.5,577.43 310.07,585.38 311.3,575C312.53,564.62 315.68,535.83 317.3,520C318.92,504.17 319.97,489.33 321,480C322.03,470.67 322.75,467.38 323.5,464C324.25,460.62 324.83,459.7 325.5,459.7C326.17,459.7 326.75,460.62 327.5,464C328.25,467.38 329.25,470.67 330,480C330.75,489.33 331.1,504.17 332,520C332.9,535.83 334.47,562.18 335.4,575C336.33,587.82 336.75,591.67 337.6,596.9C338.45,602.13 339.28,605.3 340.5,606.4C341.72,607.5 343.02,603.82 344.9,603.5C346.78,603.18 350.12,605.42 351.8,604.5C353.48,603.58 353.53,599.97 355,598C356.47,596.03 359.1,592.37 360.6,592.7C362.1,593.03 362.53,596.5 364,600C365.47,603.5 367.73,612.03 369.4,613.7C371.07,615.37 372.17,611.45 374,610C375.83,608.55 377.93,606.53 380.4,605C382.87,603.47 386.53,599.63 388.8,600.8C391.07,601.97 392.05,608.4 394,612C395.95,615.6 398.83,621.9 400.5,622.4C402.17,622.9 402.73,616.95 404,615C405.27,613.05 406.43,610.53 408.1,610.7C409.77,610.87 411.35,613.68 414,616C416.65,618.32 421.33,623.93 424,624.6C426.67,625.27 427.88,621.87 430,620C432.12,618.13 435.58,614.5 436.7,613.4" stroke="#1db2a3" stroke-width="1.4" fill="none" stroke-linejoin="round" stroke-linecap="round"/>
<path d="M251.9,624.4C255.23,624.4 266.62,624.88 271.9,624.4C277.18,623.92 279.47,622.83 283.6,621.5C287.73,620.17 293.05,616.82 296.7,616.4C300.35,615.98 302.58,618.03 305.5,619C308.42,619.97 310.8,622.52 314.2,622.2C317.6,621.88 322,616.97 325.9,617.1C329.8,617.23 333.58,621.78 337.6,623C341.62,624.22 333.48,624.1 350,624.4C366.52,624.7 422.25,624.73 436.7,624.8" stroke="#e46767" stroke-width="1.3" fill="none" stroke-linejoin="round" stroke-linecap="round"/>
<path d="M251.9,624.8C255.23,624.8 266.62,625.28 271.9,624.8C277.18,624.32 279.47,623.23 283.6,621.9C287.73,620.57 293.05,617.17 296.7,616.8C300.35,616.43 302.58,618.73 305.5,619.7C308.42,620.67 310.8,622.72 314.2,622.6C317.6,622.48 322,618.87 325.9,619C329.8,619.13 333.58,622.43 337.6,623.4C341.62,624.37 333.48,624.5 350,624.8C366.52,625.1 422.25,625.13 436.7,625.2" stroke="#2457a6" stroke-width="1.5" fill="none" stroke-linejoin="round" stroke-linecap="round"/>
</g>
<line x1="325.5" y1="453" x2="325.5" y2="620" stroke="#1db2a3" stroke-width="0.9" stroke-dasharray="2.2,1.5"/>
<line x1="299.4" y1="582" x2="299.4" y2="600.5" stroke="#7db0dc" stroke-width="0.9" stroke-dasharray="2.2,1.5"/>
<text x="0" y="0" font-size="7.81" fill="#1db2a3" transform="translate(331.7 460) scale(0.93 1)">Ru-Ru</text>
<text x="0" y="0" font-size="7.81" fill="#7db0dc" transform="translate(279.6 589) scale(0.93 1)">Ru-O</text>
<line x1="368.3" y1="449.1" x2="384.8" y2="449.1" stroke="#2457a6" stroke-width="1.6"/>
<text x="0" y="0" font-size="7.92" fill="#000" transform="translate(386.7 451.9) scale(0.93 1)">CuRu/MCHS</text>
<line x1="368.3" y1="458.9" x2="384.8" y2="458.9" stroke="#e46767" stroke-width="1.2"/>
<text x="0" y="0" font-size="7.92" fill="#000" transform="translate(386.7 461.7) scale(0.93 1)">CuRu/CS</text>
<line x1="368.3" y1="468.8" x2="384.8" y2="468.8" stroke="#1db2a3" stroke-width="1.3"/>
<text x="0" y="0" font-size="7.92" fill="#000" transform="translate(386.7 471.6) scale(0.93 1)">Ru foil</text>
<line x1="368.3" y1="478.5" x2="384.8" y2="478.5" stroke="#7db0dc" stroke-width="1"/>
<text x="0" y="0" font-size="7.92" fill="#000" transform="translate(386.7 481.3) scale(0.93 1)">RuO<tspan font-size="5.89" dy="2">2</tspan></text>
<text x="0" y="0" font-size="7.92" fill="#000" transform="translate(255 451.2) scale(0.93 1)">Ru K-edge</text>
<rect x="343.4" y="485.2" width="89" height="88.1" fill="#fff"/>
<g clip-path="url(#cgi)">
<path d="M343.4,568.1C343.83,567.75 345.15,565.85 346,566C346.85,566.15 347.67,569.33 348.5,569C349.33,568.67 350.1,564.53 351,564C351.9,563.47 352.98,567.8 353.9,565.8C354.82,563.8 355.73,555.87 356.5,552C357.27,548.13 357.77,543.13 358.5,542.6C359.23,542.07 360.15,550.9 360.9,548.8C361.65,546.7 362.35,537.3 363,530C363.65,522.7 364.25,510.63 364.8,505C365.35,499.37 365.77,496.2 366.3,496.2C366.83,496.2 367.47,499.37 368,505C368.53,510.63 368.88,520.52 369.5,530C370.12,539.48 370.87,557.4 371.7,561.9C372.53,566.4 373.6,558.03 374.5,557C375.4,555.97 376.02,556.17 377.1,555.7C378.18,555.23 379.85,555.98 381,554.2C382.15,552.42 383,551.2 384,545C385,538.8 385.88,523.45 387,517C388.12,510.55 389.53,506.3 390.7,506.3C391.87,506.3 392.95,511.38 394,517C395.05,522.62 396.08,533.03 397,540C397.92,546.97 398.57,556.7 399.5,558.8C400.43,560.9 401.43,551.05 402.6,552.6C403.77,554.15 405.35,565.87 406.5,568.1C407.65,570.33 408.48,566.77 409.5,566C410.52,565.23 411.52,566.5 412.6,563.5C413.68,560.5 414.7,552 416,548C417.3,544 418.98,539.5 420.4,539.5C421.82,539.5 423.08,542.58 424.5,548C425.92,553.42 427.58,568.27 428.9,572C430.22,575.73 431.82,570.67 432.4,570.4" stroke="#7db0dc" stroke-width="0.8" fill="none" stroke-linejoin="round" stroke-linecap="round"/>
<path d="M343.4,571C344.5,570.83 348.23,570.83 350,570C351.77,569.17 352.67,567.33 354,566C355.33,564.67 356.75,563.67 358,562C359.25,560.33 360.38,557.83 361.5,556C362.62,554.17 363.62,551 364.7,551C365.78,551 366.95,553.5 368,556C369.05,558.5 370.13,563.85 371,566C371.87,568.15 372.37,569.07 373.2,568.9C374.03,568.73 374.97,567.2 376,565C377.03,562.8 378.32,556.53 379.4,555.7C380.48,554.87 381.57,557.95 382.5,560C383.43,562.05 384.1,565.93 385,568C385.9,570.07 386.23,571.9 387.9,572.4C389.57,572.9 392.98,571.02 395,571C397.02,570.98 397.5,572.13 400,572.3C402.5,572.47 406.67,571.92 410,572C413.33,572.08 416.27,572.67 420,572.8C423.73,572.93 430.33,572.8 432.4,572.8" stroke="#e46767" stroke-width="0.8" fill="none" stroke-linejoin="round" stroke-linecap="round"/>
<path d="M343.4,571.5C344.5,571.42 348.23,571.75 350,571C351.77,570.25 352.67,568.33 354,567C355.33,565.67 356.75,564.67 358,563C359.25,561.33 360.38,558.75 361.5,557C362.62,555.25 363.62,552.5 364.7,552.5C365.78,552.5 366.95,554.67 368,557C369.05,559.33 370.13,564.42 371,566.5C371.87,568.58 372.37,569.58 373.2,569.5C374.03,569.42 374.97,567.92 376,566C377.03,564.08 378.32,558.67 379.4,558C380.48,557.33 381.57,560.17 382.5,562C383.43,563.83 384.1,567.23 385,569C385.9,570.77 386.23,572.03 387.9,572.6C389.57,573.17 392.98,572.37 395,572.4C397.02,572.43 397.5,572.77 400,572.8C402.5,572.83 406.67,572.57 410,572.6C413.33,572.63 416.27,572.93 420,573C423.73,573.07 430.33,573 432.4,573" stroke="#2457a6" stroke-width="0.9" fill="none" stroke-linejoin="round" stroke-linecap="round"/>
</g>
<line x1="366.1" y1="494" x2="366.1" y2="570" stroke="#7db0dc" stroke-width="0.5" stroke-dasharray="1.2,1"/>
<line x1="364.7" y1="549" x2="364.7" y2="556" stroke="#e46767" stroke-width="0.5" stroke-dasharray="1.2,1"/>
<line x1="379.4" y1="552" x2="379.4" y2="558" stroke="#e46767" stroke-width="0.5" stroke-dasharray="1.2,1"/>
<line x1="362" y1="550.5" x2="367.5" y2="550.5" stroke="#2457a6" stroke-width="0.6"/>
<path d="M367,549.3L369.4,550.5L367,551.7Z" stroke="#2457a6" stroke-width="0.2" fill="#2457a6"/>
<text x="0" y="0" font-size="4.92" fill="#7db0dc" transform="translate(353.9 496.2) scale(0.93 1)">Ru-O</text>
<text x="0" y="0" font-size="4.92" fill="#2457a6" transform="translate(345.9 537.4) scale(0.93 1)">Ru-C/O</text>
<text x="0" y="0" font-size="4.92" fill="#e46767" transform="translate(345.4 542.9) scale(0.93 1)">Ru-C/O</text>
<text x="0" y="0" font-size="4.92" fill="#e46767" transform="translate(371.7 549) scale(0.93 1)">Ru-Ru</text>
<text x="0" y="0" font-size="4.92" fill="#2457a6" transform="translate(384 560.2) scale(0.93 1)">Ru-Ru</text>
<line x1="396.7" y1="489.9" x2="403.5" y2="489.9" stroke="#2457a6" stroke-width="0.8"/>
<text x="0" y="0" font-size="4.92" fill="#000" transform="translate(404.9 491.6) scale(0.93 1)">CuRu/MCHS</text>
<line x1="396.7" y1="495.2" x2="403.5" y2="495.2" stroke="#e46767" stroke-width="0.8"/>
<text x="0" y="0" font-size="4.92" fill="#000" transform="translate(404.9 496.9) scale(0.93 1)">CuRu/CS</text>
<line x1="396.7" y1="500.6" x2="403.5" y2="500.6" stroke="#7db0dc" stroke-width="0.8"/>
<text x="0" y="0" font-size="4.92" fill="#000" transform="translate(404.9 502.3) scale(0.93 1)">RuO<tspan font-size="4.07" dy="1.2">2</tspan></text>
<rect x="343.4" y="485.2" width="89" height="88.1" fill="none" stroke="#333" stroke-width="0.7"/>
<line x1="343.4" y1="573.3" x2="343.4" y2="571.8" stroke="#333" stroke-width="0.6"/>
<text x="0" y="0" font-size="5.24" fill="#000" text-anchor="middle" transform="translate(343.4 578.9) scale(0.93 1)">0</text>
<line x1="358.23" y1="573.3" x2="358.23" y2="571.8" stroke="#333" stroke-width="0.6"/>
<text x="0" y="0" font-size="5.24" fill="#000" text-anchor="middle" transform="translate(358.23 578.9) scale(0.93 1)">1</text>
<line x1="373.07" y1="573.3" x2="373.07" y2="571.8" stroke="#333" stroke-width="0.6"/>
<text x="0" y="0" font-size="5.24" fill="#000" text-anchor="middle" transform="translate(373.07 578.9) scale(0.93 1)">2</text>
<line x1="387.9" y1="573.3" x2="387.9" y2="571.8" stroke="#333" stroke-width="0.6"/>
<text x="0" y="0" font-size="5.24" fill="#000" text-anchor="middle" transform="translate(387.9 578.9) scale(0.93 1)">3</text>
<line x1="402.73" y1="573.3" x2="402.73" y2="571.8" stroke="#333" stroke-width="0.6"/>
<text x="0" y="0" font-size="5.24" fill="#000" text-anchor="middle" transform="translate(402.73 578.9) scale(0.93 1)">4</text>
<line x1="417.57" y1="573.3" x2="417.57" y2="571.8" stroke="#333" stroke-width="0.6"/>
<text x="0" y="0" font-size="5.24" fill="#000" text-anchor="middle" transform="translate(417.57 578.9) scale(0.93 1)">5</text>
<line x1="432.4" y1="573.3" x2="432.4" y2="571.8" stroke="#333" stroke-width="0.6"/>
<text x="0" y="0" font-size="5.24" fill="#000" text-anchor="middle" transform="translate(432.4 578.9) scale(0.93 1)">6</text>
<text x="0" y="0" font-size="5.24" fill="#000" text-anchor="middle" transform="translate(388.8 583.6) scale(0.93 1)">Radial distance (Å)</text>
<text x="0" y="0" font-size="5.35" text-anchor="middle" transform="translate(340.4 528) rotate(-90) scale(0.93 1)">FT(|<tspan font-style="italic">χ</tspan>(<tspan font-style="italic">k</tspan>)*<tspan font-style="italic">k</tspan><tspan font-size="3.75" dy="-2">3</tspan><tspan dy="2">|)</tspan></text>
<rect x="251.9" y="441.5" width="184.8" height="184.4" fill="none" stroke="#222" stroke-width="1"/>
<line x1="251.9" y1="625.9" x2="251.9" y2="623.3" stroke="#222" stroke-width="0.8"/>
<text x="0" y="0" font-size="8.56" fill="#000" text-anchor="middle" transform="translate(251.9 636) scale(0.93 1)">0</text>
<line x1="267.28" y1="625.9" x2="267.28" y2="624.5" stroke="#222" stroke-width="0.8"/>
<line x1="282.65" y1="625.9" x2="282.65" y2="623.3" stroke="#222" stroke-width="0.8"/>
<text x="0" y="0" font-size="8.56" fill="#000" text-anchor="middle" transform="translate(282.65 636) scale(0.93 1)">1</text>
<line x1="298.02" y1="625.9" x2="298.02" y2="624.5" stroke="#222" stroke-width="0.8"/>
<line x1="313.4" y1="625.9" x2="313.4" y2="623.3" stroke="#222" stroke-width="0.8"/>
<text x="0" y="0" font-size="8.56" fill="#000" text-anchor="middle" transform="translate(313.4 636) scale(0.93 1)">2</text>
<line x1="328.78" y1="625.9" x2="328.78" y2="624.5" stroke="#222" stroke-width="0.8"/>
<line x1="344.15" y1="625.9" x2="344.15" y2="623.3" stroke="#222" stroke-width="0.8"/>
<text x="0" y="0" font-size="8.56" fill="#000" text-anchor="middle" transform="translate(344.15 636) scale(0.93 1)">3</text>
<line x1="359.53" y1="625.9" x2="359.53" y2="624.5" stroke="#222" stroke-width="0.8"/>
<line x1="374.9" y1="625.9" x2="374.9" y2="623.3" stroke="#222" stroke-width="0.8"/>
<text x="0" y="0" font-size="8.56" fill="#000" text-anchor="middle" transform="translate(374.9 636) scale(0.93 1)">4</text>
<line x1="390.28" y1="625.9" x2="390.28" y2="624.5" stroke="#222" stroke-width="0.8"/>
<line x1="405.65" y1="625.9" x2="405.65" y2="623.3" stroke="#222" stroke-width="0.8"/>
<text x="0" y="0" font-size="8.56" fill="#000" text-anchor="middle" transform="translate(405.65 636) scale(0.93 1)">5</text>
<line x1="421.02" y1="625.9" x2="421.02" y2="624.5" stroke="#222" stroke-width="0.8"/>
<line x1="436.4" y1="625.9" x2="436.4" y2="623.3" stroke="#222" stroke-width="0.8"/>
<text x="0" y="0" font-size="8.56" fill="#000" text-anchor="middle" transform="translate(436.4 636) scale(0.93 1)">6</text>
<text x="0" y="0" font-size="9.31" fill="#000" text-anchor="middle" transform="translate(344.3 644.6) scale(0.93 1)">Radial distance (Å)</text>
<text x="0" y="0" font-size="9.42" text-anchor="middle" transform="translate(244.2 533.5) rotate(-90) scale(0.93 1)">FT(<tspan font-style="italic">χ</tspan>(<tspan font-style="italic">k</tspan>)*<tspan font-style="italic">k</tspan><tspan font-size="5.89" dy="-3">3</tspan><tspan dy="3">)</tspan></text>
<text x="0" y="0" font-size="18.19" fill="#000" stroke="#000" stroke-width="0.2" transform="translate(235 445.5) scale(0.93 1)">g</text>
<g clip-path="url(#cliph)">
<rect x="494" y="224.6" width="162.3" height="69" fill="#0808ff"/>
<path d="M541.7,223.6L657.3,223.6 657.3,289.7 618.5,289.7 493,289.7 493,252.1 498,252.5 505.4,252.6 512.7,252.3 517.3,251.6 512.3,250.9 498.8,250.3 493,250.4 493,229.6 503.7,230.9 514.5,231.5 523.5,231.4 532.6,230.5 539.8,229.3 543.5,227.9 544.2,227.2 544,225.8 542.5,224.4 541.1,223.6ZM585.4,237.2L581.8,237.9 580.1,238.7 579.6,239.4 580.2,240.1 581.9,240.8 585.5,241.6 592.1,242.4 598.7,242.6 606.1,242.4 612.7,241.8 617.9,240.8 619.6,240.1 620,239.4 619.2,238.7 615.2,237.6 608.6,236.9 600.3,236.5 592.1,236.7 585.5,237.2ZM603.9,249.4L601.2,250.1 604.5,250.2 607.5,250.1 604.5,249.4Z" fill="#1a1aff"/>
<path d="M550,223.6L657.3,223.6 657.3,288.5 596.2,288.6 493,288.4 493,254 507.9,254.1 526.9,253.2 536.9,252.3 541.1,251.6 543.1,250.9 543,250.1 541.7,249.7 536.8,249.1 511.2,249 493,248 493,232.4 513.6,234.5 521.9,234.9 528.5,234.4 545,232.2 551.6,230.8 553,230.1 553.7,229.3 553.8,228.6 553.2,227.2 549.4,223.6ZM587.7,235.8L580.5,236.4 575.6,237.6 573.8,238.7 573.8,239.4 574.4,240.1 575.9,240.8 581.7,242.2 589.6,243.2 597.9,243.6 606.9,243.4 616.8,242.5 624.8,240.8 626.3,240.1 626.7,239.4 626.2,238.7 624.6,237.9 618.5,236.7 610.2,236 598.7,235.6 587.9,235.8ZM600.9,248L591.5,248.7 588.5,249.4 588.7,250.1 592.8,250.9 596.2,251.1 608.6,251.3 615.9,250.9 619.8,250.1 620,249.4 616.9,248.7 612.7,248.3 601.2,248Z" fill="#2b2bff"/>
<path d="M555.7,223.6L657.3,223.6 657.3,276.2 634.6,276.7 625.3,277.4 624.6,278.1 638.3,279 657.3,279.1 657.3,286.9 586.3,287.3 493,286.8 493,255.3 508.7,255.2 531.8,254.1 544.2,252.9 548.5,252.3 554.7,250.9 556.1,250.1 556.2,249.4 554.9,248.6 547.8,245.8 546.7,245.1 545.6,243.7 543.4,239.4 543.5,238.7 544.1,237.9 545.8,237.1 552.4,235.8 557.4,235.5 561.5,235.7 563.5,236.5 564.4,238.7 566.1,240.1 571.4,242 583.8,244 601.2,245.7 604.5,245.5 629.2,242.4 637.5,240.8 639.6,240.1 640.7,239.4 640.7,238.7 640,238.1 637.7,237.2 632.5,236.2 625.9,235.5 609.4,234.7 578,234 571.4,233.4 569,232.6 562.4,228.9 558.2,226.1 555.2,223.6ZM595.2,246.5L586.3,247.6 580.4,248.7 578.8,249.4 579.6,250.1 583.3,250.9 594.6,251.7 608.6,251.9 622.6,251.1 629.4,250.1 630.4,249.4 629.1,248.7 625.1,247.9 616.8,247 603.6,245.9 599.5,246 595.4,246.5ZM523,276.7L511.7,277.4 514.4,278.1 528.5,278.5 541.7,278.5 549.5,278.1 550.4,277.4 540.4,276.7 523.5,276.7ZM493.8,235.3L504.8,236.5 514.5,238.5 522.7,241.3 526.4,243 528.7,244.4 529.1,245.1 528.4,245.8 523.5,246.9 516.1,247.4 507,247.3 499.3,246.5 493,245 493,235.3Z" fill="#3c3cff"/>
<path d="M559.9,223.6L653.1,223.6 651.1,225.8 648.4,227.2 643.3,228.9 637.5,230.2 630.9,231.3 621.8,232.3 606.1,232.9 588.8,232.3 582.2,231.6 575.6,230.5 569.8,229 565.7,227.4 562.5,225.8 559.8,223.6ZM502.9,242L505.4,242.1 507.4,243 507,243.2 505.4,243.3 503.8,243 502.7,242.2ZM653.2,249.4L657.3,249.3 657.3,275.2 640.8,275.6 619.3,276.5 574.7,277.2 564.8,276.9 541.7,275.2 493,274 493,256.7 510.3,256.3 533.5,255 547.2,253.7 562.4,251.4 566.5,251.1 573.9,251.1 595.4,252.3 611.9,252.4 629.9,251.6 653.1,249.4ZM557.4,279.5L566.5,279 578,278.9 618.5,279.5 657.3,280.7 657.3,285.1 621,285.9 577.2,286.2 525.2,285.6 493,284.9 493,281 557.4,279.5Z" fill="#4c4cff"/>
<path d="M564,223.6L643.4,223.6 642.1,225 639.4,226.5 635,227.9 630.1,229 617.7,230.7 602.8,231.3 587.9,230.7 577.2,229.2 569,226.8 565.5,225 563.8,223.6ZM567.3,252.3L575.6,252.1 606.1,252.9 644.9,252.1 657.3,252.2 657.3,274.4 619.3,275.8 573.9,276.2 563.2,275.8 530.2,273.5 493,271.6 493,258.4 507.9,257.8 531,256.3 545,255 561.5,252.7 567.2,252.3ZM569,280.3L618.5,280.6 646.6,282.2 649.2,282.4 650.3,283.1 644.4,283.8 619.3,284.9 563.2,285.2 530.7,284.6 511.9,283.8 505.6,283.1 509.5,282.3 522,281.7 568.9,280.3Z" fill="#5e5eff"/>
<path d="M568.1,223.6L637.3,223.6 635.8,225 633.4,226.2 625.9,228.2 614.4,229.7 602,230.2 589.6,229.7 579.7,228.4 572.3,226.4 569.2,225 567.3,223.6ZM569.8,253L577.2,252.9 605.3,253.3 633.4,253.2 657.3,254.1 657.3,273.7 618.5,275.3 572.3,275.5 561.5,275 509.5,270.3 493,269.4 493,260.4 505.4,259.8 526,258.2 545,256.1 562.4,253.6 569.8,253ZM554.9,281.7L578,281.1 615.2,281.7 625.1,282.4 625.6,283.1 616.3,283.8 578,284.4 546.9,283.8 537.3,283.1 540.9,282.4 554.4,281.7Z" fill="#6e6eff"/>
<path d="M571.4,223.6L632.6,223.6 630.9,225 629.2,225.8 621.8,227.7 611.9,228.9 601.2,229.3 590.4,228.8 581.3,227.7 574.2,225.8 572.3,224.8 570.6,223.6ZM570.6,253.7L578.9,253.5 629.2,253.9 642.4,254.5 657.3,255.8 657.3,272.8 619.3,274.8 590.4,275 570.6,274.9 562.4,274.4 550.6,273.1 526.9,269.7 508.7,267.6 500.4,266.8 493,266.6 493,263.1 503.7,262.6 526,260.1 561.5,254.5 570.2,253.7ZM577.2,282.4L581.3,282.5 585.8,283.1 579.7,283.2 571.5,283.1 576.9,282.4Z" fill="#8080ff"/>
<path d="M573.9,223.6L628.5,223.6 627.6,224.4 625.1,225.6 619.3,227 611.1,228.1 601.2,228.5 592.1,228.2 583.8,227.2 577.9,225.8 575.6,224.8 573.8,223.6ZM570.6,254.4L582.2,254.1 623.4,254.3 636.7,255.1 657.3,257.5 657.3,271.8 633.4,273.6 619.3,274.4 598.7,274.6 577.2,274.5 564.8,274 559.9,273.5 544.2,270.9 534.2,268.8 526.4,266.6 523,265.2 523,264.5 524.3,263.8 528.9,262.3 537.3,260.2 560.7,255.5 570.2,254.4Z" fill="#9090ff"/>
<path d="M577.2,223.6L624.7,223.6 622.3,225 616.8,226.5 609.4,227.4 601.2,227.7 592.9,227.5 585.5,226.6 579.7,225.1 576.9,223.6ZM570.6,255.1L586.3,254.6 621.8,254.9 634.4,255.9 657.3,259.2 657.3,270.4 633,273.1 615.2,274 592.1,274.2 573.1,273.9 561.5,273.1 554.2,271.7 545.3,269.5 538.6,267.3 536.1,265.9 535.5,265.2 535.5,264.5 537.1,263 540.6,261.6 545.4,260.2 559.9,256.6 570.3,255.2Z" fill="#a2a2ff"/>
<path d="M580.5,223.6L621,223.6 618.2,225 613.5,226.1 606.9,226.8 600.3,227 592.9,226.7 587.1,226 583.1,225 580.1,223.6ZM570.6,255.9L578,255.4 589.6,255.2 621.8,255.6 635.8,257.1 657.3,261.3 657.3,268.4 644.4,270.9 632.5,272.5 618.5,273.5 583,273.6 568.2,273.1 562.4,272.5 558.7,271.7 551.2,269.5 545.8,267.3 543.7,265.9 543.3,265.2 543.3,264.5 543.7,263.8 545.8,262.3 549.2,260.9 559.9,257.6 563.2,256.8 570.6,255.9Z" fill="#b2b2ff"/>
<path d="M583.8,223.6L617.3,223.6 615.2,224.6 611.1,225.5 606.1,226.1 600.3,226.3 590.4,225.6 586.3,224.8 583.5,223.6ZM586.3,255.9L612.7,255.9 625,256.6 633.4,257.7 642.4,259.6 649.9,261.6 653.2,263 654.7,264.5 654.7,265.2 654.2,265.9 651.8,267.3 644.9,269.5 630.9,272 621,272.9 613.6,273.1 585.5,273.2 569,272.5 560.7,271.3 554,268.8 551.1,267.3 549.4,265.9 549,265.2 549,264.5 550.1,263 554.1,260.9 560.7,258.4 564,257.6 571.4,256.6 585.6,255.9Z" fill="#c3c3ff"/>
<path d="M587.9,223.6L613.1,223.6 611.3,224.3 607.7,225 600.3,225.5 592.9,225 589.2,224.3 587.4,223.6ZM584.6,256.6L602.8,256.4 621,257 633.4,258.8 641.6,260.9 645.6,262.3 647.8,263.8 648.3,264.5 648.3,265.2 646.9,266.6 643.9,268.1 639.1,269.5 632.7,270.9 624.3,272 617.7,272.5 595.4,272.8 575.6,272.4 564,271.1 559.1,269.5 554.5,266.6 553.5,265.2 553.5,264.5 554.5,263 559.1,260.2 563,258.7 569,257.7 575.6,257 584.2,256.6Z" fill="#d4d4ff"/>
<path d="M592.9,223.6L607.7,223.6 603.9,224.3 600.3,224.5 596.3,224.3 592.5,223.6ZM584.6,257.3L601.2,257.1 619.3,257.6 630.9,259.3 638.7,261.6 641.5,263 642.9,264.5 642.9,265.2 642.4,265.9 640.3,267.3 636.8,268.8 631.4,270.2 623.4,271.4 617.7,271.9 597,272.2 577.2,271.9 568,270.9 561.5,269.3 558.4,267.3 557.1,265.2 557.1,264.5 557.8,263 560.7,260.8 564,259.5 570.6,258.3 576.4,257.7 584.4,257.3Z" fill="#e6e6ff"/>
<path d="M585.5,258L601.2,257.8 618.5,258.3 628.4,259.9 634.5,261.6 637.2,263 638.3,264.5 638,265.9 636.1,267.3 632.5,268.8 628.4,269.8 621.6,270.9 615.2,271.3 596.2,271.7 578,271.2 569.8,270.3 563.2,268.7 560.9,267.3 560.2,266.6 559.5,265.2 559.8,263.8 560.2,263 562.4,261.4 565.9,260.2 572.3,258.9 585.4,258Z" fill="#f6f6ff"/>
<path d="M587.9,258.7L602.8,258.6 618.5,259.2 624.9,260.2 629.2,261.3 632.1,262.3 634.1,263.8 634.5,265.2 633.3,266.6 630.4,268.1 620.9,270.2 610.2,270.8 593.7,271 577.2,270.4 569.8,269.4 563.7,267.3 562.1,265.9 561.9,264.5 562.7,263 565.4,261.6 569.8,260.3 574.7,259.5 587.3,258.7Z" fill="#fff7f7"/>
<path d="M591.2,259.4L604.5,259.4 618.5,260.1 623.4,260.9 629.4,263 630.7,264.5 630.7,265.2 630.3,265.9 628.4,267.1 625.9,268.1 619.3,269.5 606.1,270.2 591.7,270.2 577.2,269.5 570.6,268.4 566.2,266.6 565,265.2 565.4,263.8 567.3,262.5 569.5,261.6 576.8,260.2 590.5,259.5Z" fill="#ffe5e5"/>
<path d="M580.5,260.9L591.2,260.3 601.2,260.2 615.2,260.8 621,261.5 625.1,263 626.6,264.5 626.6,265.2 625.2,266.6 623.7,267.3 620.1,268.4 616.7,268.8 605.3,269.3 594.6,269.4 580,268.8 574.4,268.1 571.4,267.2 569.2,265.9 568.7,265.2 568.7,264.5 569.2,263.8 571.4,262.5 573.9,261.8 580.2,260.9Z" fill="#ffd5d5"/>
<path d="M586.3,261.6L595.4,261.2 603.6,261.3 611.9,261.7 619.3,262.6 622.1,263.8 622.7,264.5 622.7,265.2 622.1,265.9 620.9,266.6 618.5,267.3 610.8,268.1 601.2,268.4 592.1,268.4 583,267.8 576.4,267 573.9,266 573,265.2 573,264.5 573.7,263.8 575.2,263 578,262.4 585.9,261.6Z" fill="#ffc3c3"/>
<path d="M587.1,263L599.5,262.5 611.9,263.4 614.2,263.8 616.1,264.5 616.2,265.2 614.3,265.9 609.8,266.6 597,267.2 586.3,266.6 582.3,265.9 580.5,265.2 580.5,264.5 582.4,263.8 586.7,263Z" fill="#ffb3b3"/>
</g>
<rect x="494" y="224.6" width="162.3" height="69" fill="none" stroke="#444" stroke-width="0.6"/>
<line x1="494" y1="293.6" x2="495.8" y2="293.6" stroke="#222" stroke-width="0.7"/>
<text x="0" y="0" font-size="8.56" fill="#000" text-anchor="end" transform="translate(491.8 296.5) scale(0.93 1)">1</text>
<line x1="494" y1="270.6" x2="495.8" y2="270.6" stroke="#222" stroke-width="0.7"/>
<text x="0" y="0" font-size="8.56" fill="#000" text-anchor="end" transform="translate(491.8 273.5) scale(0.93 1)">2</text>
<line x1="494" y1="247.6" x2="495.8" y2="247.6" stroke="#222" stroke-width="0.7"/>
<text x="0" y="0" font-size="8.56" fill="#000" text-anchor="end" transform="translate(491.8 250.5) scale(0.93 1)">3</text>
<line x1="494" y1="224.6" x2="495.8" y2="224.6" stroke="#222" stroke-width="0.7"/>
<text x="0" y="0" font-size="8.56" fill="#000" text-anchor="end" transform="translate(491.8 227.5) scale(0.93 1)">4</text>
<line x1="494" y1="293.6" x2="494" y2="291.8" stroke="#222" stroke-width="0.7"/>
<text x="0" y="0" font-size="8.56" fill="#000" text-anchor="middle" transform="translate(494 302.4) scale(0.93 1)">0</text>
<line x1="509.46" y1="293.6" x2="509.46" y2="292.5" stroke="#222" stroke-width="0.7"/>
<line x1="524.91" y1="293.6" x2="524.91" y2="291.8" stroke="#222" stroke-width="0.7"/>
<text x="0" y="0" font-size="8.56" fill="#000" text-anchor="middle" transform="translate(524.91 302.4) scale(0.93 1)">2</text>
<line x1="540.37" y1="293.6" x2="540.37" y2="292.5" stroke="#222" stroke-width="0.7"/>
<line x1="555.83" y1="293.6" x2="555.83" y2="291.8" stroke="#222" stroke-width="0.7"/>
<text x="0" y="0" font-size="8.56" fill="#000" text-anchor="middle" transform="translate(555.83 302.4) scale(0.93 1)">4</text>
<line x1="571.29" y1="293.6" x2="571.29" y2="292.5" stroke="#222" stroke-width="0.7"/>
<line x1="586.74" y1="293.6" x2="586.74" y2="291.8" stroke="#222" stroke-width="0.7"/>
<text x="0" y="0" font-size="8.56" fill="#000" text-anchor="middle" transform="translate(586.74 302.4) scale(0.93 1)">6</text>
<line x1="602.2" y1="293.6" x2="602.2" y2="292.5" stroke="#222" stroke-width="0.7"/>
<line x1="617.66" y1="293.6" x2="617.66" y2="291.8" stroke="#222" stroke-width="0.7"/>
<text x="0" y="0" font-size="8.56" fill="#000" text-anchor="middle" transform="translate(617.66 302.4) scale(0.93 1)">8</text>
<line x1="633.11" y1="293.6" x2="633.11" y2="292.5" stroke="#222" stroke-width="0.7"/>
<line x1="648.57" y1="293.6" x2="648.57" y2="291.8" stroke="#222" stroke-width="0.7"/>
<text x="0" y="0" font-size="8.56" fill="#000" text-anchor="middle" transform="translate(648.57 302.4) scale(0.93 1)">10</text>
<text x="0" y="0" font-size="9.84" fill="#fff" transform="translate(498.6 234.2) scale(0.93 1)">CuRu/MCHS</text>
<rect x="661.1" y="225.1" width="5.9" height="68" fill="url(#cbh)"/>
<text x="0" y="0" font-size="6.74" fill="#000" transform="translate(669.2 229.1) scale(0.93 1)">0.46</text>
<text x="0" y="0" font-size="6.74" fill="#000" transform="translate(669.2 238.5) scale(0.93 1)">0.39</text>
<text x="0" y="0" font-size="6.74" fill="#000" transform="translate(669.2 247.9) scale(0.93 1)">0.33</text>
<text x="0" y="0" font-size="6.74" fill="#000" transform="translate(669.2 257.3) scale(0.93 1)">0.26</text>
<text x="0" y="0" font-size="6.74" fill="#000" transform="translate(669.2 266.7) scale(0.93 1)">0.20</text>
<text x="0" y="0" font-size="6.74" fill="#000" transform="translate(669.2 276.1) scale(0.93 1)">0.13</text>
<text x="0" y="0" font-size="6.74" fill="#000" transform="translate(669.2 285.5) scale(0.93 1)">0.07</text>
<text x="0" y="0" font-size="6.74" fill="#000" transform="translate(669.2 294.9) scale(0.93 1)">0.00</text>
<text x="0" y="0" font-size="9.52" text-anchor="middle" transform="translate(581.5 313.4) scale(0.93 1)"><tspan font-style="italic">k</tspan> (Å<tspan font-size="5.89" dy="-3">-1</tspan><tspan dy="3">)</tspan></text>
<text x="0" y="0" font-size="9.1" text-anchor="middle" transform="translate(482.6 258.1) rotate(-90) scale(0.93 1)">R+α (Å)</text>
<text x="0" y="0" font-size="18.73" fill="#000" stroke="#000" stroke-width="0.2" transform="translate(472.6 217.8) scale(0.93 1)">h</text>
<text x="0" y="0" font-size="9.63" fill="#fff0f0" text-anchor="middle" transform="translate(600.3 266.8) scale(0.93 1)">Cu-Cu</text>
<g clip-path="url(#clipi)">
<rect x="494" y="333" width="162.3" height="68.5" fill="#0808ff"/>
<path d="M527.7,332L657.3,332 657.3,398.1 603.6,398.2 493,398 493,389.3 526,388.9 535.4,388.3 537,387.5 533.8,386.8 525.9,386.1 510.3,385.5 493,385.2 493,347.3 501.3,347.5 523.5,350.5 532.6,350.9 536.8,350.4 540.1,349.2 542.3,347.7 544.8,344.8 545.4,343.4 545.2,342 543.3,339.8 535.9,335.5 527.4,332ZM619,342L612.6,342.7 605.8,344.1 604.6,344.8 604.9,345.5 607,346.2 613.5,347.1 622.6,347.6 633.4,347.6 642.4,347.2 649.3,346.2 652.3,345 652.7,344.8 652.6,344.1 651.5,343.4 649.1,342.7 643.3,341.8 635.8,341.4 627.6,341.5 619.3,341.9ZM592.2,354.8L589.1,355.5 591.1,356.2 599.5,356.3 600.6,356.2 602.4,355.5 601.2,355.1 597.9,354.7 592.9,354.7Z" fill="#1a1aff"/>
<path d="M536.8,332L657.3,332 657.3,342.2 650.7,341 643.3,340.5 635,340.3 625.9,340.7 615.2,341.5 605.1,342.7 597.3,344.1 594.9,344.8 593.7,345.5 593.9,346.2 595.4,346.8 600.3,347.6 607.8,348.2 620.1,348.7 643.3,348.6 651.5,347.9 657.3,346.9 657.3,386.1 645.7,386.8 641.2,387.5 641.1,388.3 647,389 657.3,389.3 657.3,396.8 593.7,396.9 493,396.7 493,390.2 532.6,389.7 542.5,389.1 547.2,388.3 546.7,387.5 543.1,386.8 529.3,385.5 512.8,384.7 493,384.3 493,357.1 494.7,356.6 496.3,355.6 499,352.7 500.3,351.9 502.1,351.5 506.2,351.3 529.3,354 535.9,354.2 540.9,353.9 545,353.1 548,351.9 556.5,346.2 558.1,344.8 558.2,344.1 557.7,343.4 555.7,342 543.4,335.8 536.6,332ZM594.5,352.7L588.8,352.9 583,353.6 578.9,354.7 578.3,355.5 579.7,356.2 583.6,356.9 591.2,357.5 597.9,357.5 608.6,356.8 611.3,356.2 612.6,355.5 612.2,354.8 610.2,354.1 605.3,353.2 594.6,352.6Z" fill="#2b2bff"/>
<path d="M542.5,332L657.3,332 657.3,337.8 630.1,339.3 592.9,343 582.2,343.5 575.6,343.2 569.8,342.5 559.9,340.2 550,336.5 545.5,334.1 542.5,332ZM618.5,351.2L629.2,350.7 657.3,351.3 657.3,385.4 634.2,386.8 621.7,388.3 626.2,389 635.8,389.6 657.3,390.4 657.3,395.6 582.2,395.9 493,395.5 493,391 536.8,390.6 550.7,389.7 564.5,388.3 528.5,384.7 511.2,383.8 493,383.3 493,361.4 501.9,360.5 505.1,359.8 512,357.5 515.3,356.9 537.6,356.8 559.9,354.4 563.2,354.5 569.9,356.2 574.2,356.9 583,357.8 597,358.2 610.7,357.6 616.4,356.9 621.5,355.5 622.1,354.8 621.9,354.1 618.1,351.9 618.5,351.2Z" fill="#3c3cff"/>
<path d="M547.5,332L640.8,332 639.2,334.1 636.9,335.6 633.4,336.9 630,337.7 620.7,339.1 605.3,340.8 594.6,341.7 586.3,341.9 573.9,341.2 563.2,339.2 557.4,337.5 553.3,335.9 549.8,334.1 546.9,332ZM633.4,356.2L640.8,355.9 657.3,357.1 657.3,384.7 627.6,386.5 612.7,387 578.9,387.1 555.7,386.4 521.9,383.6 493,382.1 493,364 503.7,363.3 524.4,360 555.7,357 563.2,357.2 584.6,358.6 599.5,358.8 614.4,358.1 632.8,356.2ZM564.8,390.4L587.1,390 607.8,390.1 657.3,391.5 657.3,394.4 577.2,394.8 493,394.1 493,392.3 528.5,392 564.6,390.4Z" fill="#4c4cff"/>
<path d="M550.8,332L633.2,332 632.1,333.4 629.2,335.3 625.9,336.6 621.6,337.7 614.4,338.9 605.3,339.9 588.8,340.8 576.4,340.2 564.8,338.2 556.4,335.6 553.3,334 550.7,332ZM554.9,358.3L598.7,359.3 636.7,358 657.3,359.8 657.3,384 630.1,385.7 616,386.2 594.6,386.5 574.7,386.3 554.1,385.7 511.2,381.7 493,380.5 493,366 501.3,365.5 510.3,364.7 541.7,359.7 554.9,358.3ZM576.4,391.8L608.6,391.8 622.6,392.2 628.4,392.6 623.8,393.2 616.8,393.3 561.5,393.2 556.6,392.8 555.7,392.5 575.6,391.8Z" fill="#5e5eff"/>
<path d="M554.1,332L628,332 626.8,333.4 624.3,335 621,336.3 616,337.5 603.6,339.2 589.6,339.9 578,339.4 567.3,337.7 559.1,335.2 555.7,333.4 553.9,332ZM550.8,359.7L559.9,359.2 597.9,359.8 631.7,359.2 640,359.6 657.3,361.7 657.3,383.3 633.4,385 616,385.7 589.6,385.9 564.8,385.5 555.7,385.3 545.8,384.5 510.3,380 493,378.8 493,367.7 501.3,367.3 512,366.2 541.7,360.9 550.1,359.8Z" fill="#6e6eff"/>
<path d="M557.4,332L623.9,332 622.6,333.4 620,334.8 613,337 602,338.6 590.4,339.1 579.7,338.6 569.8,337.2 561.6,334.8 558.7,333.4 556.9,332ZM552.4,360.5L566.5,360 597.9,360.3 628.4,360.1 639.1,360.7 657.3,363.3 657.3,382.4 636.7,384.3 616.8,385.2 587.1,385.4 557.4,384.9 547.5,384.2 539.8,383.3 510.3,378.3 499.6,377.3 493,377 493,369.4 500.4,369.1 512,367.9 542.5,361.8 552.3,360.5Z" fill="#8080ff"/>
<path d="M559.9,332L620.4,332 618.9,333.4 616.8,334.5 610.2,336.5 601.2,337.8 590.4,338.3 580.5,337.9 571.4,336.7 564,334.5 561.6,333.4 559.7,332ZM554.1,361.1L573.1,360.6 626.8,360.8 638.3,361.7 657.3,364.8 657.3,381.4 640,383.4 625.9,384.4 607.8,384.9 578,384.9 555.7,384.3 540.9,382.8 531.8,381.1 510.3,376.4 498,374.5 493,374.2 493,372.2 499.6,371.7 510.3,370 541.7,362.9 553.5,361.2Z" fill="#9090ff"/>
<path d="M563.2,332L617.2,332 616,333 614.1,334.1 607.8,336 599.5,337.2 590.4,337.6 581.3,337.3 573.1,336.1 566,334.1 562.4,332ZM572.3,361.2L613.5,361.2 627.6,361.6 639.1,362.8 657.3,366.2 657.3,380.1 636,383.3 625.1,384 610.2,384.5 574.7,384.4 555.7,383.9 548.7,383.3 542.5,382.4 532.6,380.3 519.8,376.9 514.4,374.7 513.3,374 512.9,373.3 513.1,372.6 514,371.9 517.2,370.5 524.1,368.3 540.9,364 546.7,362.8 555.7,361.7 571.5,361.2Z" fill="#a2a2ff"/>
<path d="M565.7,332L614.1,332 612.7,333.1 610.6,334.1 605.4,335.6 597.9,336.6 589.6,336.9 581.3,336.5 574.4,335.6 569,334.1 565,332ZM568.1,361.9L608.6,361.8 625.9,362.2 638.3,363.6 655.6,367.5 657.3,367.7 657.3,378.7 638.3,382.4 629.6,383.3 620.1,383.8 587.1,384.2 555.7,383.4 547.3,382.6 541.7,381.6 531.8,379 523.3,376.2 520.5,374.7 519.7,374 519.4,373.3 519.6,372.6 520.2,371.9 522.8,370.5 531.1,367.6 541.7,364.7 547.5,363.5 555.7,362.5 567.9,361.9Z" fill="#b2b2ff"/>
<path d="M568.1,332L611.2,332 608.6,333.6 603.6,335 597,335.9 589.6,336.2 582.2,335.9 575.6,335 570.6,333.6 567.7,332ZM566.5,362.6L593.7,362.2 612.7,362.4 625.9,362.9 639.1,364.6 655.6,369.2 657.3,369.4 657.3,376.9 655.6,377.2 644.4,380.4 639.1,381.6 631.6,382.6 622.6,383.2 608.6,383.6 588.8,383.8 573.1,383.5 555.7,382.9 547.5,382 543.4,381.2 531.2,377.6 526.5,375.4 524.8,374 524.5,373.3 525.2,371.9 528.9,369.7 534.7,367.6 545.8,364.6 555.7,363.2 565.9,362.6Z" fill="#c3c3ff"/>
<path d="M570.6,332L608.2,332 605.6,333.4 601.2,334.6 595.4,335.3 589.6,335.6 583.8,335.3 578,334.6 573.3,333.4 570.4,332ZM564.8,363.3L588.8,362.7 618.5,363.1 625.9,363.6 633.4,364.5 639.1,365.5 644.2,366.9 650.4,369 654.8,371.2 656.3,372.6 656.5,373.3 655.4,374.7 653.1,376.2 649.8,377.6 640.8,380.4 632.6,381.8 623.4,382.7 597,383.3 569.8,383 556.6,382.4 551.3,381.8 545.8,381 540.1,379.5 532.8,376.9 529.3,374.7 528.5,373.3 528.6,372.6 529.9,371.2 534.3,368.9 545,365.5 555.7,363.9 564.3,363.3Z" fill="#d4d4ff"/>
<path d="M573.9,332L605.1,332 602,333.4 598.7,334.1 589.6,334.8 580.1,334.1 576.4,333.3 573.3,332ZM578.9,363.3L608.6,363.4 626.8,364.3 639.1,366.4 645,368.3 649.5,370.5 651.3,371.9 651.7,372.6 651.8,373.3 651.1,374.7 647.7,376.9 640.8,379.5 635.8,380.7 627.1,381.8 608.6,382.8 578,382.8 555.7,381.8 548.3,380.8 543.5,379.7 537.6,377.6 533.3,375.4 531.9,374 531.7,373.3 531.8,372.6 533,371.2 537,369 544.2,366.5 548.3,365.6 555.7,364.5 578.5,363.3Z" fill="#e6e6ff"/>
<path d="M577.2,332L601.6,332 597,333.4 589.6,334 581.4,333.4 576.6,332ZM573.9,364L596.2,363.8 620.1,364.4 626.8,365 633.4,366 638.3,367 642.4,368.4 646.2,370.5 648.2,372.6 648.3,373.3 647.6,374.7 644.1,377.2 639.5,379 633,380.4 625.1,381.5 615.2,382.1 587.9,382.4 562.4,381.6 555.7,381.1 548.3,380.1 543.8,379 540.1,377.6 536.2,375.4 534.8,374 534.6,373.3 534.7,372.6 535.9,371.2 541.2,368.3 546.7,366.6 554.9,365.3 573.7,364Z" fill="#f6f6ff"/>
<path d="M581.3,332L597.3,332 593.7,332.8 588.8,333.1 583.8,332.7 580.8,332ZM571.4,364.7L591.2,364.3 615.2,364.7 628.4,365.9 635,367.1 639.4,368.3 643.6,370.5 645.3,372.6 645.4,373.3 644.8,374.7 642.1,376.9 638.3,378.4 632.5,379.8 625.1,380.9 616.8,381.5 593.7,382 573.1,381.6 555.7,380.5 548.3,379.3 544.2,378.3 539.7,376.2 537.5,374 537.3,373.3 537.8,371.9 539.3,370.5 540.9,369.5 545.8,367.6 551.6,366.5 557.4,365.7 571,364.8Z" fill="#fff7f7"/>
<path d="M569,365.5L588.8,364.8 611.9,365.1 625.9,366.2 631.7,367.2 636.7,368.4 640,369.7 642.6,371.9 642.9,372.6 642.9,374 640.8,376.2 637.5,377.7 631.7,379.2 625.1,380.2 617.7,380.9 596.2,381.5 574.7,381.2 555.7,379.8 545.8,377.9 541.8,376.2 539.7,374 539.6,372.6 540,371.9 542.7,369.7 546.7,368.2 552.4,367 568.9,365.5Z" fill="#ffe5e5"/>
<path d="M582.2,365.5L606.9,365.5 621,366.3 630.9,367.8 635.5,369 638.7,370.5 640.3,371.9 640.7,372.6 640.6,374 639.4,375.4 638.3,376.2 635,377.5 630.1,378.8 624.3,379.7 607.8,380.8 587.1,381 568.1,380.3 553.3,378.7 547.5,377.5 544.1,376.2 542.2,374.7 541.7,373.9 541.7,372.6 542.5,371.3 543.7,370.5 547.5,368.9 553.5,367.6 558.9,366.9 571.4,365.9 581.5,365.5Z" fill="#ffd5d5"/>
<path d="M577.2,366.2L593.7,365.9 613.5,366.4 625.9,367.6 630.1,368.4 634.4,369.7 637.2,371.2 638.4,372.6 638.3,373.9 637.8,374.7 635.6,376.2 631.6,377.6 625.9,378.8 610.2,380.2 589.6,380.5 572.3,380 555.7,378.4 550.8,377.4 546.7,376.2 544.4,374.7 543.8,374 543.7,372.6 544.9,371.2 547.8,369.7 557.4,367.8 576.6,366.2Z" fill="#ffc3c3"/>
<path d="M574.7,366.9L591.2,366.4 611.1,366.8 623.4,367.9 631.4,369.7 634.4,371.2 635.8,372.6 635.7,374 633.4,375.8 630.1,377.1 625.1,378.2 611.9,379.5 592.1,379.9 575.6,379.6 559.1,378.1 554.9,377.4 549.7,376.2 546.8,374.7 545.9,373.3 546.5,371.9 549.1,370.5 554.1,369.1 558.2,368.4 574.1,366.9Z" fill="#ffb3b3"/>
<path d="M573.1,367.6L589.6,367 607.8,367.3 620.1,368.2 627.6,369.6 630.2,370.5 632.5,371.9 633.2,373.3 632.9,374 631.7,375.1 629.2,376.3 625.1,377.4 613.5,378.8 594.6,379.4 577.2,379.1 561.5,377.6 553.6,376.2 550.8,375.1 549.1,374 548.8,373.3 549,372.6 550.9,371.2 554.9,369.9 559.1,369.1 572.6,367.6Z" fill="#ffa2a2"/>
<path d="M587.9,367.6L604.5,367.8 615.2,368.4 624.5,369.7 627,370.5 629.7,371.9 630.4,373.3 629.4,374.7 626.8,376 623.5,376.9 611.9,378.3 597.9,378.7 582.2,378.6 569.8,377.8 558.3,376.2 555.6,375.4 552.8,374 552.4,373.3 552.6,372.6 553.4,371.9 556.6,370.7 560.7,369.8 573.1,368.2 587.1,367.6Z" fill="#ff9191"/>
<path d="M584.6,368.3L596.2,368.2 610.2,368.7 619.5,369.7 625.3,371.2 626.8,372 627.5,373.3 627.1,374 626.2,374.7 624.3,375.6 615.2,377.2 603.6,378 589.6,378.2 575.6,377.7 563.8,376.2 558.3,374.7 557.1,374 556.6,373.3 556.8,372.6 557.9,371.9 560.7,370.9 572,369 583.8,368.3Z" fill="#ff8080"/>
<path d="M583.8,369L595.4,368.9 609.4,369.4 618,370.5 622.6,371.8 623.8,372.6 624,373.3 623.5,374 620.1,375.4 612.7,376.7 604.5,377.2 590.4,377.5 578,377.1 569.5,376.2 563.6,374.7 562.1,374 561.5,373.3 561.8,372.6 565.1,371.2 572.9,369.7 583.1,369Z" fill="#ff6e6e"/>
<path d="M584.6,369.7L595.4,369.6 607.8,370.1 613.5,370.8 617.9,371.9 619.1,372.6 619.4,373.3 618.8,374 617.2,374.7 611.1,376 602.8,376.5 591.2,376.8 582.2,376.5 574.7,375.9 569,374.7 567.4,374 566.8,373.3 567.1,372.6 568.4,371.9 574.7,370.5 584.5,369.7Z" fill="#ff5e5e"/>
<path d="M578.9,371.1L592.1,370.5 608.6,371.3 611.9,371.9 613.5,372.6 613.9,373.3 613,374 611.1,374.6 606.9,375.2 590.4,375.9 577.2,375 573.2,374 572.4,373.3 572.8,372.6 574.5,371.9 578.5,371.2Z" fill="#ff4c4c"/>
<path d="M587.9,371.9L596.1,371.9 602.3,372.6 603.4,373.3 602.8,373.5 601,374 596.2,374.4 589.6,374.6 583.8,374 581.9,373.3 582.8,372.6 587.8,371.9Z" fill="#ff3c3c"/>
</g>
<rect x="494" y="333" width="162.3" height="68.5" fill="none" stroke="#444" stroke-width="0.6"/>
<line x1="494" y1="401.5" x2="495.8" y2="401.5" stroke="#222" stroke-width="0.7"/>
<text x="0" y="0" font-size="8.56" fill="#000" text-anchor="end" transform="translate(491.8 404.4) scale(0.93 1)">1</text>
<line x1="494" y1="378.67" x2="495.8" y2="378.67" stroke="#222" stroke-width="0.7"/>
<text x="0" y="0" font-size="8.56" fill="#000" text-anchor="end" transform="translate(491.8 381.57) scale(0.93 1)">2</text>
<line x1="494" y1="355.83" x2="495.8" y2="355.83" stroke="#222" stroke-width="0.7"/>
<text x="0" y="0" font-size="8.56" fill="#000" text-anchor="end" transform="translate(491.8 358.73) scale(0.93 1)">3</text>
<line x1="494" y1="333" x2="495.8" y2="333" stroke="#222" stroke-width="0.7"/>
<text x="0" y="0" font-size="8.56" fill="#000" text-anchor="end" transform="translate(491.8 335.9) scale(0.93 1)">4</text>
<line x1="494" y1="401.5" x2="494" y2="399.7" stroke="#222" stroke-width="0.7"/>
<text x="0" y="0" font-size="8.56" fill="#000" text-anchor="middle" transform="translate(494 410.3) scale(0.93 1)">0</text>
<line x1="509.46" y1="401.5" x2="509.46" y2="400.4" stroke="#222" stroke-width="0.7"/>
<line x1="524.91" y1="401.5" x2="524.91" y2="399.7" stroke="#222" stroke-width="0.7"/>
<text x="0" y="0" font-size="8.56" fill="#000" text-anchor="middle" transform="translate(524.91 410.3) scale(0.93 1)">2</text>
<line x1="540.37" y1="401.5" x2="540.37" y2="400.4" stroke="#222" stroke-width="0.7"/>
<line x1="555.83" y1="401.5" x2="555.83" y2="399.7" stroke="#222" stroke-width="0.7"/>
<text x="0" y="0" font-size="8.56" fill="#000" text-anchor="middle" transform="translate(555.83 410.3) scale(0.93 1)">4</text>
<line x1="571.29" y1="401.5" x2="571.29" y2="400.4" stroke="#222" stroke-width="0.7"/>
<line x1="586.74" y1="401.5" x2="586.74" y2="399.7" stroke="#222" stroke-width="0.7"/>
<text x="0" y="0" font-size="8.56" fill="#000" text-anchor="middle" transform="translate(586.74 410.3) scale(0.93 1)">6</text>
<line x1="602.2" y1="401.5" x2="602.2" y2="400.4" stroke="#222" stroke-width="0.7"/>
<line x1="617.66" y1="401.5" x2="617.66" y2="399.7" stroke="#222" stroke-width="0.7"/>
<text x="0" y="0" font-size="8.56" fill="#000" text-anchor="middle" transform="translate(617.66 410.3) scale(0.93 1)">8</text>
<line x1="633.11" y1="401.5" x2="633.11" y2="400.4" stroke="#222" stroke-width="0.7"/>
<line x1="648.57" y1="401.5" x2="648.57" y2="399.7" stroke="#222" stroke-width="0.7"/>
<text x="0" y="0" font-size="8.56" fill="#000" text-anchor="middle" transform="translate(648.57 410.3) scale(0.93 1)">10</text>
<text x="0" y="0" font-size="9.84" fill="#fff" transform="translate(498.6 342.6) scale(0.93 1)">CuRu/CS</text>
<rect x="661.1" y="333.5" width="5.9" height="67.5" fill="url(#cbi)"/>
<text x="0" y="0" font-size="6.74" fill="#000" transform="translate(669.2 337.5) scale(0.93 1)">0.46</text>
<text x="0" y="0" font-size="6.74" fill="#000" transform="translate(669.2 346.83) scale(0.93 1)">0.39</text>
<text x="0" y="0" font-size="6.74" fill="#000" transform="translate(669.2 356.16) scale(0.93 1)">0.33</text>
<text x="0" y="0" font-size="6.74" fill="#000" transform="translate(669.2 365.49) scale(0.93 1)">0.26</text>
<text x="0" y="0" font-size="6.74" fill="#000" transform="translate(669.2 374.81) scale(0.93 1)">0.20</text>
<text x="0" y="0" font-size="6.74" fill="#000" transform="translate(669.2 384.14) scale(0.93 1)">0.13</text>
<text x="0" y="0" font-size="6.74" fill="#000" transform="translate(669.2 393.47) scale(0.93 1)">0.07</text>
<text x="0" y="0" font-size="6.74" fill="#000" transform="translate(669.2 402.8) scale(0.93 1)">0.00</text>
<text x="0" y="0" font-size="9.52" text-anchor="middle" transform="translate(581.5 421.3) scale(0.93 1)"><tspan font-style="italic">k</tspan> (Å<tspan font-size="5.89" dy="-3">-1</tspan><tspan dy="3">)</tspan></text>
<text x="0" y="0" font-size="9.1" text-anchor="middle" transform="translate(482.6 366.25) rotate(-90) scale(0.93 1)">R+α (Å)</text>
<text x="0" y="0" font-size="18.73" fill="#000" stroke="#000" stroke-width="0.2" transform="translate(473.5 335.6) scale(0.93 1)">i</text>
<text x="0" y="0" font-size="9.63" fill="#ffffff" text-anchor="middle" transform="translate(593 376.4) scale(0.93 1)">Cu-Cu</text>
<g clip-path="url(#clipj)">
<rect x="494" y="446.1" width="162.3" height="69.4" fill="#0808ff"/>
<path d="M493.8,445.1L657.3,445.1 657.3,516.5 495.9,516.5 508.4,515.8 493,515.4 493,495.6 508,494.9 515.3,494.1 515.6,493.4 505.6,492.7 493,492.4 493,461.4 504.6,463.1 523.5,464.7 539.5,466.7 547.5,467.3 559.9,467.3 571.5,466.7 577.1,466 579.3,465.3 579.9,464.6 579.5,463.9 577.5,462.4 568.5,458.8 567.3,457.4 566.7,454.5 564.3,452.3 560.7,450.7 555.7,449.3 549.1,448.1 541.7,447.3 524.4,446.6 507,447.4 499.6,448.2 493,449.3 493,445.1Z" fill="#1a1aff"/>
<path d="M564,445.1L657.3,445.1 657.3,515.4 644,515.8 646.2,516.5 531.6,516.5 530.9,515.8 493,514.8 493,496.3 520.8,494.9 528,494.1 529.5,493.4 524.7,492.7 518.6,492.3 493,491.6 493,466.8 507.9,467.8 543.4,468.5 583,467.6 605.3,468.9 614.4,468.5 616.6,468.2 618.3,467.5 617.3,466.7 613.4,466 595.4,464.8 592.1,464.4 589.6,463.6 587.2,462.4 584.3,460.2 580.3,454.5 575.6,450.1 570.6,447.3 563.7,445.1Z" fill="#2b2bff"/>
<path d="M581.3,445.1L657.3,445.1 657.3,514.8 600.5,515.8 585.7,516.5 553,516.5 548.8,515.8 493,514.3 493,496.9 531,494.9 537.1,494.1 538.5,493.4 536,492.7 526.9,491.9 493,490.8 493,472.1 517.8,471.5 555.7,469.2 569,468.8 579.7,468.8 602,469.8 612.7,469.7 623,468.9 627,468.2 628.9,467.5 629,466.7 627.4,466 625.1,465.5 605.5,463.1 601.7,462.4 598.7,461.3 592.9,457.5 587.4,453 584,449.4 580.8,445.1Z" fill="#3c3cff"/>
<path d="M589.6,445.1L657.3,445.1 657.3,462 649,463.5 642.4,463.8 631.7,463.4 619.3,462.3 611.9,461.1 605.3,459.2 597.9,455.9 592.6,452.3 590.6,450.1 589.7,448.7 589,446.5 589,445.1ZM648.2,467.4L657.3,467.5 657.3,493.8 655.5,494.1 656.5,494.8 657.3,494.8 657.3,514.4 596.2,515.3 556.6,515.5 493,513.9 493,497.5 537.6,495 543.8,494.1 544.7,493.4 542.8,492.7 539.2,492.1 531,491.3 493,490 493,475.9 526,473.9 551.6,470.7 559.9,470 575.6,469.6 600.3,470.5 613.5,470.4 627.4,469.6 647.5,467.5Z" fill="#4c4cff"/>
<path d="M594.6,445.3L657.3,445.1 657.3,458.4 647.4,460.1 635.8,460.9 625.1,460.5 614.4,459.1 605.3,456.6 602,455.2 598.7,453.3 596.4,451.6 594.7,449.4 594.1,447.3 594.3,445.8ZM632.5,470.3L645.7,470 657.3,470.7 657.3,492.6 651.8,493.4 649.9,494.1 650.7,494.9 657.3,496 657.3,514 619.3,514.7 555.7,515 493,513.5 493,498.1 539.2,495.4 546.7,494.6 548.7,494.1 549.4,493.4 547.8,492.7 544.5,492 533.5,490.6 514.5,489.5 493,488.7 493,478.7 507,477.9 528.5,476 535.9,475 555.7,471.3 561.5,470.8 575.6,470.5 609.4,471.1 632.5,470.3Z" fill="#5e5eff"/>
<path d="M598.7,445.7L599.1,445.1 657.3,445.1 657.3,456.2 647.4,458.2 637.5,459.1 626.8,459 616.8,457.8 608.6,455.8 605.2,454.5 602,452.8 599.6,450.9 598.6,449.4 598.1,447.3 598.6,445.8ZM561.5,471.8L574.7,471.3 606.9,471.7 639.1,471.3 648.2,471.6 657.3,472.6 657.3,491.9 646,493.4 643.7,494.1 644.5,494.9 648,495.6 657.3,496.8 657.3,513.7 616.8,514.4 555.7,514.7 493,513.1 493,498.7 543.7,495.6 550,494.9 553,494.1 553.4,493.4 551.8,492.7 546.7,491.6 533.5,489.6 499.6,486.7 493,486.3 493,481.8 506.2,480.9 530.2,478.1 536.8,476.9 555.6,472.5 561.2,471.8Z" fill="#6e6eff"/>
<path d="M602.8,445.3L657.3,445.1 657.3,454.2 649.9,456.3 640,457.7 629.2,457.8 619.3,456.9 611.1,455 607.7,453.8 605,452.3 603.1,450.9 602,449.4 601.7,447.3 602.3,445.8ZM564.8,472.4L577.2,472 633.4,472.1 645.7,472.7 657.3,474.3 657.3,491.2 639.5,493.4 636.5,494.1 637.4,494.9 641.5,495.6 657.3,497.6 657.3,513.2 625.1,514 555.7,514.4 516.9,513.5 493,512.3 493,499.3 511.2,497.9 545.8,495.9 554.1,494.9 557.2,494.1 557.4,493.4 552.6,492 524.7,486.2 520.9,484.8 520.4,484 521.1,483.3 522.9,482.6 535.1,479.5 550.8,474.9 557.4,473.3 564,472.5Z" fill="#8080ff"/>
<path d="M606.1,445.5L606.5,445.1 657.3,445.1 657.3,452.2 651.5,454.5 642.4,456.3 632.5,456.8 622.6,456.2 613.8,454.5 610.2,453.2 607.8,451.9 605.7,450.1 604.9,448.7 604.9,447.3 605.7,445.8ZM566.5,473.2L580.5,472.7 630.1,472.8 644.9,473.7 657.3,475.8 657.3,490.6 632.2,493.4 628.4,494.1 629.1,494.9 657.3,498.5 657.3,512.6 630.1,513.6 555.7,514.1 511.4,512.9 500.9,512.2 493,510.9 493,499.9 512,498.3 545.9,496.3 559.7,494.9 563.6,494.1 562.9,493.4 549.3,490.5 541.1,488.4 536.3,486.2 534.9,484.8 534.7,484 535.7,482.6 537.9,481.2 548.9,476.8 557.4,474.4 566.4,473.2Z" fill="#9090ff"/>
<path d="M609.4,445.5L609.9,445.1 654.4,445.1 656.1,446.5 656.9,448 656.7,449.4 655.5,450.9 653.2,452.3 650.7,453.3 643.3,455 634.2,455.8 624.3,455.4 616,453.8 610.5,451.6 608.7,450.1 607.9,448.7 608,447.3 609,445.8ZM568.1,473.9L587.9,473.3 629.2,473.5 644.9,474.8 657.3,477.3 657.3,489.8 641.6,491.8 626.8,493.1 609.9,494.1 612.7,494.9 627.6,495.8 642.4,497.2 650.7,498.4 657.3,499.7 657.3,510.1 656.5,510.1 654.8,511.5 652.3,512.2 649,512.5 640,513 620.1,513.4 555.7,513.9 529.3,513.2 512,512.4 503.1,511.5 493,509.6 493,500.5 510.3,498.8 546.7,496.6 576,494.1 572.4,493.4 559.1,491.8 549.9,489.8 545.7,488.4 542.9,486.9 541.9,486.2 540.8,484.8 540.9,483.3 542.2,481.9 545.8,479.7 550,477.9 559.1,475.1 568.1,473.9Z" fill="#a2a2ff"/>
<path d="M612.7,445.5L613.3,445.1 650.8,445.1 652.8,446.5 653.7,448 653.4,449.4 652.1,450.9 647.4,453 640.8,454.3 632.5,454.9 624.3,454.4 617.6,453 612.6,450.9 611.2,449.4 610.8,448 611.5,446.5 612.2,445.8ZM588.8,473.9L622.6,474 631.7,474.4 645.7,476 650.7,477 656.5,478.9 657.3,478.9 657.3,488.8 648,490.5 630.9,492.2 599.5,493.2 578,492.8 561.5,491.6 555.8,490.5 550.9,489.1 547.8,487.7 545.5,485.5 545.1,484 545.3,483.3 547.1,481.2 550.8,479 558.2,476.3 563.2,475.3 570.6,474.6 588.7,473.9ZM571.4,495.6L594.6,495.3 624.3,496.4 640.8,497.8 647.4,498.7 652.7,499.9 656.5,501.3 657.3,501.3 657.3,507.7 655.6,508 647.9,511.5 643.6,512.2 634.2,512.7 572.3,513.6 555.7,513.6 540.1,513.2 514.5,512 493,508.8 493,501.1 514.5,498.9 559.9,496 571,495.6Z" fill="#b2b2ff"/>
<path d="M616,445.6L617,445.1 647,445.1 649.5,446.5 650.5,448 650.2,449.4 648.6,450.9 644.1,452.6 638.3,453.6 630.9,453.9 624.3,453.4 618.5,452 614.9,450.1 614.2,449.4 613.8,448 614.4,446.9 615.6,445.8ZM585.5,474.7L618.7,474.7 631.7,475.2 641.6,476.3 647.4,477.4 651.5,478.5 656.5,480.9 657.3,480.9 657.3,487.2 656.5,487.2 652.3,488.9 648.3,489.8 641.6,490.7 630.1,491.7 621,492.1 595.4,492.5 574.7,492 560.7,490.8 556.1,489.8 552.3,488.4 549.2,486.2 548.4,484.8 548.4,483.3 550.2,481.2 555.6,478.3 560.7,476.7 565.7,475.9 574.7,475.1 585.4,474.7ZM565.7,496.3L592.9,496.1 621,496.9 638.3,498.2 648.2,499.9 653.2,501.6 655.3,502.8 656.5,504.2 657.3,504.2 657.3,504.7 656.5,504.7 655.9,505.7 654.8,506.5 650.7,508.3 640.4,511.5 633.1,512.2 626.8,512.4 570.6,513.3 555.7,513.3 539.6,512.9 516.4,511.5 493,508.1 493,501.7 514.5,499.4 565.3,496.3Z" fill="#c3c3ff"/>
<path d="M620.1,445.5L621.2,445.1 642.6,445.1 645.9,446.5 647.1,448 646.8,449.4 644.1,451.1 639.7,452.3 634.2,452.9 628.4,452.8 623.4,452.1 619.6,450.9 617.4,449.4 617,448 617.3,447.3 619.3,445.8ZM584.6,475.4L604.5,475.2 627.6,475.6 642.4,477.4 646.6,478.3 650.9,479.7 653.5,481.2 655.3,483.3 655.3,484.8 655,485.5 653.5,486.9 652.3,487.7 647.7,489.1 643.3,489.9 632.5,491 623.4,491.6 596.2,492 577.2,491.6 563.2,490.5 556.6,489 552.8,486.9 551.5,485.5 551.1,484 551.6,482.7 552.3,481.9 555.7,479.5 559.9,477.9 564.9,476.8 573.9,475.9 584.1,475.4ZM558.2,497L587.1,496.6 614.4,497.3 633.6,498.5 640,499.3 645.7,500.5 650.5,502.1 652.6,503.5 652.9,504.2 652.9,505 652.4,505.7 649.9,507.1 644.1,508.9 635.8,510.7 630.3,511.5 618.5,512.2 572.3,513 555.7,513 544.2,512.6 533,512.2 521.1,511.2 507.9,509.7 493,507.4 493,502.3 502.9,500.9 513.6,499.8 558.2,497Z" fill="#d4d4ff"/>
<path d="M624.3,445.8L628,445.1 635.8,445.1 640,445.9 642.8,447.3 643.4,448 643.4,448.7 641.8,450.1 639.9,450.9 636.1,451.6 631.7,451.8 628.1,451.6 624.3,450.9 621.2,449.4 620.7,448.7 620.6,448 621.1,447.3 622.2,446.5 624.1,445.8ZM583.8,476.1L600.3,475.8 625.1,476.2 637.2,477.6 642.4,478.5 647,479.7 650.2,481.2 651.5,482.2 652.3,483.3 652.4,484.8 652,485.5 649.9,487.1 646.6,488.4 641.6,489.4 632,490.5 624.3,491.1 597,491.5 578.9,491.1 566.5,490.3 562.4,489.7 559.1,488.9 555.4,486.9 553.9,484.8 554,483.3 554.9,481.9 558,479.7 562.1,478.3 567.3,477.4 574.7,476.6 583.5,476.1ZM554.1,497.7L573.9,497.1 600.3,497.4 625.2,498.5 640,500.2 645.7,501.8 649,503.5 649.4,504.2 649.4,505 647.7,506.4 643.6,507.8 638.3,509 621,511.2 594.6,512.3 568.1,512.7 552.4,512.5 535.1,511.7 520.2,510.4 504.6,508.6 493,506.6 493,503.1 500.4,501.7 516.1,500.1 553.3,497.7Z" fill="#e6e6ff"/>
<path d="M630.1,446.5L635,446.6 637.3,447.3 638.3,448 638.4,448.7 637.4,449.4 634.2,450.2 629.4,450.1 626.8,449.5 625.9,449 625.6,448.7 625.6,448 626.5,447.3 629.4,446.5ZM583.8,476.8L600.3,476.5 624.3,476.9 635,478.1 644.1,480.1 647.8,481.9 649.1,483.3 649.2,484.8 648.7,485.5 646.7,486.9 642.4,488.4 638.5,489.1 624.3,490.6 597,491 578.9,490.6 568.2,489.8 563.3,489.1 560.6,488.4 557.9,486.9 556.3,484.8 556.4,483.3 556.7,482.6 559.3,480.4 563.2,479 568.1,478.1 574.7,477.3 583.3,476.8ZM562.4,497.7L592.1,497.7 620.1,498.9 629.2,499.6 636.7,500.6 640.8,501.5 644.2,502.8 645.8,504.2 645.8,505 645.1,505.7 641.9,507.1 637.5,508.2 627.6,509.5 616.8,510.5 592.1,511.8 555.7,512.2 538.4,511.4 506.2,508.3 498.8,507.1 496,506.4 493.8,505.3 493,505.3 493,504.4 493.8,504.4 495.5,503.5 497.9,502.8 508.7,501.2 526.9,499.7 561.6,497.7Z" fill="#f6f6ff"/>
<path d="M583.8,477.5L599.5,477.2 623.4,477.6 631.7,478.5 640.7,480.4 644.2,481.9 645.7,483.3 645.8,484.8 644.3,486.2 641.6,487.4 637.7,488.4 631.7,489.3 624.3,490 602,490.5 586.3,490.3 573.1,489.6 568.3,489.1 563.2,488.1 560.5,486.9 559.6,486.2 558.6,484.8 558.7,483.3 559.1,482.6 560.8,481.2 564,479.9 569,478.9 575.6,478 583.5,477.6ZM554.9,498.4L573.9,498 599.3,498.5 622.6,499.8 635.3,501.4 639.1,502.3 641.6,503.5 642.2,504.2 642.1,505 641.4,505.7 639.9,506.4 637.5,507.1 631.7,508.1 614.4,509.8 587.9,511.3 555.7,511.7 525.2,509.7 512,508.5 502.3,507.1 498.8,506.3 497.2,505.7 496.5,505 496.9,504.2 498.4,503.5 503.7,502.4 519.7,500.6 554.7,498.5Z" fill="#fff7f7"/>
<path d="M584.6,478.3L599.5,477.9 622.6,478.4 629.3,479 636.2,480.4 640,481.8 641.4,482.6 642.3,484 641.4,485.5 638.5,486.9 634.2,488.1 628.4,489 623.4,489.4 604.5,489.9 588.7,489.8 574.6,489.1 566,487.7 562.4,486.2 561.2,484.8 561.2,483.3 562.7,481.9 566.5,480.5 570.6,479.6 576.4,478.8 584.2,478.3ZM550.8,499.2L569.8,498.5 595.4,498.9 619.3,500.3 626.8,501 633.1,502.1 636.7,503.2 638.2,504.2 638.2,505 637.2,505.7 635.1,506.4 624.3,508.1 602.8,509.8 575.6,511 555.7,511.1 522.7,509 512,508 504.6,506.9 500.2,505.7 499.4,505 499.8,504.2 500.4,504 504.7,502.8 516.9,501.3 550.3,499.2Z" fill="#ffe5e5"/>
<path d="M586.3,479L597.9,478.6 616,478.9 625.1,479.4 631.7,480.5 634.2,481.2 637.2,482.6 637.9,483.3 638.2,484 637.5,485.3 635.8,486.3 631.6,487.7 623.4,488.7 606.9,489.3 591.2,489.3 577.2,488.5 569.8,487.4 566.4,486.2 564.5,484.8 564.3,484 564.6,483.3 566.5,482 569,481.1 573.9,480 585.6,479ZM558.2,499.2L578,499 603.9,499.9 622.6,501.5 628.4,502.4 632.3,503.5 633.3,504.2 633.2,505 631.9,505.7 629.4,506.4 623.4,507.3 602,509.1 575.6,510.3 555.7,510.5 535.1,509.4 513.6,507.7 507,506.6 503.5,505.7 502.6,505 503.1,504.2 505,503.5 513.6,502.1 531.6,500.6 557.8,499.2Z" fill="#ffd5d5"/>
<path d="M588.8,479.7L598.7,479.4 613.9,479.7 624.3,480.3 629.4,481.2 631.7,481.9 633.9,483.3 634.2,484 633.4,485.3 631.8,486.2 629.2,487 621.8,488 607.8,488.5 593.7,488.6 579.7,487.8 573.4,486.9 571,486.2 568.7,484.8 568.4,484 568.8,483.3 569.7,482.6 572.3,481.6 576.4,480.8 588,479.7ZM553.3,499.9L569.8,499.5 592.9,500 613.3,501.4 623.9,502.8 626.4,503.5 627.6,504.2 627.5,505 624.3,506.1 616,507.3 597.9,508.7 573.1,509.8 555.7,509.9 529.3,508.5 516.1,507.4 509.5,506.4 507,505.7 506,505 506.5,504.2 508.6,503.5 512.4,502.8 527.4,501.4 552.8,499.9Z" fill="#ffc3c3"/>
<path d="M592.9,480.4L605.3,480.4 618.5,481 624.3,481.5 628.4,482.6 629.5,483.3 629.9,484 629.6,484.8 628.5,485.5 626.5,486.2 621.9,486.9 610.2,487.6 597.9,487.8 590.4,487.6 580.5,486.7 577.2,486.2 574.8,485.5 573.6,484.8 573.3,484 573.8,483.3 575.6,482.5 583.1,481.2 592.5,480.4ZM549.1,500.6L566.5,500 587.9,500.4 604.2,501.4 616.5,502.8 619.6,503.5 621.1,504.2 620.9,505 619.1,505.7 609.6,507.1 592.1,508.4 571.4,509.2 555.7,509.3 531.8,508.2 513.6,506.4 510.7,505.7 509.6,505 510.2,504.2 513.6,503.3 526.9,501.9 548.3,500.6Z" fill="#ffb3b3"/>
<path d="M589.6,481.9L596.2,481.5 603.6,481.6 611.4,481.9 619,482.6 622.7,483.3 623.6,484 622.9,484.8 619.5,485.5 613.5,486.1 596.2,486.7 588.8,486.2 584.6,485.6 581.7,484.8 581,484 581.9,483.3 584.4,482.6 589.3,481.9ZM558.2,500.6L573.9,500.6 594.2,501.4 608.6,502.8 612.2,503.5 613.9,504.2 613.7,505 611.7,505.7 601.3,507.1 590.4,507.9 571.4,508.7 555.7,508.7 533.9,507.8 518.8,506.4 515,505.7 513.7,505 514.4,504.2 516.1,503.8 522.8,502.8 535.1,501.8 558,500.6Z" fill="#ffa2a2"/>
<path d="M597,484L599.5,484.1 596.4,484ZM554.1,501.3L565.7,501.1 578,501.3 593.4,502.1 602,503.1 604.4,503.5 606.3,504.2 606.2,505 604,505.7 598.7,506.5 587.9,507.4 570.6,508.1 555.7,508.2 534.3,507.3 522.7,506.1 520.5,505.7 518.8,505 519.7,504.2 523,503.5 534.3,502.4 553.7,501.4Z" fill="#ff9191"/>
<path d="M551.6,502.1L563.2,501.7 573.9,501.8 589.6,502.7 596.1,503.5 598.4,504.2 598.4,505 595.9,505.7 590.3,506.4 577.2,507.3 566.5,507.6 554.9,507.5 536.8,506.8 526.6,505.7 524.8,505 525.7,504.2 529.4,503.5 537,502.8 551.2,502.1Z" fill="#ff8080"/>
<path d="M551.6,502.8L569,502.4 578.1,502.8 585.5,503.5 589.1,504.2 589.1,505 585.5,505.7 573.1,506.7 555.7,506.9 543.3,506.4 534.2,505.7 531.7,505 532.9,504.2 538.3,503.5 550.9,502.8Z" fill="#ff6e6e"/>
<path d="M555.7,503.5L567.3,503.3 575.6,504 577.1,504.2 577.3,505 570.6,505.8 555.7,505.9 545.2,505 547.3,504.2 555.4,503.5Z" fill="#ff5e5e"/>
</g>
<rect x="494" y="446.1" width="162.3" height="69.4" fill="none" stroke="#444" stroke-width="0.6"/>
<line x1="494" y1="515.5" x2="495.8" y2="515.5" stroke="#222" stroke-width="0.7"/>
<text x="0" y="0" font-size="8.56" fill="#000" text-anchor="end" transform="translate(491.8 518.4) scale(0.93 1)">1</text>
<line x1="494" y1="492.37" x2="495.8" y2="492.37" stroke="#222" stroke-width="0.7"/>
<text x="0" y="0" font-size="8.56" fill="#000" text-anchor="end" transform="translate(491.8 495.27) scale(0.93 1)">2</text>
<line x1="494" y1="469.23" x2="495.8" y2="469.23" stroke="#222" stroke-width="0.7"/>
<text x="0" y="0" font-size="8.56" fill="#000" text-anchor="end" transform="translate(491.8 472.13) scale(0.93 1)">3</text>
<line x1="494" y1="446.1" x2="495.8" y2="446.1" stroke="#222" stroke-width="0.7"/>
<text x="0" y="0" font-size="8.56" fill="#000" text-anchor="end" transform="translate(491.8 449) scale(0.93 1)">4</text>
<line x1="494" y1="515.5" x2="494" y2="513.7" stroke="#222" stroke-width="0.7"/>
<text x="0" y="0" font-size="8.56" fill="#000" text-anchor="middle" transform="translate(494 524.3) scale(0.93 1)">0</text>
<line x1="509.46" y1="515.5" x2="509.46" y2="514.4" stroke="#222" stroke-width="0.7"/>
<line x1="524.91" y1="515.5" x2="524.91" y2="513.7" stroke="#222" stroke-width="0.7"/>
<text x="0" y="0" font-size="8.56" fill="#000" text-anchor="middle" transform="translate(524.91 524.3) scale(0.93 1)">2</text>
<line x1="540.37" y1="515.5" x2="540.37" y2="514.4" stroke="#222" stroke-width="0.7"/>
<line x1="555.83" y1="515.5" x2="555.83" y2="513.7" stroke="#222" stroke-width="0.7"/>
<text x="0" y="0" font-size="8.56" fill="#000" text-anchor="middle" transform="translate(555.83 524.3) scale(0.93 1)">4</text>
<line x1="571.29" y1="515.5" x2="571.29" y2="514.4" stroke="#222" stroke-width="0.7"/>
<line x1="586.74" y1="515.5" x2="586.74" y2="513.7" stroke="#222" stroke-width="0.7"/>
<text x="0" y="0" font-size="8.56" fill="#000" text-anchor="middle" transform="translate(586.74 524.3) scale(0.93 1)">6</text>
<line x1="602.2" y1="515.5" x2="602.2" y2="514.4" stroke="#222" stroke-width="0.7"/>
<line x1="617.66" y1="515.5" x2="617.66" y2="513.7" stroke="#222" stroke-width="0.7"/>
<text x="0" y="0" font-size="8.56" fill="#000" text-anchor="middle" transform="translate(617.66 524.3) scale(0.93 1)">8</text>
<line x1="633.11" y1="515.5" x2="633.11" y2="514.4" stroke="#222" stroke-width="0.7"/>
<line x1="648.57" y1="515.5" x2="648.57" y2="513.7" stroke="#222" stroke-width="0.7"/>
<text x="0" y="0" font-size="8.56" fill="#000" text-anchor="middle" transform="translate(648.57 524.3) scale(0.93 1)">10</text>
<text x="0" y="0" font-size="9.84" fill="#fff" transform="translate(498.6 455.7) scale(0.93 1)">CuRu/MCHS</text>
<rect x="661.1" y="446.6" width="5.9" height="68.4" fill="url(#cbj)"/>
<text x="0" y="0" font-size="6.74" fill="#000" transform="translate(669.2 450.6) scale(0.93 1)">0.14</text>
<text x="0" y="0" font-size="6.74" fill="#000" transform="translate(669.2 460.06) scale(0.93 1)">0.12</text>
<text x="0" y="0" font-size="6.74" fill="#000" transform="translate(669.2 469.51) scale(0.93 1)">0.10</text>
<text x="0" y="0" font-size="6.74" fill="#000" transform="translate(669.2 478.97) scale(0.93 1)">0.08</text>
<text x="0" y="0" font-size="6.74" fill="#000" transform="translate(669.2 488.43) scale(0.93 1)">0.06</text>
<text x="0" y="0" font-size="6.74" fill="#000" transform="translate(669.2 497.89) scale(0.93 1)">0.04</text>
<text x="0" y="0" font-size="6.74" fill="#000" transform="translate(669.2 507.34) scale(0.93 1)">0.02</text>
<text x="0" y="0" font-size="6.74" fill="#000" transform="translate(669.2 516.8) scale(0.93 1)">0.00</text>
<text x="0" y="0" font-size="9.52" text-anchor="middle" transform="translate(581.5 535.3) scale(0.93 1)"><tspan font-style="italic">k</tspan> (Å<tspan font-size="5.89" dy="-3">-1</tspan><tspan dy="3">)</tspan></text>
<text x="0" y="0" font-size="9.1" text-anchor="middle" transform="translate(482.6 479.8) rotate(-90) scale(0.93 1)">R+α (Å)</text>
<text x="0" y="0" font-size="18.73" fill="#000" stroke="#000" stroke-width="0.2" transform="translate(473.3 451.3) scale(0.93 1)">j</text>
<g clip-path="url(#clipk)">
<rect x="494" y="556.8" width="162.3" height="68.4" fill="#0808ff"/>
<path d="M493.8,555.8L657.3,555.8 657.3,625.5 655.9,625.5 657.3,625.5 657.3,626.2 504.5,626.2 520.5,625.5 493,625 493,555.8ZM534.3,565.8L530.2,566.5 528.1,567.2 527.5,567.9 528.3,568.6 530.7,569.3 535.1,569.9 540.9,570.2 551.6,569.8 556.6,569 559.7,567.9 559.9,567.2 558.9,566.5 557.4,566.1 553.3,565.4 547.5,565.1 535.1,565.7ZM609.7,570L606.3,570.7 605.9,571.4 608.5,572.2 617.7,572.7 627.6,572.3 631.4,571.4 631.2,570.7 627.9,570 619.3,569.6 610.2,570Z" fill="#1a1aff"/>
<path d="M493.8,555.8L657.3,555.8 657.3,624.6 611.3,625.5 615.9,626.2 544.8,626.2 545.2,625.5 524.3,624.8 493,624.4 493,605.1 508.9,604.2 512.1,603.4 507.2,602.7 493,602.4 493,573.7 498.8,574.8 504.6,575.4 510.3,575.5 516.9,575.1 532.6,573 549.1,571.7 559.1,570.5 563.2,569.6 565.7,568.8 566.9,567.9 566.9,567.2 565.7,566.3 562.4,565.3 553.3,564.3 543.4,564.1 521.9,564.7 516.1,564.4 501.3,563 497.1,563 493,563.4 493,555.8ZM610.1,568.6L602.8,569.2 598.3,570 596.8,570.7 597,571.4 598.8,572.2 603,572.9 610.2,573.4 626.8,573.4 633.5,572.9 638.1,572.2 640.1,571.4 640.3,570.7 638.9,570 634.2,569.2 626.8,568.6 610.2,568.6Z" fill="#2b2bff"/>
<path d="M500.4,555.8L657.3,555.8 657.3,602.5 653.9,602.7 650.7,603.4 651.1,604.2 657.3,605.1 657.3,624.2 556.6,625.2 493,623.9 493,605.8 512.1,604.9 520.2,604.2 523.4,603.4 521.9,602.7 513.6,602.1 493,601.6 493,582.9 507.9,582.3 553.9,578.6 555.5,577.8 552.8,576.4 552.1,575.7 552.3,575 553.6,574.3 560,572.9 578,570.1 580.5,570.1 587.4,572.2 596.2,573.4 606.1,574.1 617.7,574.3 632.5,573.9 643.3,572.9 647.6,572.2 649.8,571.4 650.7,570.7 650.6,570 647.4,568.8 642.4,568.1 634.2,567.4 622.6,567.1 602,567.4 581.3,569.1 580.5,568.9 577.7,567.2 574.2,565.8 565.7,564.1 554.1,563.3 529.3,563.1 519.9,562.2 514.5,561.1 509.5,559.7 499.8,555.8Z" fill="#3c3cff"/>
<path d="M513.6,555.8L657.3,555.8 657.3,563.5 640.8,564.8 618.5,565.1 595.4,564.7 566.5,562.5 540.1,562.3 531,561.9 524.4,561 518.6,559.5 515.2,557.9 514.1,557.2 513.1,555.8ZM653.2,573.6L657.3,573.2 657.3,601.7 646.7,602.7 643.8,603.4 644.1,604.2 647.7,604.9 657.3,605.9 657.3,623.8 624.3,624.3 556.6,624.7 493,623.5 493,606.5 521.3,604.9 528.1,604.2 530.9,603.4 530,602.7 520.2,601.6 493,600.9 493,587.8 507,586.4 532.6,582.7 546.7,581 555.7,580.3 569,580 577,579.3 580.6,578.6 581.9,577.8 581.8,577.1 580.8,575.7 583.2,575 590.4,574.8 625.9,574.9 640,574.4 653.1,573.6Z" fill="#4c4cff"/>
<path d="M521.1,555.8L657.3,555.8 657.3,560.4 648.2,561.7 639.1,562.5 617.7,563.2 599.5,562.7 572.3,560.7 547.5,561.3 535.9,561 530.2,560.3 525.2,559.2 521.9,557.7 520.7,556.5 520.6,555.8ZM615.2,575.7L657.3,575.3 657.3,601 645.9,602 640.5,602.7 638,603.4 638.2,604.2 641.2,604.9 657.3,606.7 657.3,623.4 634.2,623.9 555.7,624.4 493,623.1 493,607.1 528.4,604.9 534.3,604.2 536.6,603.4 536,602.7 532.8,602 522.7,601 507,600.3 493,600.1 493,590.5 502.9,589.6 517.8,587.5 547.5,582.1 555.7,581.2 579.8,580 585.1,579.3 592.9,577.1 597,576.4 614.5,575.7Z" fill="#5e5eff"/>
<path d="M527.7,555.8L657.3,555.8 657.3,557.4 656,557.9 647.4,559.9 634.2,561.3 617.7,561.8 597.9,561 571.4,558.2 566.5,558.3 550,559.9 539.2,559.8 534.5,559.4 530.2,558.3 527.9,557.2 527.4,556.5 527.4,555.8ZM619.3,576.4L634.2,576.4 657.3,577 657.3,600.4 640.1,602 632.7,603.4 632.7,604.2 635.7,604.9 657.3,607.6 657.3,622.9 632.5,623.6 555.7,624 493,622.4 493,607.7 532.6,605 539.2,604.2 541.1,603.4 540.6,602.7 538,602 523.5,600.3 507,599.3 493,599.1 493,593 503.7,591.9 518.6,589.5 544.2,583.6 550,582.6 555.7,582 580.5,580.6 586.5,580 602.8,577.2 618.6,576.4Z" fill="#6e6eff"/>
<path d="M535.9,556L536.1,555.8 553.5,555.8 553.9,556.5 552.8,557.2 550,557.8 544.2,558.2 539.2,557.9 536.6,557.2 535.7,556.5ZM583,555.8L650.9,555.8 649.9,556.8 647.4,557.9 640.8,559.2 630.1,560.2 617.7,560.6 605.3,560.2 594.6,559.2 585.5,557.5 582.9,556.5 582.3,555.8ZM608.6,577.8L617.7,577.3 630.1,577.2 657.3,578.5 657.3,599.7 635.3,602 626.9,603.4 626.5,604.2 629.8,604.9 648.2,607.2 657.3,608.7 657.3,622.1 649.9,622.6 629.2,623.3 555.7,623.8 514.3,622.6 501.9,621.9 493,620.4 493,608.2 533.5,605.5 541.7,604.5 543.4,604.2 544.8,603.4 544.2,602.7 542.1,602 536.8,601 503.8,597 502.3,596.3 503.2,595.6 507.9,594.2 521.1,591.2 545,584.5 549.7,583.5 556.6,582.6 585.8,580.7 607.9,577.8Z" fill="#8080ff"/>
<path d="M592.1,555.8L643.1,555.8 642.5,556.5 640.8,557.2 635,558.4 626.8,559.2 617.7,559.4 608.6,559.2 600.3,558.4 594.1,557.2 592.3,556.5 591.6,555.8ZM611.1,578.5L619.3,578.1 630.9,578.1 657.3,579.9 657.3,599 624.6,602.7 620.7,603.4 619.9,604.2 622.9,604.9 646.4,607.7 651.5,608.7 656.5,610.4 657.3,610.4 657.3,616.8 656.5,616.8 651.5,619.1 650.5,619.8 650.1,621.2 647.5,621.9 637.8,622.6 621.8,623 578,623.5 549.3,623.4 526,622.6 513.7,621.9 500.1,619.8 493,619 493,608.8 537.3,605.6 543.5,604.9 547,604.2 548.3,603.4 547.5,602.7 545.3,602 526.2,598.5 523.4,597.8 520.3,596.3 520,595.6 521.3,594.2 524.1,592.8 529.7,590.6 546.7,585.1 554.9,583.4 585.5,581.2 610.4,578.6Z" fill="#9090ff"/>
<path d="M601.2,555.8L634.4,555.8 633.4,556.5 629.2,557.4 624.2,557.9 617.7,558.1 611.1,557.9 605.3,557.3 601.9,556.5 600.8,555.8ZM611.9,579.2L620.1,578.8 630.9,578.9 657.3,581.1 657.3,598.1 634.2,601.1 618.8,602.7 613.6,603.4 612.2,604.2 615.7,604.9 641.5,607.7 648.7,609.1 651.5,610.1 653.9,611.3 654.8,612 655.6,613.4 655.1,614.8 654,615.8 651.5,617.1 644.3,619.8 641.7,621.2 637.7,621.9 621,622.6 597,622.9 571.4,623.2 546.7,623 523.4,621.9 502.1,619.1 493,618.2 493,609.4 541.7,605.6 547.3,604.9 550.9,604.2 551.6,603.8 552.1,603.4 551.1,602.7 530.4,597.8 528.9,597 528,596.3 527.6,595.6 528.2,594.2 531.6,592.1 546.7,586.1 553.3,584.5 559.1,583.6 589.2,581.4 611.7,579.3Z" fill="#a2a2ff"/>
<path d="M611.9,580L620.1,579.6 630.9,579.8 657.3,582.4 657.3,597 635,600.5 604.3,603.4 602.8,604.2 606.7,604.9 636.8,607.7 644.9,609.3 650.2,611.3 651.9,612.7 652.1,614.1 650.8,615.5 649.6,616.2 635.8,620.6 630.1,621.5 622.8,621.9 592.9,622.6 547.4,622.6 527.7,621.5 508.5,619.1 493,617.6 493,610 541.7,606 551.5,604.9 554.9,604.2 556.2,603.4 554.8,602.7 545.3,600.6 537.4,598.5 534.5,597 533.2,595.6 533.6,594.2 536.1,592.1 540.1,589.9 548.3,586.6 555.7,584.7 561.5,583.9 611.7,580Z" fill="#b2b2ff"/>
<path d="M611.1,580.7L620.1,580.3 630.9,580.5 644.9,581.9 657.3,583.6 657.3,595.8 644.6,598.5 632.5,600.3 618.5,601.7 593.3,603.4 591.2,604.2 596.7,604.9 635,608.2 642.8,609.8 645.7,610.9 647.7,612 648.8,613.4 648.2,614.8 646.6,615.9 643.9,617 633.4,619.5 617.9,621.2 602.9,621.9 579.7,622.4 555.7,622.5 548.3,622.2 532.8,621.2 493,617 493,610.6 543.3,606.3 563.5,604.2 564.8,603.5 555.7,602.1 545.2,599.9 539.5,597.8 537.7,596.3 537.3,595.6 537.4,594.2 539.4,592.1 545,588.9 550,587 555.7,585.4 564,584.2 610.5,580.7Z" fill="#c3c3ff"/>
<path d="M608.6,581.4L619.3,580.9 630.9,581.2 645.7,583 657.3,584.9 657.3,594.5 647.4,597 636.6,599.2 629.2,600.2 615.2,601.5 578.9,603.1 565.7,602.4 555.7,601.4 547.5,599.8 542.6,597.8 540.9,596.3 540.5,595.6 540.5,594.2 541.5,592.8 545.4,589.9 550.3,587.8 556.6,586 562.7,585 572.3,583.9 608.3,581.4ZM569,604.9L576.4,604.6 587.1,605.1 622.6,607.5 635.8,609.1 639.1,609.9 643,611.3 645.1,612.7 645.4,613.4 645.3,614.1 643.7,615.5 638.3,617.5 629.2,618.9 605.3,621 580.1,621.9 553.5,621.9 539.2,621.1 493,616.3 493,611.2 555.7,605.4 568.7,604.9Z" fill="#d4d4ff"/>
<path d="M605.3,582.1L618.5,581.5 631.7,582 647.3,584.2 652.3,585.4 656.5,586.7 657.3,586.6 657.3,592.8 656.5,592.8 651.2,594.9 643.5,597 633.2,599.2 615.2,601 584.6,602.2 575.6,602.3 566.5,601.8 556.6,600.9 551,599.9 546.3,598.5 545,597.8 543.5,596.3 543.1,594.9 543.4,593.5 545.8,591 551,588.5 557.4,586.6 564,585.4 573.7,584.2 605,582.1ZM567.3,605.6L576.4,605.4 589.6,605.9 623.4,608.3 635.2,609.8 639.6,611.3 641.8,612.7 642.1,613.4 642,614.1 640.4,615.5 636.7,616.9 632.5,617.6 605.3,620 582.2,621.2 555.7,621.4 546.7,620.9 519.4,618.5 493,615.6 493,612 521.1,608.9 555.7,606 567.3,605.6Z" fill="#e6e6ff"/>
<path d="M616.8,582.1L632.5,582.8 641.9,584.2 648.6,585.7 652.7,587.1 654.9,588.5 655.5,589.9 655.3,590.6 653.8,592.1 650.7,593.7 645.2,595.6 637.2,597.8 630.1,599.1 614.4,600.7 587.9,601.7 575.6,601.7 566.5,601.3 557.4,600.4 551.2,599.2 547.4,597.8 546.4,597 545.4,595.6 545.2,594.9 545.6,593.5 547.6,591.4 550.8,589.6 555.7,587.8 561.5,586.4 568.1,585.4 589.6,583.5 616.2,582.1ZM560.7,606.3L580.5,606.1 613.5,608 631.7,610.1 636.2,611.3 638.6,612.7 639,613.4 638.9,614.1 637,615.5 634.2,616.4 630.1,617.1 605.3,619.2 578,620.6 555.7,620.7 543.4,620 511.2,617.1 498.9,615.5 493,614.3 493,613.3 499.1,612 509.7,610.6 523.5,609.1 559.9,606.3Z" fill="#f6f6ff"/>
<path d="M611.1,582.8L618.5,582.6 625.9,582.9 631.7,583.4 637.3,584.2 644,585.7 648.5,587.1 651,588.5 651.6,589.2 651.6,590.6 650.3,592.1 646,594.2 639.5,596.3 632.5,598.1 619.2,599.9 602,600.9 576.4,601.3 567.3,600.8 558.2,600 552.4,598.7 548.9,597 547.6,595.6 547.4,594.9 547.7,593.5 549.9,591.4 554.3,589.2 559.1,587.7 565.6,586.4 578,584.8 610.6,582.8ZM554.9,607L573.9,606.5 587.9,607 610.3,608.4 628.5,610.6 632.5,611.5 635.3,612.7 635.8,613.4 635.6,614.1 634.7,614.8 632.9,615.5 629.2,616.3 616,617.7 579.7,619.9 555.7,620 542.5,619.4 522.7,617.8 503.9,615.5 500.4,614.8 498.6,614.1 498.7,613.4 500.6,612.7 504,612 520.7,609.8 554.4,607Z" fill="#fff7f7"/>
<path d="M606.1,583.5L620.1,583.2 633.4,584.3 639.7,585.7 644.9,587.3 647.3,588.5 647.9,589.2 648.1,590.6 646.9,592.1 642.8,594.2 636.7,596.3 631.2,597.8 617.7,599.6 602,600.4 577.2,600.8 562.3,599.9 556.6,599 552.8,597.8 550.6,596.3 550.1,595.6 549.8,594.2 550,593.5 551.3,592.1 555,589.9 559.1,588.5 565.3,587.1 578,585.3 605.3,583.5ZM551.6,607.7L556.6,607.3 571.4,607.1 584.6,607.4 609.4,609 625.1,611.1 629.1,612 630.8,612.7 631.5,613.4 631.2,614.1 630,614.8 623,616.2 608.6,617.7 578,619.3 555.7,619.4 541.7,618.8 524.4,617.5 508.5,615.5 505.3,614.8 503.5,614.1 503.6,613.4 508.6,612 521.1,610.3 551.1,607.7Z" fill="#ffe5e5"/>
<path d="M600.3,584.2L616.8,583.7 630.1,584.5 635.8,585.6 640.7,587.1 643.7,588.5 644.8,589.9 644.4,591.4 641.4,593.5 636.2,595.6 631.4,597 618.5,599 603.6,600 581.3,600.4 567.3,599.8 561.5,599.2 556.6,598.1 553.3,596.4 552.2,594.9 552.2,594.2 552.9,592.8 555.7,590.8 559.6,589.2 565.2,587.8 577.2,585.9 599.8,584.2ZM559.9,607.7L578,607.6 598.7,608.8 615.6,610.6 622.6,611.8 625.3,612.7 626.1,613.4 625.7,614.1 624,614.8 615.9,616.2 599.6,617.7 575.6,618.8 555.7,618.9 538.4,618.1 517.4,616.2 510.3,615 508.1,614.1 508.1,613.4 509.8,612.7 517.8,611.2 545,608.6 559.7,607.7Z" fill="#ffd5d5"/>
<path d="M614.4,584.2L621,584.4 628.4,585 635.8,586.5 639.1,587.8 641.2,589.2 641.7,590.6 641.4,591.4 639.8,592.8 637.3,594.2 632.5,596 622.6,598 613.5,599 592.1,599.9 574.7,599.8 567.3,599.3 561.5,598.4 557,597 555.1,595.6 554.6,594.2 554.8,593.5 556,592.1 558.5,590.6 562.5,589.2 568.5,587.8 575.6,586.6 594.6,585 613.9,584.2ZM554.1,608.4L571.4,608.1 581.3,608.3 601.2,609.7 613.6,611.3 619.1,612.7 620,613.4 619.5,614.1 614.1,615.5 600.3,617 577.2,618.3 555.7,618.4 538.3,617.7 522.7,616.3 517.1,615.5 513.9,614.8 512.3,614.1 512.3,613.4 513.9,612.7 517,612 535.9,609.8 554,608.4Z" fill="#ffc3c3"/>
<path d="M606.9,585L619.3,584.9 630.9,586.1 634.6,587.1 637.5,588.5 638.8,589.9 638.7,591.4 637.4,592.8 633.4,594.9 630.1,595.9 624.8,597 614.4,598.5 596.2,599.4 577.2,599.4 566.2,598.5 562.4,597.7 558.7,596.3 557.2,594.9 557.1,594.2 557.7,592.8 559.7,591.4 563.2,589.9 573.9,587.4 590.4,585.7 606.8,585ZM551.6,609.1L565.7,608.7 579.7,608.8 599.5,610.3 610.7,612 612.9,612.7 613.8,613.4 613.3,614.1 611.2,614.8 601.3,616.2 587.1,617.3 573.1,617.9 546.7,617.7 527.8,616.2 518.2,614.8 516.4,614.1 516.4,613.4 518.1,612.7 521.6,612 533.6,610.6 550.9,609.1Z" fill="#ffb3b3"/>
<path d="M601.2,585.7L616.8,585.4 628.4,586.4 631.7,587.2 634.9,588.5 636.3,589.9 636.3,591.4 635,592.8 632.5,594.2 629.2,595.3 623.4,596.6 614.4,597.9 597,598.9 578.9,599 569.8,598.3 564.8,597.3 561.8,596.3 560,594.9 559.9,593.5 561.2,592.1 564.1,590.6 573.1,588.2 587.1,586.5 601,585.7ZM548.3,609.8L556.6,609.3 577.2,609.3 594,610.6 604.1,612 606.6,612.7 607.5,613.4 606.9,614.1 604.5,614.8 597,615.9 582.2,617 571.4,617.4 545.8,617.1 533.3,616.2 522.9,614.8 520.9,614.1 520.9,613.4 522.8,612.7 532.2,611.3 547.6,609.8Z" fill="#ffa2a2"/>
<path d="M597,586.4L614.4,585.9 622.5,586.4 627.3,587.1 630.9,588 633.3,589.2 634.1,590.6 633.5,592.1 631.5,593.5 629.2,594.4 624.3,595.8 615.2,597.3 599.5,598.3 585.5,598.5 573.1,598 568.1,597.1 565.4,596.3 563.9,595.6 562.6,594.2 563.2,592.8 565.4,591.4 571.9,589.2 580.5,587.8 596.7,586.4ZM560.7,609.8L573.1,609.8 581.3,610.1 592.3,611.3 599.9,612.7 600.9,613.4 600.1,614.1 597.3,614.8 585,616.2 573.1,616.8 555.7,616.8 542.5,616.5 532.8,615.5 528.5,614.8 526.3,614.1 526.2,613.4 528.3,612.7 537.5,611.3 546.7,610.5 560,609.8Z" fill="#ff9191"/>
<path d="M594.6,587.1L611.1,586.5 618.5,586.7 626.8,587.9 629.2,588.6 631.3,589.9 631.7,590.6 631.6,591.4 630.2,592.8 624.5,594.9 616,596.6 605.3,597.4 592.1,598 578,597.7 570.6,596.7 567.4,595.6 566.3,594.9 565.7,594.2 565.7,593.5 567,592.1 572.4,589.9 580,588.5 594.1,587.1ZM555.7,610.6L577.2,610.6 584.9,611.3 592.5,612.7 593.5,613.4 592.6,614.1 589.7,614.8 577.2,616.1 547.5,616.1 539.2,615.6 534.1,614.8 531.8,614.1 531.7,613.4 533.6,612.7 543.9,611.3 555.7,610.6Z" fill="#ff8080"/>
<path d="M592.9,587.8L615.2,587.2 621.7,587.8 627,589.2 628.2,589.9 628.8,590.6 628.7,591.4 628.2,592.1 625.7,593.5 618.5,595.5 611.1,596.4 597,597.3 587.1,597.4 577.2,596.9 573.5,596.3 571.1,595.6 569.6,594.9 568.9,594.2 568.8,593.5 570.1,592.1 573.1,590.7 580.1,589.2 592.6,587.8ZM559.1,611.3L575,611.3 582.3,612 585.5,612.7 586.5,613.4 585.6,614.1 583.8,614.5 578.9,615.2 572.3,615.6 546.7,615.3 540.5,614.8 537.6,614.1 537.4,613.4 539.5,612.7 543.4,612.1 558.5,611.3Z" fill="#ff6e6e"/>
<path d="M592.1,588.5L601.2,588 613.5,587.8 619.3,588.3 623.1,589.2 624.6,589.9 625.3,590.6 625.4,591.4 624,592.8 618.5,594.7 612.1,595.6 599.5,596.5 590.4,596.7 578.9,596.1 573.9,595.1 572.4,594.2 572.2,593.5 572.5,592.8 573.4,592.1 574.9,591.4 581,589.9 592,588.5ZM551.6,612.7L561.5,612.4 574.7,612.5 576.9,612.7 578.7,613.4 577.2,614.1 573.1,614.5 555.7,614.5 546.7,614.1 545.5,613.4 551.6,612.7Z" fill="#ff5e5e"/>
<path d="M592.9,589.2L601.2,588.8 611.9,588.7 616,588.9 619.3,589.5 620.7,589.9 621.8,590.7 622,591.4 621.6,592.1 620.6,592.8 616.3,594.2 610.9,594.9 600.3,595.7 592.1,596 584.6,595.6 578,594.6 576.9,594.2 576.2,593.5 576.4,592.8 577.5,592.1 582.7,590.6 592.6,589.2Z" fill="#ff4c4c"/>
<path d="M595.4,589.9L611.9,589.7 614.9,589.9 617.3,590.6 617.9,591.4 617.6,592.1 616.4,592.8 614.4,593.3 601.2,594.8 590.1,594.9 584.6,594.2 582.7,593.5 582.5,592.8 583.6,592.1 585.7,591.4 594.9,589.9Z" fill="#ff3c3c"/>
<path d="M595.4,591.3L602,591.1 606.9,591.4 608,592.1 605.6,592.8 599.6,593.5 593.7,593.5 591.2,592.9 590.9,592.8 591.6,592.1 594.8,591.4Z" fill="#ff2a2a"/>
</g>
<rect x="494" y="556.8" width="162.3" height="68.4" fill="none" stroke="#444" stroke-width="0.6"/>
<line x1="494" y1="625.2" x2="495.8" y2="625.2" stroke="#222" stroke-width="0.7"/>
<text x="0" y="0" font-size="8.56" fill="#000" text-anchor="end" transform="translate(491.8 628.1) scale(0.93 1)">1</text>
<line x1="494" y1="602.4" x2="495.8" y2="602.4" stroke="#222" stroke-width="0.7"/>
<text x="0" y="0" font-size="8.56" fill="#000" text-anchor="end" transform="translate(491.8 605.3) scale(0.93 1)">2</text>
<line x1="494" y1="579.6" x2="495.8" y2="579.6" stroke="#222" stroke-width="0.7"/>
<text x="0" y="0" font-size="8.56" fill="#000" text-anchor="end" transform="translate(491.8 582.5) scale(0.93 1)">3</text>
<line x1="494" y1="556.8" x2="495.8" y2="556.8" stroke="#222" stroke-width="0.7"/>
<text x="0" y="0" font-size="8.56" fill="#000" text-anchor="end" transform="translate(491.8 559.7) scale(0.93 1)">4</text>
<line x1="494" y1="625.2" x2="494" y2="623.4" stroke="#222" stroke-width="0.7"/>
<text x="0" y="0" font-size="8.56" fill="#000" text-anchor="middle" transform="translate(494 634) scale(0.93 1)">0</text>
<line x1="509.46" y1="625.2" x2="509.46" y2="624.1" stroke="#222" stroke-width="0.7"/>
<line x1="524.91" y1="625.2" x2="524.91" y2="623.4" stroke="#222" stroke-width="0.7"/>
<text x="0" y="0" font-size="8.56" fill="#000" text-anchor="middle" transform="translate(524.91 634) scale(0.93 1)">2</text>
<line x1="540.37" y1="625.2" x2="540.37" y2="624.1" stroke="#222" stroke-width="0.7"/>
<line x1="555.83" y1="625.2" x2="555.83" y2="623.4" stroke="#222" stroke-width="0.7"/>
<text x="0" y="0" font-size="8.56" fill="#000" text-anchor="middle" transform="translate(555.83 634) scale(0.93 1)">4</text>
<line x1="571.29" y1="625.2" x2="571.29" y2="624.1" stroke="#222" stroke-width="0.7"/>
<line x1="586.74" y1="625.2" x2="586.74" y2="623.4" stroke="#222" stroke-width="0.7"/>
<text x="0" y="0" font-size="8.56" fill="#000" text-anchor="middle" transform="translate(586.74 634) scale(0.93 1)">6</text>
<line x1="602.2" y1="625.2" x2="602.2" y2="624.1" stroke="#222" stroke-width="0.7"/>
<line x1="617.66" y1="625.2" x2="617.66" y2="623.4" stroke="#222" stroke-width="0.7"/>
<text x="0" y="0" font-size="8.56" fill="#000" text-anchor="middle" transform="translate(617.66 634) scale(0.93 1)">8</text>
<line x1="633.11" y1="625.2" x2="633.11" y2="624.1" stroke="#222" stroke-width="0.7"/>
<line x1="648.57" y1="625.2" x2="648.57" y2="623.4" stroke="#222" stroke-width="0.7"/>
<text x="0" y="0" font-size="8.56" fill="#000" text-anchor="middle" transform="translate(648.57 634) scale(0.93 1)">10</text>
<text x="0" y="0" font-size="9.84" fill="#fff" transform="translate(498.6 567.6) scale(0.93 1)">CuRu/CS</text>
<rect x="661.1" y="557.3" width="5.9" height="67.4" fill="url(#cbk)"/>
<text x="0" y="0" font-size="6.74" fill="#000" transform="translate(669.2 561.3) scale(0.93 1)">0.14</text>
<text x="0" y="0" font-size="6.74" fill="#000" transform="translate(669.2 570.61) scale(0.93 1)">0.12</text>
<text x="0" y="0" font-size="6.74" fill="#000" transform="translate(669.2 579.93) scale(0.93 1)">0.10</text>
<text x="0" y="0" font-size="6.74" fill="#000" transform="translate(669.2 589.24) scale(0.93 1)">0.08</text>
<text x="0" y="0" font-size="6.74" fill="#000" transform="translate(669.2 598.56) scale(0.93 1)">0.06</text>
<text x="0" y="0" font-size="6.74" fill="#000" transform="translate(669.2 607.87) scale(0.93 1)">0.04</text>
<text x="0" y="0" font-size="6.74" fill="#000" transform="translate(669.2 617.19) scale(0.93 1)">0.02</text>
<text x="0" y="0" font-size="6.74" fill="#000" transform="translate(669.2 626.5) scale(0.93 1)">0.00</text>
<text x="0" y="0" font-size="9.52" text-anchor="middle" transform="translate(581.5 645) scale(0.93 1)"><tspan font-style="italic">k</tspan> (Å<tspan font-size="5.89" dy="-3">-1</tspan><tspan dy="3">)</tspan></text>
<text x="0" y="0" font-size="9.1" text-anchor="middle" transform="translate(482.6 590) rotate(-90) scale(0.93 1)">R+α (Å)</text>
<text x="0" y="0" font-size="18.73" fill="#000" stroke="#000" stroke-width="0.2" transform="translate(473.9 555.5) scale(0.93 1)">k</text>
<text x="0" y="0" font-size="9.63" fill="#fff4f4" text-anchor="middle" transform="translate(599.2 487.4) scale(0.93 1)">Ru-Ru</text>
<text x="0" y="0" font-size="9.63" fill="#ffeeee" text-anchor="middle" transform="translate(559.5 508.4) scale(0.93 1)">Ru-C/O</text>
<text x="0" y="0" font-size="9.63" fill="#ffffff" text-anchor="middle" transform="translate(600.5 595.8) scale(0.93 1)">Ru-Ru</text>
<text x="0" y="0" font-size="9.63" fill="#ffeeee" text-anchor="middle" transform="translate(562 616.8) scale(0.93 1)">Ru-C/O</text></svg></body></html>
